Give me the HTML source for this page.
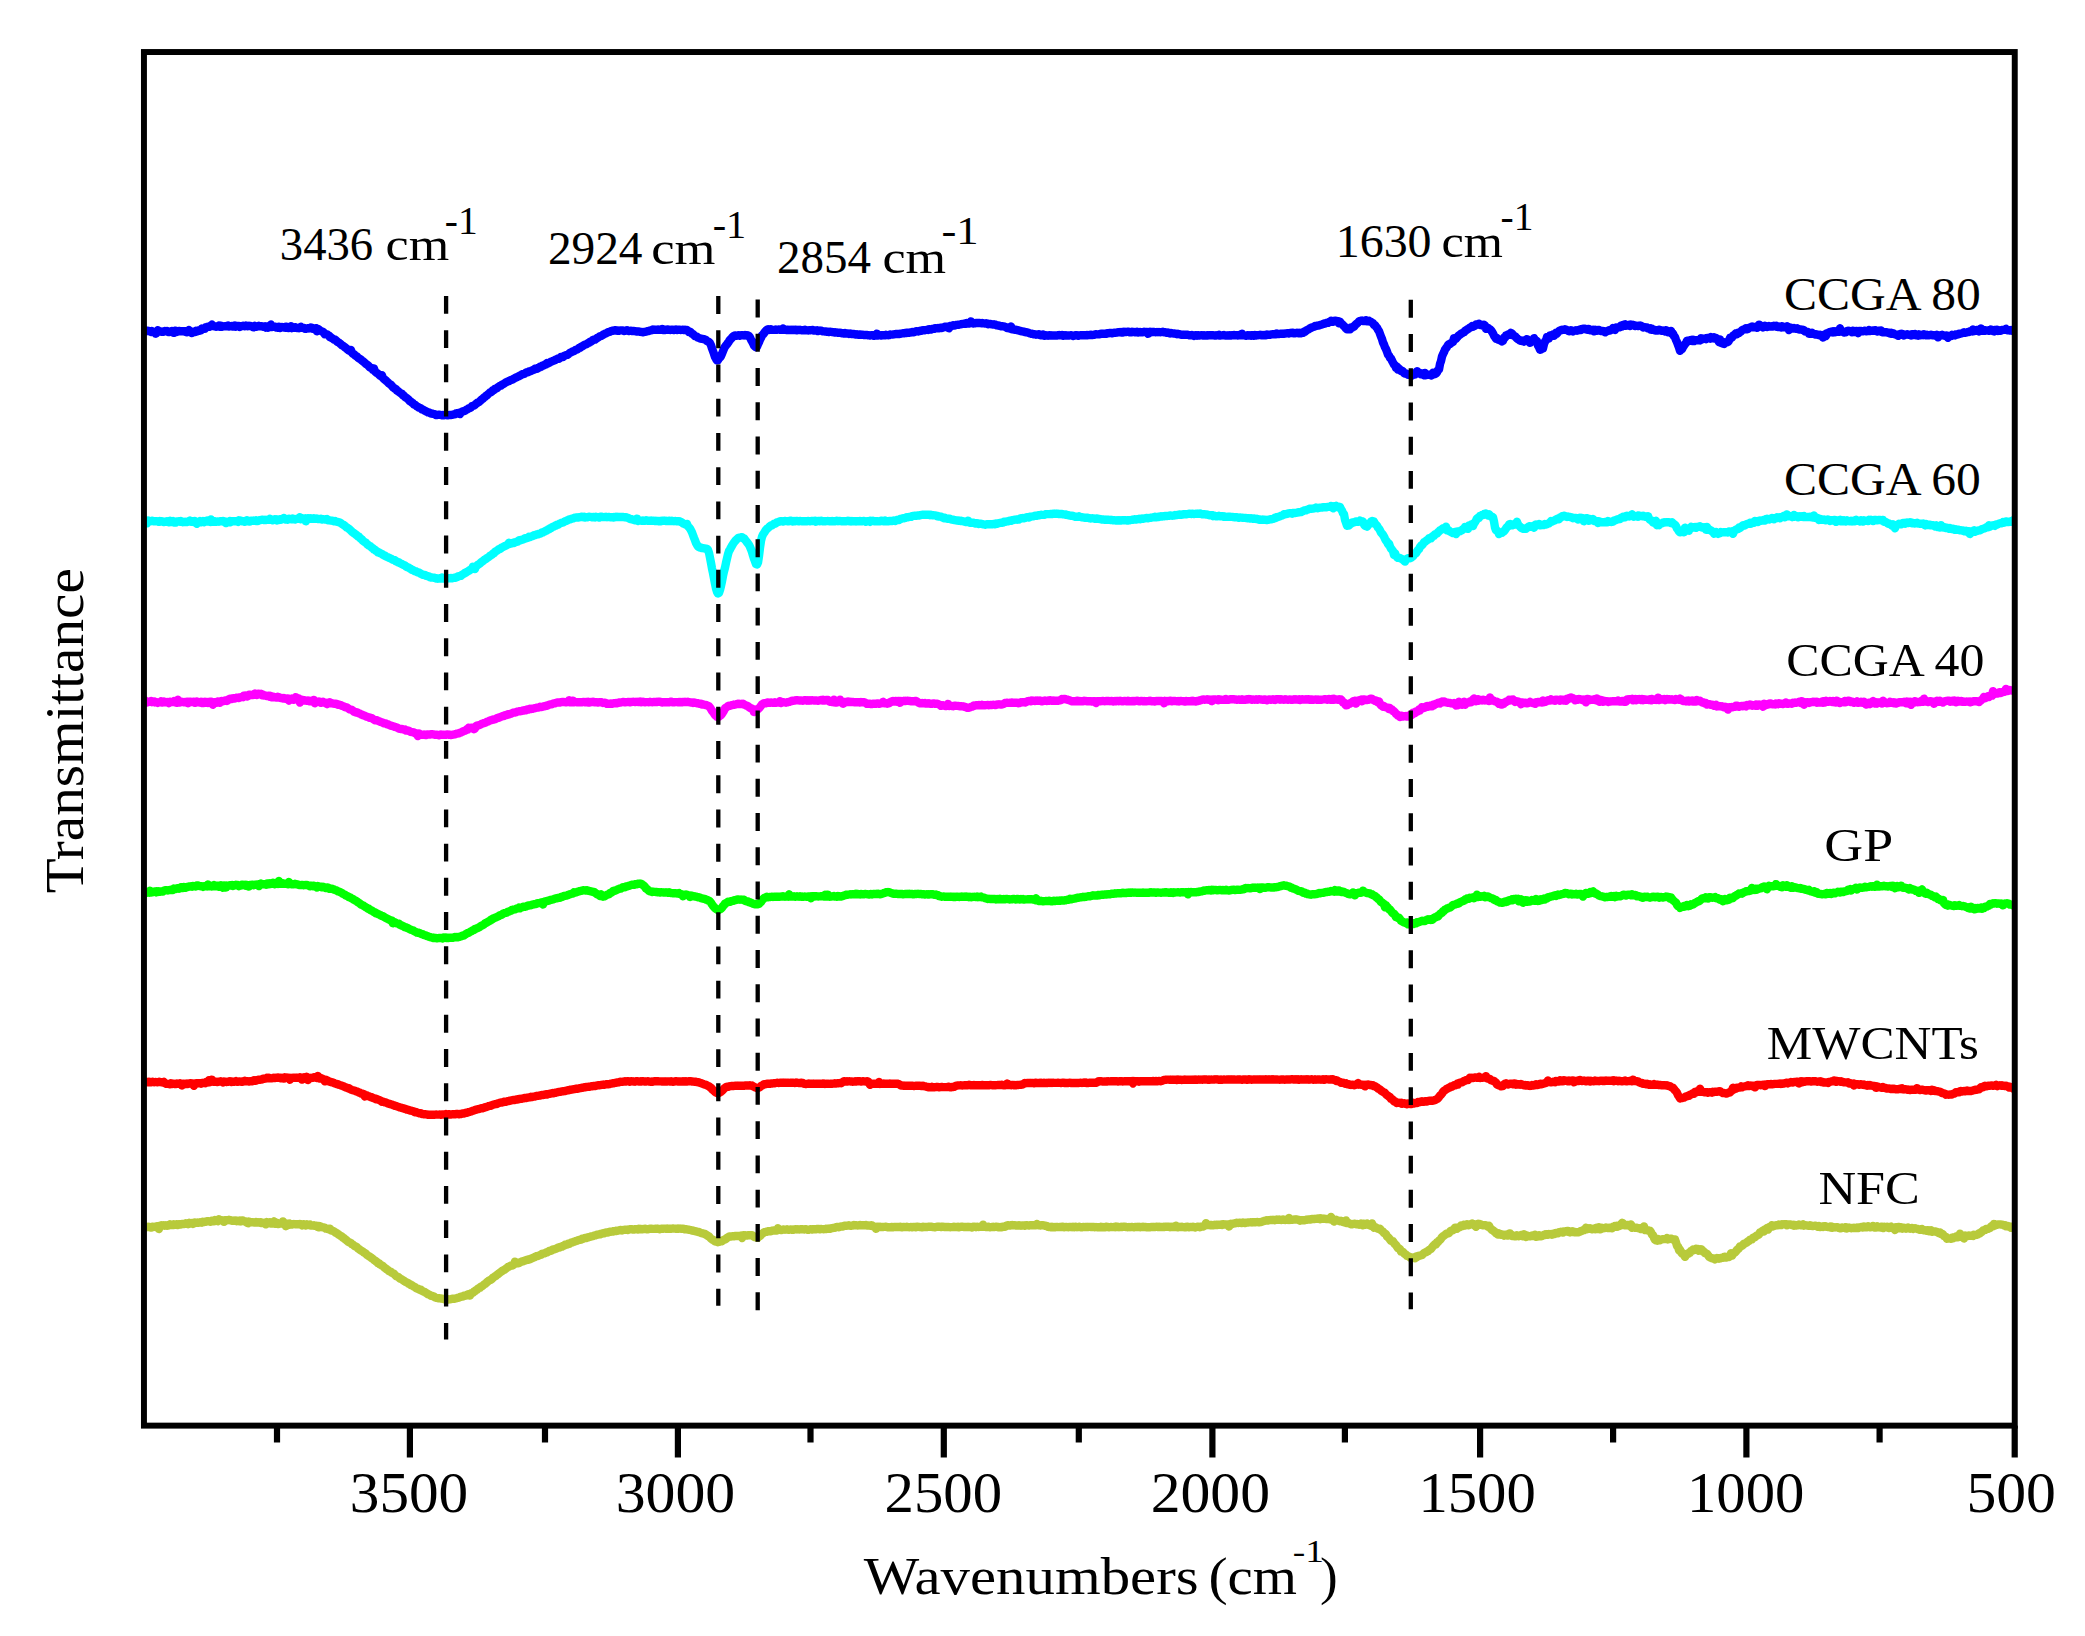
<!DOCTYPE html>
<html lang="en"><head><meta charset="utf-8"><title>FTIR spectra</title>
<style>html,body{margin:0;padding:0;background:#fff}body{width:2085px;height:1636px;overflow:hidden}svg{display:block}text{font-family:"Liberation Serif",serif;fill:#000}</style></head><body>
<svg width="2085" height="1636" viewBox="0 0 2085 1636">
<rect width="2085" height="1636" fill="#fff"/>
<clipPath id="plotclip"><rect x="143.95" y="52.03" width="1871.8" height="1373.6"/></clipPath>
<g clip-path="url(#plotclip)" fill="none" stroke-width="8.4" stroke-linejoin="round" stroke-linecap="butt">
<path stroke="#b8ca3b" d="M143.9,1227.6 L144.9,1227.7 L145.9,1227.3 L146.9,1227.0 L147.9,1227.1 L148.9,1226.8 L149.9,1227.2 L150.9,1227.6 L151.9,1226.8 L152.9,1226.6 L153.9,1227.0 L154.9,1226.8 L155.9,1226.7 L156.9,1226.1 L157.9,1226.4 L158.9,1229.0 L159.9,1225.7 L160.9,1226.0 L161.9,1225.3 L162.9,1225.5 L163.9,1225.1 L164.9,1225.7 L165.9,1225.2 L166.9,1225.7 L167.9,1225.6 L168.9,1225.4 L169.9,1224.3 L170.9,1225.0 L171.9,1225.1 L172.9,1225.1 L173.9,1224.3 L174.9,1224.7 L175.9,1224.4 L176.9,1224.3 L177.9,1225.0 L178.9,1224.1 L179.9,1224.3 L180.9,1224.6 L181.9,1223.9 L182.9,1224.0 L183.9,1224.0 L184.9,1223.9 L185.9,1223.2 L186.9,1223.7 L187.9,1224.1 L188.9,1222.8 L189.9,1223.7 L190.9,1223.3 L191.9,1222.9 L192.9,1223.9 L193.9,1223.3 L194.9,1222.4 L195.9,1222.8 L196.9,1222.9 L197.9,1222.5 L198.9,1222.7 L199.9,1222.3 L200.9,1222.5 L201.9,1222.7 L202.9,1221.8 L203.9,1222.0 L204.9,1221.6 L205.9,1221.8 L206.9,1221.1 L207.9,1221.3 L208.9,1221.3 L209.9,1221.7 L210.9,1221.7 L211.9,1220.6 L212.9,1220.7 L213.9,1221.2 L214.9,1220.0 L215.9,1220.6 L216.9,1220.7 L217.9,1221.2 L218.9,1219.2 L219.9,1220.4 L220.9,1220.3 L221.9,1220.3 L222.9,1221.0 L223.9,1221.9 L224.9,1220.2 L225.9,1220.4 L226.9,1220.2 L227.9,1220.2 L228.9,1219.8 L229.9,1220.3 L230.9,1220.2 L231.9,1220.9 L232.9,1220.7 L233.9,1220.5 L234.9,1220.9 L235.9,1220.5 L236.9,1221.2 L237.9,1220.8 L238.9,1221.2 L239.9,1220.5 L240.9,1221.3 L241.9,1220.5 L242.9,1220.5 L243.9,1221.3 L244.9,1221.1 L245.9,1221.7 L246.9,1222.6 L247.9,1223.2 L248.9,1221.6 L249.9,1222.1 L250.9,1222.3 L251.9,1222.1 L252.9,1222.1 L253.9,1222.6 L254.9,1222.6 L255.9,1222.0 L256.9,1222.4 L257.9,1222.5 L258.9,1222.1 L259.9,1222.7 L260.9,1222.3 L261.9,1223.1 L262.9,1222.9 L263.9,1222.9 L264.9,1222.6 L265.9,1224.4 L266.9,1222.1 L267.9,1222.5 L268.9,1223.2 L269.9,1222.2 L270.9,1223.5 L271.9,1222.5 L272.9,1223.6 L273.9,1221.3 L274.9,1223.7 L275.9,1223.4 L276.9,1222.8 L277.9,1224.0 L278.9,1224.1 L279.9,1223.6 L280.9,1223.5 L281.9,1223.6 L282.9,1221.4 L283.9,1224.3 L284.9,1223.6 L285.9,1226.2 L286.9,1223.6 L287.9,1223.7 L288.9,1223.5 L289.9,1224.6 L290.9,1224.1 L291.9,1224.6 L292.9,1224.2 L293.9,1224.0 L294.9,1224.2 L295.9,1224.1 L296.9,1224.4 L297.9,1224.3 L298.9,1224.4 L299.9,1224.0 L300.9,1224.3 L301.9,1225.3 L302.9,1224.4 L303.9,1224.3 L304.9,1225.0 L305.9,1225.5 L306.9,1224.4 L307.9,1225.0 L308.9,1224.9 L309.9,1224.5 L310.9,1225.6 L311.9,1225.4 L312.9,1225.5 L313.9,1225.3 L314.9,1225.9 L315.9,1225.6 L316.9,1225.9 L317.9,1227.2 L318.9,1225.9 L319.9,1227.2 L320.9,1226.6 L321.9,1227.2 L322.9,1227.4 L323.9,1227.5 L324.9,1227.8 L325.9,1228.6 L326.9,1228.6 L327.9,1229.0 L328.9,1229.4 L329.9,1228.6 L330.9,1230.3 L331.9,1230.7 L332.9,1230.9 L333.9,1231.3 L334.9,1232.2 L335.9,1232.8 L336.9,1233.2 L337.9,1234.0 L338.9,1234.7 L339.9,1235.4 L340.9,1236.1 L341.9,1236.6 L342.9,1237.7 L343.9,1238.0 L344.9,1239.1 L345.9,1239.8 L346.9,1240.6 L347.9,1241.6 L348.9,1242.2 L349.9,1242.5 L350.9,1243.1 L351.9,1244.2 L352.9,1244.6 L353.9,1245.5 L354.9,1246.3 L355.9,1246.6 L356.9,1247.2 L357.9,1248.4 L358.9,1249.0 L359.9,1249.7 L360.9,1250.5 L361.9,1251.0 L362.9,1251.6 L363.9,1252.6 L364.9,1253.1 L365.9,1253.7 L366.9,1254.9 L367.9,1255.5 L368.9,1256.3 L369.9,1256.7 L370.9,1257.5 L371.9,1258.2 L372.9,1258.9 L373.9,1259.9 L374.9,1260.4 L375.9,1261.3 L376.9,1262.0 L377.9,1263.1 L378.9,1263.2 L379.9,1264.3 L380.9,1264.9 L381.9,1265.6 L382.9,1266.1 L383.9,1267.0 L384.9,1268.0 L385.9,1268.6 L386.9,1269.4 L387.9,1270.0 L388.9,1271.0 L389.9,1271.5 L390.9,1271.8 L391.9,1272.8 L392.9,1273.3 L393.9,1273.7 L394.9,1274.9 L395.9,1275.9 L396.9,1276.4 L397.9,1276.8 L398.9,1277.5 L399.9,1278.5 L400.9,1278.9 L401.9,1279.5 L402.9,1280.1 L403.9,1280.8 L404.9,1281.5 L405.9,1282.1 L406.9,1282.6 L407.9,1282.9 L408.9,1283.8 L409.9,1284.2 L410.9,1285.1 L411.9,1285.2 L412.9,1286.0 L413.9,1286.6 L414.9,1286.9 L415.9,1288.0 L416.9,1288.5 L417.9,1288.6 L418.9,1289.4 L419.9,1289.8 L420.9,1289.8 L421.9,1290.8 L422.9,1291.3 L423.9,1291.8 L424.9,1292.1 L425.9,1292.8 L426.9,1293.4 L427.9,1294.2 L428.9,1294.5 L429.9,1295.0 L430.9,1295.8 L431.9,1295.8 L432.9,1296.3 L433.9,1296.4 L434.9,1297.5 L435.9,1297.7 L436.9,1298.0 L437.9,1298.2 L438.9,1298.2 L439.9,1298.4 L440.9,1298.5 L441.9,1298.6 L442.9,1298.8 L443.9,1299.2 L444.9,1299.1 L445.9,1299.1 L446.9,1299.0 L447.9,1299.1 L448.9,1299.5 L449.9,1299.3 L450.9,1299.1 L451.9,1298.9 L452.9,1298.7 L453.9,1298.7 L454.9,1298.7 L455.9,1298.3 L456.9,1298.1 L457.9,1297.8 L458.9,1297.6 L459.9,1297.0 L460.9,1296.9 L461.9,1296.5 L462.9,1296.5 L463.9,1295.8 L464.9,1295.7 L465.9,1295.6 L466.9,1294.8 L467.9,1294.4 L468.9,1294.2 L469.9,1295.6 L470.9,1293.2 L471.9,1292.9 L472.9,1292.7 L473.9,1291.7 L474.9,1291.1 L475.9,1290.3 L476.9,1289.8 L477.9,1288.8 L478.9,1288.1 L479.9,1287.8 L480.9,1286.7 L481.9,1286.3 L482.9,1285.6 L483.9,1284.6 L484.9,1283.9 L485.9,1283.4 L486.9,1282.2 L487.9,1281.5 L488.9,1280.6 L489.9,1280.2 L490.9,1279.7 L491.9,1278.9 L492.9,1277.8 L493.9,1277.1 L494.9,1276.4 L495.9,1275.8 L496.9,1274.9 L497.9,1274.2 L498.9,1273.5 L499.9,1272.6 L500.9,1271.9 L501.9,1271.2 L502.9,1270.4 L503.9,1269.9 L504.9,1269.5 L505.9,1268.6 L506.9,1267.9 L507.9,1267.0 L508.9,1266.9 L509.9,1265.9 L510.9,1265.6 L511.9,1265.6 L513.0,1265.1 L514.0,1264.5 L515.0,1261.6 L516.0,1263.7 L517.0,1263.3 L518.0,1263.2 L519.0,1263.1 L520.0,1262.4 L521.0,1261.8 L522.0,1261.4 L523.0,1261.3 L524.0,1260.9 L525.0,1260.4 L526.0,1260.3 L527.0,1259.8 L528.0,1259.9 L529.0,1259.5 L530.0,1259.2 L531.0,1258.5 L532.0,1258.3 L533.0,1257.8 L534.0,1257.4 L535.0,1257.0 L536.0,1256.4 L537.0,1256.0 L538.0,1256.0 L539.0,1255.4 L540.0,1255.1 L541.0,1254.8 L542.0,1253.9 L543.0,1253.7 L544.0,1253.5 L545.0,1253.1 L546.0,1252.5 L547.0,1252.4 L548.0,1251.8 L549.0,1251.1 L550.0,1250.8 L551.0,1250.7 L552.0,1250.2 L553.0,1249.4 L554.0,1249.6 L555.0,1249.1 L556.0,1248.8 L557.0,1248.1 L558.0,1247.7 L559.0,1247.2 L560.0,1247.5 L561.0,1246.6 L562.0,1246.6 L563.0,1245.8 L564.0,1245.6 L565.0,1244.8 L566.0,1244.7 L567.0,1244.6 L568.0,1243.8 L569.0,1243.9 L570.0,1243.4 L571.0,1242.7 L572.0,1242.5 L573.0,1242.1 L574.0,1241.8 L575.0,1241.4 L576.0,1241.0 L577.0,1240.7 L578.0,1240.2 L579.0,1239.9 L580.0,1239.8 L581.0,1239.6 L582.0,1238.8 L583.0,1238.8 L584.0,1238.4 L585.0,1238.0 L586.0,1238.1 L587.0,1237.5 L588.0,1237.6 L589.0,1236.9 L590.0,1236.9 L591.0,1236.5 L592.0,1236.1 L593.0,1236.1 L594.0,1235.7 L595.0,1235.5 L596.0,1235.1 L597.0,1234.7 L598.0,1234.6 L599.0,1234.4 L600.0,1234.3 L601.0,1233.7 L602.0,1233.7 L603.0,1233.1 L604.0,1233.4 L605.0,1232.8 L606.0,1232.5 L607.0,1232.6 L608.0,1232.6 L609.0,1231.9 L610.0,1231.8 L611.0,1231.7 L612.0,1231.5 L613.0,1231.6 L614.0,1231.2 L615.0,1231.0 L616.0,1231.1 L617.0,1230.7 L618.0,1230.7 L619.0,1230.3 L620.0,1230.1 L621.0,1229.9 L622.0,1230.4 L623.0,1229.9 L624.0,1229.9 L625.0,1229.8 L626.0,1229.8 L627.0,1229.7 L628.0,1230.0 L629.0,1229.4 L630.0,1229.3 L631.0,1229.3 L632.0,1229.2 L633.0,1229.6 L634.0,1229.6 L635.0,1229.2 L636.0,1229.1 L637.0,1229.3 L638.0,1229.6 L639.0,1228.7 L640.0,1229.3 L641.0,1229.0 L642.0,1229.4 L643.0,1228.9 L644.0,1229.1 L645.0,1228.8 L646.0,1228.9 L647.0,1229.3 L648.0,1229.2 L649.0,1228.9 L650.0,1228.8 L651.0,1228.6 L652.0,1228.9 L653.0,1228.9 L654.0,1228.9 L655.0,1228.9 L656.0,1228.6 L657.0,1228.8 L658.0,1228.8 L659.0,1229.1 L660.0,1229.2 L661.0,1228.8 L662.0,1228.6 L663.0,1228.7 L664.0,1228.6 L665.0,1228.6 L666.0,1228.7 L667.0,1228.5 L668.0,1228.8 L669.0,1228.7 L670.0,1228.7 L671.0,1228.7 L672.0,1228.6 L673.0,1228.5 L674.0,1228.6 L675.0,1228.6 L676.0,1228.7 L677.0,1228.7 L678.0,1228.4 L679.0,1228.7 L680.0,1228.5 L681.0,1228.7 L682.0,1228.8 L683.0,1228.6 L684.0,1229.1 L685.0,1229.3 L686.0,1229.3 L687.0,1229.4 L688.0,1229.6 L689.0,1229.7 L690.0,1230.0 L691.0,1230.2 L692.0,1230.5 L693.0,1230.5 L694.0,1231.0 L695.0,1231.2 L696.0,1231.4 L697.0,1231.6 L698.0,1232.1 L699.0,1231.9 L700.0,1232.6 L701.0,1232.9 L702.0,1233.2 L703.0,1233.5 L704.0,1233.6 L705.0,1234.0 L706.0,1234.7 L707.0,1235.3 L708.0,1236.0 L709.0,1236.4 L710.0,1237.6 L711.0,1238.6 L712.0,1239.3 L713.0,1240.0 L714.0,1240.3 L715.0,1241.4 L716.0,1241.6 L717.0,1241.5 L718.0,1242.2 L719.0,1241.8 L720.0,1241.6 L721.0,1241.3 L722.0,1241.2 L723.0,1240.3 L724.0,1239.8 L725.0,1239.5 L726.0,1238.8 L727.0,1237.9 L728.0,1237.3 L729.0,1236.6 L730.0,1236.4 L731.0,1236.5 L732.0,1236.4 L733.0,1236.2 L734.0,1236.3 L735.0,1235.9 L736.0,1236.0 L737.0,1236.0 L738.0,1235.9 L739.0,1236.0 L740.0,1235.8 L741.0,1235.6 L742.0,1238.0 L743.0,1235.4 L744.0,1235.2 L745.0,1235.6 L746.0,1235.5 L747.0,1235.5 L748.0,1235.1 L749.0,1235.3 L750.0,1235.3 L751.0,1235.2 L752.0,1235.1 L753.0,1235.9 L754.0,1236.7 L755.0,1237.2 L756.0,1237.4 L757.0,1237.7 L758.0,1237.7 L759.0,1236.4 L760.0,1236.0 L761.0,1235.0 L762.0,1233.9 L763.0,1233.2 L764.0,1232.4 L765.0,1232.0 L766.0,1231.8 L767.0,1231.7 L768.0,1231.2 L769.0,1231.1 L770.0,1231.2 L771.0,1231.2 L772.0,1230.7 L773.0,1230.5 L774.0,1230.5 L775.0,1230.6 L776.0,1230.2 L777.0,1230.4 L778.0,1228.2 L779.0,1229.9 L780.0,1229.9 L781.0,1230.0 L782.0,1230.0 L783.0,1229.5 L784.0,1229.5 L785.0,1229.7 L786.0,1229.5 L787.0,1229.3 L788.0,1229.8 L789.0,1229.7 L790.0,1229.6 L791.0,1229.4 L792.0,1229.7 L793.0,1229.4 L794.0,1229.7 L795.0,1229.3 L796.0,1229.3 L797.0,1229.5 L798.0,1229.3 L799.0,1229.5 L800.0,1229.4 L801.0,1229.2 L802.0,1229.4 L803.0,1229.3 L804.0,1229.5 L805.0,1229.2 L806.0,1229.3 L807.0,1229.6 L808.0,1229.8 L809.0,1229.7 L810.0,1229.3 L811.0,1229.3 L812.0,1229.6 L813.0,1229.2 L814.0,1229.1 L815.0,1229.3 L816.0,1229.3 L817.0,1229.0 L818.0,1228.9 L819.0,1228.9 L820.0,1229.3 L821.0,1229.0 L822.0,1229.1 L823.0,1229.1 L824.0,1229.2 L825.0,1229.0 L826.0,1229.1 L827.0,1228.7 L828.0,1228.7 L829.0,1228.5 L830.0,1228.8 L831.0,1228.4 L832.0,1228.1 L833.0,1228.0 L834.0,1227.8 L835.0,1227.8 L836.0,1227.1 L837.0,1227.0 L838.0,1227.0 L839.0,1227.3 L840.0,1226.8 L841.0,1226.4 L842.0,1226.4 L843.0,1226.5 L844.0,1225.9 L845.0,1225.7 L846.0,1225.9 L847.0,1225.6 L848.0,1225.6 L849.0,1225.3 L850.0,1225.7 L851.0,1225.7 L852.0,1225.4 L853.0,1225.5 L854.0,1224.9 L855.0,1225.4 L856.0,1225.3 L857.0,1225.4 L858.0,1225.5 L859.0,1225.3 L860.0,1225.0 L861.0,1225.4 L862.0,1225.2 L863.0,1225.3 L864.0,1225.2 L865.0,1225.3 L866.0,1224.9 L867.0,1225.6 L868.0,1225.4 L869.0,1225.5 L870.0,1225.7 L871.0,1225.3 L872.0,1225.4 L873.0,1226.3 L874.0,1226.8 L875.0,1226.9 L876.0,1228.8 L877.0,1226.6 L878.0,1227.1 L879.0,1226.7 L880.0,1227.1 L881.0,1227.0 L882.0,1226.9 L883.0,1227.0 L884.0,1226.9 L885.0,1226.9 L886.0,1226.7 L887.0,1227.0 L888.0,1227.4 L889.0,1227.4 L890.0,1227.3 L891.0,1227.1 L892.0,1226.9 L893.0,1227.3 L894.0,1227.0 L895.0,1227.0 L896.0,1226.9 L897.0,1227.0 L898.0,1226.9 L899.0,1227.0 L900.0,1226.8 L901.0,1226.9 L902.0,1227.4 L903.0,1227.0 L904.0,1227.0 L905.0,1227.1 L906.0,1227.1 L907.0,1226.8 L908.0,1227.0 L909.0,1227.2 L910.0,1227.1 L911.0,1227.0 L912.0,1227.3 L913.0,1226.9 L914.0,1227.0 L915.0,1226.9 L916.0,1227.3 L917.0,1226.6 L918.0,1226.9 L919.0,1226.9 L920.0,1227.1 L921.0,1227.1 L922.0,1227.3 L923.0,1226.7 L924.0,1227.1 L925.0,1226.9 L926.0,1226.9 L927.0,1227.1 L928.0,1226.8 L929.0,1226.6 L930.0,1226.9 L931.0,1226.7 L932.0,1226.9 L933.0,1227.1 L934.0,1227.1 L935.0,1227.3 L936.0,1227.0 L937.0,1226.7 L938.0,1226.9 L939.0,1226.8 L940.0,1226.8 L941.0,1227.1 L942.0,1226.9 L943.0,1226.6 L944.0,1227.1 L945.0,1227.0 L946.0,1227.1 L947.0,1227.0 L948.0,1227.1 L949.0,1227.0 L950.0,1227.2 L951.0,1227.1 L952.0,1227.1 L953.0,1227.1 L954.0,1226.7 L955.0,1227.0 L956.0,1227.0 L957.0,1227.0 L958.0,1226.7 L959.0,1227.3 L960.0,1227.0 L961.0,1226.8 L962.0,1226.7 L963.0,1226.9 L964.0,1227.0 L965.0,1226.9 L966.0,1227.0 L967.0,1226.9 L968.0,1227.1 L969.0,1226.9 L970.0,1227.0 L971.0,1227.2 L972.0,1227.5 L973.0,1226.8 L974.0,1226.9 L975.0,1226.8 L976.0,1227.2 L977.0,1226.8 L978.0,1226.9 L979.0,1227.0 L980.0,1226.8 L981.0,1226.8 L982.0,1226.9 L983.0,1224.6 L984.0,1226.7 L985.0,1226.9 L986.0,1227.0 L987.0,1227.0 L988.0,1226.7 L989.0,1226.9 L990.0,1227.2 L991.0,1227.1 L992.0,1227.0 L993.0,1226.8 L994.0,1227.1 L995.0,1226.9 L996.0,1226.8 L997.0,1226.8 L998.0,1227.3 L999.0,1227.0 L1000.0,1227.2 L1001.0,1226.9 L1002.0,1227.2 L1003.0,1226.7 L1004.0,1226.5 L1005.0,1226.7 L1006.0,1226.0 L1007.0,1225.4 L1008.0,1225.3 L1009.0,1225.4 L1010.0,1225.6 L1011.0,1225.2 L1012.0,1225.0 L1013.0,1225.3 L1014.0,1225.3 L1015.0,1225.3 L1016.0,1225.6 L1017.0,1225.4 L1018.0,1225.5 L1019.0,1225.1 L1020.0,1225.5 L1021.0,1225.7 L1022.0,1225.5 L1023.0,1225.4 L1024.0,1225.4 L1025.0,1225.7 L1026.0,1225.1 L1027.0,1225.3 L1028.0,1225.4 L1029.0,1225.5 L1030.0,1225.2 L1031.0,1225.4 L1032.0,1225.3 L1033.0,1225.3 L1034.0,1225.3 L1035.0,1225.1 L1036.0,1225.3 L1037.0,1224.0 L1038.0,1225.1 L1039.0,1225.3 L1040.0,1225.5 L1041.0,1225.1 L1042.0,1225.4 L1043.0,1225.1 L1044.0,1225.5 L1045.0,1225.8 L1046.0,1225.8 L1047.0,1226.0 L1048.0,1226.9 L1049.0,1227.0 L1050.0,1227.0 L1051.0,1227.3 L1052.0,1226.7 L1053.0,1227.2 L1054.0,1227.0 L1055.0,1227.3 L1056.0,1227.0 L1057.0,1226.9 L1058.0,1227.1 L1059.0,1227.1 L1060.0,1227.0 L1061.0,1227.1 L1062.0,1226.9 L1063.0,1226.6 L1064.0,1227.2 L1065.0,1227.1 L1066.0,1227.0 L1067.0,1227.0 L1068.0,1227.2 L1069.0,1226.9 L1070.0,1226.9 L1071.0,1227.0 L1072.0,1227.2 L1073.0,1226.7 L1074.0,1227.2 L1075.0,1226.9 L1076.0,1226.8 L1077.0,1227.2 L1078.0,1227.0 L1079.0,1226.8 L1080.0,1226.9 L1081.0,1227.2 L1082.0,1227.2 L1083.0,1226.9 L1084.0,1227.1 L1085.0,1227.1 L1086.0,1226.9 L1087.0,1227.1 L1088.0,1227.0 L1089.0,1226.9 L1090.0,1226.9 L1091.0,1227.0 L1092.0,1227.0 L1093.0,1226.9 L1094.0,1226.9 L1095.0,1227.2 L1096.0,1227.0 L1097.0,1227.2 L1098.0,1227.2 L1099.0,1227.1 L1100.0,1227.4 L1101.0,1226.8 L1102.0,1227.2 L1103.0,1226.9 L1104.0,1227.4 L1105.0,1227.3 L1106.0,1226.6 L1107.0,1226.8 L1108.0,1227.1 L1109.0,1227.2 L1110.0,1227.1 L1111.0,1227.0 L1112.0,1227.1 L1113.0,1227.1 L1114.0,1227.0 L1115.0,1227.2 L1116.0,1226.6 L1117.0,1227.1 L1118.0,1226.8 L1119.0,1227.2 L1120.0,1227.0 L1121.0,1226.8 L1122.0,1227.1 L1123.0,1226.8 L1124.0,1226.8 L1125.0,1226.7 L1126.0,1227.0 L1127.0,1227.1 L1128.0,1227.2 L1129.0,1227.0 L1130.0,1227.2 L1131.0,1227.0 L1132.0,1227.0 L1133.0,1227.1 L1134.0,1227.2 L1135.0,1226.9 L1136.0,1227.0 L1137.0,1227.0 L1138.0,1227.0 L1139.0,1226.8 L1140.0,1227.2 L1141.0,1226.9 L1142.0,1227.1 L1143.0,1226.8 L1144.0,1227.1 L1145.0,1227.1 L1146.0,1226.9 L1147.0,1227.4 L1148.0,1227.1 L1149.0,1227.3 L1150.0,1227.2 L1151.0,1226.9 L1152.0,1226.9 L1153.0,1227.1 L1154.0,1227.0 L1155.0,1227.0 L1156.0,1226.9 L1157.0,1226.7 L1158.0,1227.0 L1159.0,1226.6 L1160.0,1227.1 L1161.0,1226.9 L1162.0,1226.9 L1163.0,1227.0 L1164.0,1227.1 L1165.0,1226.7 L1166.0,1226.7 L1167.0,1226.8 L1168.0,1226.6 L1169.0,1226.8 L1170.0,1227.3 L1171.0,1226.8 L1172.0,1227.1 L1173.0,1226.7 L1174.0,1227.1 L1175.0,1226.9 L1176.0,1225.7 L1177.0,1227.1 L1178.0,1227.3 L1179.0,1227.0 L1180.0,1227.0 L1181.0,1226.8 L1182.0,1227.1 L1183.0,1227.0 L1184.0,1227.2 L1185.0,1227.0 L1186.0,1227.3 L1187.0,1226.6 L1188.0,1226.9 L1189.0,1227.2 L1190.0,1226.9 L1191.0,1226.9 L1192.0,1227.0 L1193.0,1226.7 L1194.0,1227.0 L1195.0,1227.5 L1196.0,1227.2 L1197.0,1226.8 L1198.0,1226.8 L1199.0,1226.9 L1200.0,1227.2 L1201.0,1226.7 L1202.0,1226.5 L1203.0,1226.5 L1204.0,1226.1 L1205.0,1225.6 L1206.0,1223.1 L1207.0,1225.0 L1208.0,1225.1 L1209.0,1224.7 L1210.0,1225.2 L1211.0,1224.9 L1212.0,1225.1 L1213.0,1225.3 L1214.0,1225.1 L1215.0,1224.7 L1216.0,1225.0 L1217.0,1225.1 L1218.0,1224.7 L1219.0,1224.6 L1220.0,1224.7 L1221.0,1224.4 L1222.0,1225.0 L1223.0,1224.2 L1224.0,1224.4 L1225.0,1224.6 L1226.0,1224.5 L1227.0,1224.6 L1228.0,1224.5 L1229.0,1226.5 L1230.0,1224.5 L1231.0,1223.8 L1232.0,1224.0 L1233.0,1223.6 L1234.0,1223.5 L1235.0,1223.3 L1236.0,1222.9 L1237.0,1222.8 L1238.0,1223.0 L1239.0,1222.9 L1240.0,1222.6 L1241.0,1223.1 L1242.0,1223.1 L1243.0,1222.4 L1244.0,1222.7 L1245.0,1223.1 L1246.0,1222.7 L1247.0,1222.6 L1248.0,1222.5 L1249.0,1222.4 L1250.0,1222.4 L1251.0,1222.3 L1252.0,1222.5 L1253.0,1222.3 L1254.0,1222.2 L1255.0,1222.1 L1256.0,1222.2 L1257.0,1222.0 L1258.0,1222.1 L1259.0,1222.3 L1260.0,1222.1 L1261.0,1222.0 L1262.0,1221.7 L1263.0,1221.3 L1264.0,1221.0 L1265.0,1220.6 L1266.0,1220.6 L1267.0,1220.1 L1268.0,1220.5 L1269.0,1220.2 L1270.0,1220.0 L1271.0,1220.0 L1272.0,1219.9 L1273.0,1220.1 L1274.0,1219.9 L1275.0,1220.2 L1276.0,1219.8 L1277.0,1219.5 L1278.0,1219.7 L1279.0,1219.5 L1280.0,1219.8 L1281.0,1220.0 L1282.0,1219.9 L1283.0,1219.5 L1284.0,1219.6 L1285.0,1220.1 L1286.0,1219.8 L1287.0,1219.7 L1288.0,1219.9 L1289.0,1218.0 L1290.0,1219.9 L1291.0,1219.7 L1292.0,1219.7 L1293.0,1219.7 L1294.0,1219.5 L1295.0,1219.4 L1296.0,1219.6 L1297.0,1219.4 L1298.0,1219.7 L1299.0,1220.1 L1300.0,1220.7 L1301.0,1220.1 L1302.0,1220.2 L1303.0,1220.2 L1304.0,1220.2 L1305.0,1220.2 L1306.0,1219.8 L1307.0,1219.7 L1308.0,1219.4 L1309.0,1219.4 L1310.0,1219.6 L1311.0,1219.4 L1312.0,1219.0 L1313.0,1219.1 L1314.0,1219.0 L1315.0,1219.0 L1316.0,1218.8 L1317.0,1218.8 L1318.0,1218.4 L1319.0,1218.5 L1320.0,1219.1 L1321.0,1218.3 L1322.0,1218.7 L1323.0,1218.9 L1324.0,1218.8 L1325.0,1218.8 L1326.0,1219.0 L1327.0,1219.1 L1328.0,1219.1 L1329.0,1218.9 L1330.0,1219.3 L1331.0,1216.9 L1332.0,1219.3 L1333.0,1219.7 L1334.0,1221.5 L1335.0,1220.2 L1336.0,1219.8 L1337.0,1220.5 L1338.0,1220.7 L1339.0,1220.9 L1340.0,1221.2 L1341.0,1220.8 L1342.0,1221.2 L1343.0,1222.0 L1344.0,1221.5 L1345.0,1222.5 L1346.0,1220.4 L1347.0,1223.0 L1348.0,1222.7 L1349.0,1223.3 L1350.0,1223.7 L1351.0,1224.2 L1352.0,1224.3 L1353.0,1223.9 L1354.0,1223.9 L1355.0,1223.7 L1356.0,1224.2 L1357.0,1224.0 L1358.0,1224.3 L1359.0,1224.8 L1360.0,1224.1 L1361.0,1223.5 L1362.0,1223.8 L1363.0,1225.3 L1364.0,1223.7 L1365.0,1224.8 L1366.0,1224.4 L1367.0,1223.7 L1368.0,1224.7 L1369.0,1225.0 L1370.0,1224.5 L1371.0,1225.9 L1372.0,1223.5 L1373.0,1225.6 L1374.0,1227.8 L1375.0,1227.0 L1376.0,1227.5 L1377.0,1228.1 L1378.0,1228.8 L1379.0,1229.1 L1380.0,1228.8 L1381.0,1230.1 L1382.0,1231.0 L1383.0,1231.6 L1384.0,1233.0 L1385.0,1233.5 L1386.0,1234.3 L1387.0,1236.4 L1388.0,1237.2 L1389.0,1238.1 L1390.0,1239.5 L1391.0,1240.7 L1392.0,1241.4 L1393.0,1241.2 L1394.0,1243.0 L1395.0,1244.2 L1396.0,1245.1 L1397.0,1246.6 L1398.0,1248.1 L1399.0,1248.5 L1400.0,1249.2 L1401.0,1251.5 L1402.0,1251.4 L1403.0,1251.9 L1404.0,1253.3 L1405.0,1254.2 L1406.0,1254.5 L1407.0,1256.0 L1408.0,1256.2 L1409.0,1256.6 L1410.0,1257.5 L1411.0,1258.0 L1412.0,1257.4 L1413.0,1257.7 L1414.0,1257.3 L1415.0,1258.3 L1416.0,1256.5 L1417.0,1257.1 L1418.0,1256.1 L1419.0,1255.7 L1420.0,1255.7 L1421.0,1255.3 L1422.0,1255.0 L1423.0,1254.0 L1424.0,1253.1 L1425.0,1252.5 L1426.0,1252.2 L1427.0,1251.5 L1428.0,1251.1 L1429.0,1250.0 L1430.0,1249.5 L1431.0,1248.9 L1432.0,1247.5 L1433.0,1246.1 L1434.0,1245.3 L1435.0,1244.2 L1436.0,1244.4 L1437.0,1242.3 L1438.0,1242.0 L1439.0,1240.6 L1440.0,1240.0 L1441.0,1238.7 L1442.0,1237.2 L1443.0,1236.3 L1444.0,1235.6 L1445.0,1234.9 L1446.0,1233.9 L1447.0,1233.5 L1448.0,1233.5 L1449.0,1233.0 L1450.0,1231.7 L1451.0,1230.6 L1452.0,1230.5 L1453.0,1230.2 L1454.0,1229.3 L1455.0,1227.7 L1456.0,1227.8 L1457.0,1228.6 L1458.0,1227.5 L1459.0,1227.6 L1460.0,1227.1 L1461.0,1225.6 L1462.0,1226.0 L1463.0,1226.1 L1464.0,1224.7 L1465.0,1225.5 L1466.0,1225.2 L1467.0,1224.3 L1468.0,1225.2 L1469.0,1225.2 L1470.0,1224.3 L1471.0,1224.1 L1472.0,1223.5 L1473.0,1224.5 L1474.0,1225.3 L1475.0,1224.5 L1476.0,1226.9 L1477.0,1224.5 L1478.0,1223.9 L1479.0,1225.0 L1480.0,1224.0 L1481.0,1224.6 L1482.0,1224.9 L1483.0,1225.3 L1484.0,1225.2 L1485.0,1225.4 L1486.0,1225.3 L1487.0,1225.7 L1488.0,1226.9 L1489.0,1225.8 L1490.0,1227.9 L1491.0,1228.8 L1492.0,1230.0 L1493.0,1230.3 L1494.0,1231.3 L1495.0,1231.9 L1496.0,1233.2 L1497.0,1233.7 L1498.0,1234.6 L1499.0,1233.4 L1500.0,1233.9 L1501.0,1234.8 L1502.0,1234.5 L1503.0,1234.6 L1504.0,1235.6 L1505.0,1234.9 L1506.0,1234.7 L1507.0,1234.8 L1508.0,1235.6 L1509.0,1233.6 L1510.0,1233.4 L1511.0,1235.4 L1512.0,1236.1 L1513.0,1236.1 L1514.0,1235.7 L1515.0,1236.3 L1516.0,1236.3 L1517.0,1235.3 L1518.0,1235.9 L1519.0,1236.2 L1520.0,1235.8 L1521.0,1235.1 L1522.0,1235.9 L1523.0,1236.3 L1524.0,1234.3 L1525.0,1235.1 L1526.0,1237.0 L1527.0,1235.5 L1528.0,1236.3 L1529.0,1236.4 L1530.0,1236.3 L1531.0,1235.9 L1532.0,1235.4 L1533.0,1236.1 L1534.0,1235.5 L1535.0,1234.7 L1536.0,1236.9 L1537.0,1236.0 L1538.0,1236.4 L1539.0,1235.3 L1540.0,1236.2 L1541.0,1236.2 L1542.0,1236.1 L1543.0,1235.4 L1544.0,1234.8 L1545.0,1235.1 L1546.0,1234.1 L1547.0,1234.1 L1548.0,1234.7 L1549.0,1234.0 L1550.0,1234.2 L1551.0,1234.0 L1552.0,1234.7 L1553.0,1234.2 L1554.0,1233.5 L1555.0,1233.9 L1556.0,1232.9 L1557.0,1232.9 L1558.0,1233.2 L1559.0,1232.2 L1560.0,1232.4 L1561.0,1231.7 L1562.0,1232.2 L1563.0,1232.6 L1564.0,1231.5 L1565.0,1231.7 L1566.0,1231.2 L1567.0,1231.0 L1568.0,1230.9 L1569.0,1232.0 L1570.0,1232.4 L1571.0,1231.7 L1572.0,1231.3 L1573.0,1232.0 L1574.0,1231.7 L1575.0,1232.3 L1576.0,1232.2 L1577.0,1232.3 L1578.0,1232.4 L1579.0,1231.9 L1580.0,1231.7 L1581.0,1230.9 L1582.0,1231.0 L1583.0,1230.1 L1584.0,1230.1 L1585.0,1229.3 L1586.0,1227.7 L1587.0,1229.2 L1588.0,1228.3 L1589.0,1228.5 L1590.0,1228.3 L1591.0,1229.0 L1592.0,1229.3 L1593.0,1228.9 L1594.0,1228.4 L1595.0,1229.1 L1596.0,1227.8 L1597.0,1229.0 L1598.0,1228.1 L1599.0,1227.2 L1600.0,1229.4 L1601.0,1228.9 L1602.0,1227.8 L1603.0,1228.3 L1604.0,1228.1 L1605.0,1228.1 L1606.0,1227.4 L1607.0,1227.7 L1608.0,1228.1 L1609.0,1227.8 L1610.0,1228.1 L1611.0,1227.5 L1612.0,1228.3 L1613.0,1226.8 L1614.0,1227.0 L1615.0,1225.9 L1616.0,1225.9 L1617.0,1226.8 L1618.0,1225.7 L1619.0,1226.1 L1620.0,1225.7 L1621.0,1225.1 L1622.0,1222.8 L1623.0,1223.3 L1624.0,1225.0 L1625.0,1225.4 L1626.0,1225.4 L1627.0,1224.9 L1628.0,1224.9 L1629.0,1225.7 L1630.0,1225.8 L1631.0,1224.5 L1632.0,1227.8 L1633.0,1227.4 L1634.0,1227.4 L1635.0,1227.7 L1636.0,1227.7 L1637.0,1227.8 L1638.0,1228.0 L1639.0,1228.4 L1640.0,1228.5 L1641.0,1229.1 L1642.0,1228.7 L1643.0,1228.9 L1644.0,1226.4 L1645.0,1230.0 L1646.0,1229.7 L1647.0,1230.4 L1648.0,1230.2 L1649.0,1230.8 L1650.0,1230.7 L1651.0,1232.3 L1652.0,1234.8 L1653.0,1235.1 L1654.0,1237.9 L1655.0,1239.7 L1656.0,1240.3 L1657.0,1240.7 L1658.0,1238.9 L1659.0,1240.0 L1660.0,1240.3 L1661.0,1239.5 L1662.0,1239.3 L1663.0,1239.1 L1664.0,1239.1 L1665.0,1239.0 L1666.0,1238.9 L1667.0,1238.0 L1668.0,1239.4 L1669.0,1239.0 L1670.0,1238.9 L1671.0,1238.6 L1672.0,1238.9 L1673.0,1239.4 L1674.0,1239.6 L1675.0,1239.5 L1676.0,1242.4 L1677.0,1245.9 L1678.0,1246.5 L1679.0,1250.0 L1680.0,1249.8 L1681.0,1252.0 L1682.0,1253.6 L1683.0,1253.3 L1684.0,1254.5 L1685.0,1256.9 L1686.0,1254.7 L1687.0,1254.3 L1688.0,1253.9 L1689.0,1252.8 L1690.0,1252.8 L1691.0,1250.9 L1692.0,1250.9 L1693.0,1249.6 L1694.0,1250.2 L1695.0,1249.8 L1696.0,1248.6 L1697.0,1249.6 L1698.0,1249.1 L1699.0,1250.7 L1700.0,1250.1 L1701.0,1249.2 L1702.0,1249.8 L1703.0,1251.6 L1704.0,1251.6 L1705.0,1253.1 L1706.0,1253.5 L1707.0,1253.9 L1708.0,1255.2 L1709.0,1256.7 L1710.0,1257.4 L1711.0,1257.8 L1712.0,1258.3 L1713.0,1258.6 L1714.0,1258.4 L1715.0,1259.5 L1716.0,1258.6 L1717.0,1258.0 L1718.0,1258.2 L1719.0,1258.7 L1720.0,1258.5 L1721.0,1258.0 L1722.0,1257.6 L1723.0,1257.8 L1724.0,1256.9 L1725.0,1256.8 L1726.0,1257.5 L1727.0,1256.8 L1728.0,1256.9 L1729.0,1257.0 L1730.0,1256.2 L1731.0,1253.3 L1732.0,1255.6 L1733.0,1254.1 L1734.0,1252.8 L1735.0,1252.4 L1736.0,1251.3 L1737.0,1249.8 L1738.0,1249.2 L1739.0,1248.2 L1740.0,1246.5 L1741.0,1246.4 L1742.0,1245.7 L1743.0,1244.9 L1744.0,1243.6 L1745.0,1243.5 L1746.0,1242.9 L1747.0,1242.3 L1748.0,1241.1 L1749.0,1241.1 L1750.0,1239.7 L1751.0,1239.4 L1752.0,1239.4 L1753.0,1237.9 L1754.0,1237.3 L1755.0,1237.3 L1756.0,1236.0 L1757.0,1235.4 L1758.0,1234.9 L1759.0,1234.5 L1760.0,1232.4 L1761.0,1232.2 L1762.0,1231.4 L1763.0,1230.6 L1764.0,1231.5 L1765.0,1229.3 L1766.0,1229.1 L1767.0,1228.0 L1768.0,1229.6 L1769.0,1227.6 L1770.0,1226.8 L1771.0,1226.8 L1772.0,1225.1 L1773.0,1226.4 L1774.0,1225.7 L1775.0,1225.7 L1776.0,1225.1 L1777.0,1225.4 L1778.0,1225.4 L1779.0,1224.5 L1780.0,1224.7 L1781.0,1225.1 L1782.0,1224.3 L1783.0,1224.6 L1784.0,1224.1 L1785.0,1224.2 L1786.0,1224.3 L1787.0,1225.4 L1788.0,1224.4 L1789.0,1224.4 L1790.0,1224.4 L1791.0,1224.6 L1792.0,1225.0 L1793.0,1224.8 L1794.0,1225.6 L1795.0,1224.9 L1796.0,1225.5 L1797.0,1225.1 L1798.0,1225.2 L1799.0,1224.5 L1800.0,1225.1 L1801.0,1225.2 L1802.0,1225.1 L1803.0,1224.4 L1804.0,1225.7 L1805.0,1225.3 L1806.0,1225.3 L1807.0,1225.5 L1808.0,1225.6 L1809.0,1225.9 L1810.0,1225.2 L1811.0,1225.5 L1812.0,1226.0 L1813.0,1226.0 L1814.0,1225.9 L1815.0,1225.8 L1816.0,1225.8 L1817.0,1226.2 L1818.0,1226.8 L1819.0,1225.9 L1820.0,1227.1 L1821.0,1226.9 L1822.0,1226.4 L1823.0,1227.0 L1824.0,1226.2 L1825.0,1226.2 L1826.0,1226.4 L1827.0,1226.9 L1828.0,1227.0 L1829.0,1227.0 L1830.0,1227.4 L1831.0,1226.5 L1832.0,1227.7 L1833.0,1227.0 L1834.0,1227.3 L1835.0,1227.5 L1836.0,1227.3 L1837.0,1227.2 L1838.0,1227.4 L1839.0,1227.9 L1840.0,1228.2 L1841.0,1228.2 L1842.0,1227.5 L1843.0,1227.6 L1844.0,1227.6 L1845.0,1228.1 L1846.0,1227.1 L1847.0,1228.4 L1848.0,1227.7 L1849.0,1227.5 L1850.0,1228.0 L1851.0,1228.2 L1852.0,1227.9 L1853.0,1228.1 L1854.0,1227.7 L1855.0,1228.1 L1856.0,1228.1 L1857.0,1227.5 L1858.0,1228.1 L1859.0,1227.5 L1860.0,1227.4 L1861.0,1226.9 L1862.0,1227.1 L1863.0,1227.5 L1864.0,1226.6 L1865.0,1227.4 L1866.0,1227.3 L1867.0,1227.2 L1868.0,1226.1 L1869.0,1227.0 L1870.0,1227.3 L1871.0,1226.7 L1872.0,1227.0 L1873.0,1226.0 L1874.0,1227.3 L1875.0,1226.7 L1876.0,1227.4 L1877.0,1226.3 L1878.0,1227.3 L1879.0,1227.0 L1880.0,1227.4 L1881.0,1226.7 L1882.0,1226.8 L1883.0,1228.1 L1884.0,1226.8 L1885.0,1226.9 L1886.0,1227.1 L1887.0,1226.8 L1888.0,1227.7 L1889.0,1228.0 L1890.0,1227.0 L1891.0,1226.6 L1892.0,1227.9 L1893.0,1227.9 L1894.0,1227.8 L1895.0,1230.0 L1896.0,1227.1 L1897.0,1227.5 L1898.0,1227.0 L1899.0,1227.0 L1900.0,1228.1 L1901.0,1227.4 L1902.0,1228.7 L1903.0,1227.8 L1904.0,1227.6 L1905.0,1228.2 L1906.0,1228.7 L1907.0,1228.2 L1908.0,1227.5 L1909.0,1228.3 L1910.0,1228.8 L1911.0,1228.1 L1912.0,1228.0 L1913.0,1228.9 L1914.0,1228.6 L1915.0,1228.2 L1916.0,1228.6 L1917.0,1228.6 L1918.0,1229.2 L1919.0,1229.2 L1920.0,1229.8 L1921.0,1229.8 L1922.0,1229.0 L1923.0,1229.9 L1924.0,1230.3 L1925.0,1230.3 L1926.0,1230.7 L1927.0,1230.2 L1928.0,1230.2 L1929.0,1231.1 L1930.0,1230.5 L1931.0,1230.2 L1932.0,1231.7 L1933.0,1231.2 L1934.0,1231.6 L1935.0,1231.4 L1936.0,1231.6 L1937.0,1232.0 L1938.0,1232.6 L1939.0,1233.2 L1940.0,1232.4 L1941.0,1234.0 L1942.0,1233.8 L1943.0,1234.5 L1944.0,1236.1 L1945.0,1236.6 L1946.0,1236.8 L1947.0,1238.8 L1948.0,1238.1 L1949.0,1238.6 L1950.0,1238.5 L1951.0,1238.8 L1952.0,1237.8 L1953.0,1238.2 L1954.0,1237.2 L1955.0,1237.6 L1956.0,1236.5 L1957.0,1236.4 L1958.0,1237.1 L1959.0,1236.3 L1960.0,1233.7 L1961.0,1236.9 L1962.0,1236.1 L1963.0,1235.6 L1964.0,1238.5 L1965.0,1235.4 L1966.0,1236.3 L1967.0,1236.3 L1968.0,1235.6 L1969.0,1235.5 L1970.0,1235.8 L1971.0,1235.7 L1972.0,1235.3 L1973.0,1235.9 L1974.0,1234.8 L1975.0,1235.2 L1976.0,1235.0 L1977.0,1234.6 L1978.0,1234.4 L1979.0,1233.2 L1980.0,1233.4 L1981.0,1232.4 L1982.0,1231.6 L1983.0,1230.6 L1984.0,1230.1 L1985.0,1230.1 L1986.0,1229.0 L1987.0,1228.9 L1988.0,1228.9 L1989.0,1228.3 L1990.0,1228.0 L1991.0,1226.7 L1992.0,1225.8 L1993.0,1226.2 L1994.0,1224.0 L1995.0,1225.3 L1996.0,1224.5 L1997.0,1224.8 L1998.0,1224.5 L1999.0,1224.4 L2000.0,1224.4 L2001.0,1224.5 L2002.0,1224.7 L2003.0,1224.9 L2004.0,1225.5 L2005.0,1225.2 L2006.0,1226.3 L2007.0,1225.8 L2008.0,1226.5 L2009.0,1226.3 L2010.0,1226.5 L2011.0,1227.7 L2012.0,1227.0 L2013.0,1226.9 L2014.0,1227.4 L2015.0,1227.8"/>
<path stroke="#ff0000" d="M143.9,1082.0 L144.9,1082.4 L145.9,1082.0 L146.9,1082.0 L147.9,1082.3 L148.9,1081.7 L149.9,1082.1 L150.9,1082.3 L151.9,1081.9 L152.9,1081.8 L153.9,1082.2 L154.9,1082.1 L155.9,1082.0 L156.9,1082.2 L157.9,1082.2 L158.9,1081.8 L159.9,1081.9 L160.9,1082.2 L161.9,1082.4 L162.9,1082.5 L163.9,1081.9 L164.9,1083.1 L165.9,1083.7 L166.9,1083.8 L167.9,1083.9 L168.9,1084.0 L169.9,1084.3 L170.9,1083.4 L171.9,1084.0 L172.9,1083.7 L173.9,1083.7 L174.9,1084.1 L175.9,1084.0 L176.9,1083.4 L177.9,1083.7 L178.9,1083.8 L179.9,1083.3 L180.9,1084.0 L181.9,1085.5 L182.9,1083.7 L183.9,1083.8 L184.9,1084.2 L185.9,1083.7 L186.9,1083.5 L187.9,1084.1 L188.9,1083.4 L189.9,1083.4 L190.9,1083.1 L191.9,1083.9 L192.9,1083.6 L193.9,1085.9 L194.9,1083.5 L195.9,1083.4 L196.9,1083.1 L197.9,1083.1 L198.9,1083.4 L199.9,1083.3 L200.9,1083.7 L201.9,1083.0 L202.9,1083.0 L203.9,1082.8 L204.9,1083.2 L205.9,1082.0 L206.9,1082.4 L207.9,1082.5 L208.9,1080.1 L209.9,1082.2 L210.9,1081.3 L211.9,1079.6 L212.9,1081.4 L213.9,1081.9 L214.9,1081.9 L215.9,1081.6 L216.9,1082.1 L217.9,1081.9 L218.9,1081.6 L219.9,1081.6 L220.9,1081.3 L221.9,1081.7 L222.9,1082.4 L223.9,1081.5 L224.9,1081.9 L225.9,1081.6 L226.9,1082.0 L227.9,1081.8 L228.9,1081.6 L229.9,1081.1 L230.9,1081.5 L231.9,1082.1 L232.9,1081.6 L233.9,1081.9 L234.9,1081.5 L235.9,1081.1 L236.9,1081.8 L237.9,1081.7 L238.9,1081.4 L239.9,1081.5 L240.9,1081.7 L241.9,1081.4 L242.9,1081.7 L243.9,1081.5 L244.9,1080.8 L245.9,1081.4 L246.9,1081.3 L247.9,1081.2 L248.9,1081.5 L249.9,1081.1 L250.9,1081.3 L251.9,1081.4 L252.9,1081.0 L253.9,1080.3 L254.9,1080.4 L255.9,1080.7 L256.9,1080.2 L257.9,1079.8 L258.9,1079.8 L259.9,1079.8 L260.9,1079.5 L261.9,1079.5 L262.9,1078.8 L263.9,1078.8 L264.9,1078.6 L265.9,1078.5 L266.9,1077.7 L267.9,1078.2 L268.9,1077.7 L269.9,1078.4 L270.9,1078.4 L271.9,1078.3 L272.9,1078.0 L273.9,1077.6 L274.9,1078.0 L275.9,1077.7 L276.9,1077.9 L277.9,1077.5 L278.9,1077.6 L279.9,1077.9 L280.9,1078.3 L281.9,1077.7 L282.9,1078.4 L283.9,1078.6 L284.9,1077.3 L285.9,1077.7 L286.9,1077.4 L287.9,1077.7 L288.9,1077.6 L289.9,1079.8 L290.9,1078.0 L291.9,1078.0 L292.9,1077.8 L293.9,1077.7 L294.9,1077.8 L295.9,1077.8 L296.9,1077.9 L297.9,1077.7 L298.9,1077.9 L299.9,1077.3 L300.9,1078.0 L301.9,1079.6 L302.9,1077.8 L303.9,1077.3 L304.9,1078.2 L305.9,1077.6 L306.9,1076.8 L307.9,1080.0 L308.9,1077.9 L309.9,1077.9 L310.9,1078.1 L311.9,1077.9 L312.9,1077.8 L313.9,1077.1 L314.9,1077.4 L315.9,1077.8 L316.9,1078.1 L317.9,1076.0 L318.9,1078.0 L319.9,1078.6 L320.9,1078.1 L321.9,1078.4 L322.9,1079.2 L323.9,1079.7 L324.9,1081.4 L325.9,1079.6 L326.9,1080.6 L327.9,1080.6 L328.9,1081.5 L329.9,1081.6 L330.9,1082.0 L331.9,1082.4 L332.9,1082.5 L333.9,1083.0 L334.9,1083.4 L335.9,1083.7 L336.9,1084.1 L337.9,1084.2 L338.9,1084.8 L339.9,1085.1 L340.9,1085.3 L341.9,1085.8 L342.9,1086.1 L343.9,1086.5 L344.9,1087.0 L345.9,1087.5 L346.9,1087.7 L347.9,1088.2 L348.9,1088.3 L349.9,1089.0 L350.9,1089.5 L351.9,1089.9 L352.9,1090.2 L353.9,1090.5 L354.9,1090.8 L355.9,1091.3 L356.9,1091.5 L357.9,1091.9 L358.9,1092.6 L359.9,1092.7 L360.9,1093.5 L361.9,1093.4 L362.9,1094.0 L363.9,1094.2 L364.9,1096.5 L365.9,1095.0 L366.9,1095.5 L367.9,1095.9 L368.9,1096.2 L369.9,1096.7 L370.9,1097.2 L371.9,1097.3 L372.9,1097.9 L373.9,1098.2 L374.9,1098.5 L375.9,1099.2 L376.9,1099.0 L377.9,1099.6 L378.9,1099.8 L379.9,1100.4 L380.9,1100.7 L381.9,1101.7 L382.9,1101.5 L383.9,1102.1 L384.9,1102.4 L385.9,1102.5 L386.9,1103.0 L387.9,1103.5 L388.9,1103.6 L389.9,1104.0 L390.9,1104.4 L391.9,1104.4 L392.9,1104.9 L393.9,1105.4 L394.9,1105.8 L395.9,1105.9 L396.9,1106.3 L397.9,1106.7 L398.9,1107.0 L399.9,1107.5 L400.9,1107.7 L401.9,1108.0 L402.9,1108.1 L403.9,1108.5 L404.9,1109.0 L405.9,1109.0 L406.9,1109.6 L407.9,1109.7 L408.9,1110.0 L409.9,1110.5 L410.9,1110.6 L411.9,1110.8 L412.9,1111.2 L413.9,1111.6 L414.9,1112.3 L415.9,1111.9 L416.9,1112.5 L417.9,1112.8 L418.9,1113.2 L419.9,1113.3 L420.9,1113.3 L421.9,1114.0 L422.9,1113.9 L423.9,1114.2 L424.9,1114.2 L425.9,1114.4 L426.9,1114.5 L427.9,1114.8 L428.9,1114.8 L429.9,1114.6 L430.9,1114.7 L431.9,1114.6 L432.9,1114.7 L433.9,1114.7 L434.9,1114.7 L435.9,1114.5 L436.9,1114.6 L437.9,1114.6 L438.9,1114.6 L439.9,1114.5 L440.9,1114.8 L441.9,1114.5 L442.9,1114.6 L443.9,1114.5 L444.9,1114.6 L445.9,1114.1 L446.9,1114.7 L447.9,1114.4 L448.9,1114.2 L449.9,1114.4 L450.9,1114.6 L451.9,1114.3 L452.9,1114.1 L453.9,1114.1 L454.9,1114.4 L455.9,1113.9 L456.9,1114.1 L457.9,1114.0 L458.9,1114.3 L459.9,1113.9 L460.9,1114.0 L461.9,1113.6 L462.9,1113.4 L463.9,1113.5 L464.9,1113.2 L465.9,1112.6 L466.9,1112.7 L467.9,1112.4 L468.9,1112.0 L469.9,1111.8 L470.9,1111.5 L471.9,1111.1 L472.9,1110.7 L473.9,1110.4 L474.9,1110.1 L475.9,1109.7 L476.9,1109.6 L477.9,1109.1 L478.9,1109.0 L479.9,1108.7 L480.9,1108.3 L481.9,1108.3 L482.9,1108.2 L483.9,1107.8 L484.9,1107.1 L485.9,1107.2 L486.9,1106.7 L487.9,1106.4 L488.9,1106.0 L489.9,1105.8 L490.9,1105.7 L491.9,1105.2 L492.9,1104.8 L493.9,1104.5 L494.9,1104.2 L495.9,1104.0 L496.9,1104.0 L497.9,1103.3 L498.9,1103.1 L499.9,1102.8 L500.9,1102.5 L501.9,1102.5 L502.9,1102.2 L503.9,1101.7 L504.9,1101.6 L505.9,1101.7 L506.9,1101.4 L507.9,1101.2 L508.9,1100.9 L509.9,1100.7 L510.9,1100.6 L511.9,1100.3 L513.0,1100.0 L514.0,1100.0 L515.0,1100.0 L516.0,1099.5 L517.0,1099.6 L518.0,1099.4 L519.0,1099.0 L520.0,1099.0 L521.0,1098.8 L522.0,1098.7 L523.0,1098.5 L524.0,1098.1 L525.0,1097.9 L526.0,1098.1 L527.0,1097.7 L528.0,1097.6 L529.0,1097.4 L530.0,1097.4 L531.0,1096.8 L532.0,1097.0 L533.0,1096.6 L534.0,1096.6 L535.0,1096.5 L536.0,1096.0 L537.0,1096.0 L538.0,1095.8 L539.0,1095.6 L540.0,1095.5 L541.0,1095.1 L542.0,1095.0 L543.0,1095.0 L544.0,1094.9 L545.0,1094.5 L546.0,1094.2 L547.0,1094.6 L548.0,1094.2 L549.0,1094.0 L550.0,1093.6 L551.0,1093.5 L552.0,1093.4 L553.0,1093.0 L554.0,1093.2 L555.0,1092.8 L556.0,1092.7 L557.0,1092.3 L558.0,1092.1 L559.0,1091.9 L560.0,1091.9 L561.0,1091.6 L562.0,1091.4 L563.0,1091.3 L564.0,1091.1 L565.0,1091.1 L566.0,1090.7 L567.0,1090.4 L568.0,1090.3 L569.0,1090.3 L570.0,1089.8 L571.0,1089.7 L572.0,1089.5 L573.0,1089.4 L574.0,1089.2 L575.0,1088.9 L576.0,1088.8 L577.0,1088.8 L578.0,1088.6 L579.0,1088.4 L580.0,1088.2 L581.0,1087.9 L582.0,1087.8 L583.0,1087.8 L584.0,1087.3 L585.0,1087.3 L586.0,1086.9 L587.0,1087.0 L588.0,1086.8 L589.0,1086.6 L590.0,1086.7 L591.0,1086.3 L592.0,1086.3 L593.0,1086.1 L594.0,1085.9 L595.0,1086.1 L596.0,1085.7 L597.0,1085.6 L598.0,1085.3 L599.0,1085.3 L600.0,1085.1 L601.0,1085.0 L602.0,1084.8 L603.0,1084.8 L604.0,1084.9 L605.0,1084.5 L606.0,1084.3 L607.0,1084.2 L608.0,1084.4 L609.0,1084.2 L610.0,1083.9 L611.0,1083.7 L612.0,1083.4 L613.0,1083.3 L614.0,1083.2 L615.0,1083.0 L616.0,1082.6 L617.0,1082.5 L618.0,1082.5 L619.0,1082.3 L620.0,1081.8 L621.0,1081.9 L622.0,1081.9 L623.0,1081.6 L624.0,1081.6 L625.0,1081.3 L626.0,1081.6 L627.0,1081.3 L628.0,1081.3 L629.0,1081.4 L630.0,1081.8 L631.0,1081.3 L632.0,1081.3 L633.0,1081.5 L634.0,1081.5 L635.0,1081.7 L636.0,1081.3 L637.0,1081.2 L638.0,1081.4 L639.0,1081.5 L640.0,1081.5 L641.0,1081.6 L642.0,1081.2 L643.0,1081.3 L644.0,1081.4 L645.0,1081.6 L646.0,1081.5 L647.0,1081.4 L648.0,1081.3 L649.0,1081.6 L650.0,1081.6 L651.0,1081.8 L652.0,1081.4 L653.0,1081.7 L654.0,1081.3 L655.0,1081.4 L656.0,1081.3 L657.0,1081.4 L658.0,1081.3 L659.0,1081.4 L660.0,1081.4 L661.0,1081.4 L662.0,1081.5 L663.0,1081.4 L664.0,1081.4 L665.0,1081.6 L666.0,1081.5 L667.0,1081.5 L668.0,1081.4 L669.0,1081.4 L670.0,1081.5 L671.0,1081.3 L672.0,1081.6 L673.0,1081.7 L674.0,1081.6 L675.0,1081.4 L676.0,1081.2 L677.0,1081.4 L678.0,1081.5 L679.0,1081.6 L680.0,1081.4 L681.0,1081.4 L682.0,1081.6 L683.0,1081.3 L684.0,1081.6 L685.0,1081.6 L686.0,1081.2 L687.0,1081.5 L688.0,1081.4 L689.0,1081.3 L690.0,1081.2 L691.0,1081.2 L692.0,1081.5 L693.0,1081.5 L694.0,1081.7 L695.0,1081.6 L696.0,1081.9 L697.0,1082.1 L698.0,1082.2 L699.0,1082.4 L700.0,1083.0 L701.0,1083.2 L702.0,1083.4 L703.0,1083.9 L704.0,1084.3 L705.0,1084.8 L706.0,1084.8 L707.0,1085.4 L708.0,1086.0 L709.0,1086.3 L710.0,1087.3 L711.0,1087.7 L712.0,1089.2 L713.0,1090.0 L714.0,1090.7 L715.0,1091.9 L716.0,1092.6 L717.0,1093.1 L718.0,1093.3 L719.0,1093.0 L720.0,1092.4 L721.0,1091.7 L722.0,1090.8 L723.0,1089.9 L724.0,1088.7 L725.0,1087.8 L726.0,1087.2 L727.0,1086.6 L728.0,1086.8 L729.0,1086.6 L730.0,1086.1 L731.0,1086.1 L732.0,1085.9 L733.0,1085.9 L734.0,1086.0 L735.0,1085.8 L736.0,1085.7 L737.0,1085.8 L738.0,1085.9 L739.0,1085.7 L740.0,1085.6 L741.0,1085.8 L742.0,1085.7 L743.0,1085.6 L744.0,1085.7 L745.0,1085.4 L746.0,1085.5 L747.0,1085.4 L748.0,1085.6 L749.0,1085.6 L750.0,1085.3 L751.0,1085.7 L752.0,1085.5 L753.0,1086.3 L754.0,1086.8 L755.0,1087.3 L756.0,1087.7 L757.0,1088.1 L758.0,1088.0 L759.0,1087.5 L760.0,1087.1 L761.0,1086.1 L762.0,1085.6 L763.0,1085.0 L764.0,1084.3 L765.0,1084.4 L766.0,1084.0 L767.0,1083.7 L768.0,1083.8 L769.0,1083.7 L770.0,1083.7 L771.0,1083.4 L772.0,1083.5 L773.0,1083.4 L774.0,1083.3 L775.0,1083.2 L776.0,1083.0 L777.0,1082.8 L778.0,1082.9 L779.0,1083.0 L780.0,1082.8 L781.0,1082.7 L782.0,1082.6 L783.0,1082.9 L784.0,1082.8 L785.0,1082.6 L786.0,1082.8 L787.0,1082.9 L788.0,1082.8 L789.0,1082.9 L790.0,1082.9 L791.0,1082.6 L792.0,1082.7 L793.0,1082.8 L794.0,1082.9 L795.0,1083.0 L796.0,1082.5 L797.0,1082.8 L798.0,1082.9 L799.0,1083.0 L800.0,1083.0 L801.0,1082.6 L802.0,1082.8 L803.0,1083.1 L804.0,1083.8 L805.0,1083.6 L806.0,1084.0 L807.0,1083.9 L808.0,1083.9 L809.0,1083.5 L810.0,1083.7 L811.0,1083.9 L812.0,1083.6 L813.0,1083.8 L814.0,1083.8 L815.0,1083.9 L816.0,1083.8 L817.0,1083.8 L818.0,1083.7 L819.0,1083.8 L820.0,1083.8 L821.0,1083.9 L822.0,1083.8 L823.0,1083.9 L824.0,1083.5 L825.0,1084.0 L826.0,1083.8 L827.0,1083.9 L828.0,1083.8 L829.0,1083.9 L830.0,1083.9 L831.0,1083.6 L832.0,1083.7 L833.0,1083.6 L834.0,1083.6 L835.0,1083.3 L836.0,1083.5 L837.0,1083.4 L838.0,1083.2 L839.0,1083.2 L840.0,1083.0 L841.0,1083.2 L842.0,1082.5 L843.0,1082.0 L844.0,1081.3 L845.0,1081.3 L846.0,1081.5 L847.0,1081.2 L848.0,1081.5 L849.0,1081.3 L850.0,1081.4 L851.0,1081.5 L852.0,1081.4 L853.0,1081.7 L854.0,1081.5 L855.0,1081.3 L856.0,1081.6 L857.0,1081.2 L858.0,1081.4 L859.0,1081.3 L860.0,1081.3 L861.0,1081.6 L862.0,1081.4 L863.0,1081.3 L864.0,1081.4 L865.0,1081.4 L866.0,1081.6 L867.0,1081.3 L868.0,1081.4 L869.0,1082.5 L870.0,1084.8 L871.0,1083.7 L872.0,1083.9 L873.0,1083.8 L874.0,1083.7 L875.0,1083.7 L876.0,1083.7 L877.0,1083.7 L878.0,1083.8 L879.0,1082.0 L880.0,1083.9 L881.0,1083.7 L882.0,1083.7 L883.0,1083.9 L884.0,1083.5 L885.0,1083.7 L886.0,1083.7 L887.0,1083.6 L888.0,1083.6 L889.0,1083.8 L890.0,1083.5 L891.0,1083.7 L892.0,1083.7 L893.0,1083.8 L894.0,1083.6 L895.0,1083.9 L896.0,1083.7 L897.0,1083.7 L898.0,1083.8 L899.0,1084.2 L900.0,1084.9 L901.0,1085.6 L902.0,1085.5 L903.0,1085.6 L904.0,1085.8 L905.0,1085.6 L906.0,1085.8 L907.0,1085.7 L908.0,1085.6 L909.0,1085.9 L910.0,1085.6 L911.0,1085.9 L912.0,1085.7 L913.0,1085.9 L914.0,1086.0 L915.0,1085.9 L916.0,1085.8 L917.0,1085.8 L918.0,1085.8 L919.0,1085.7 L920.0,1085.8 L921.0,1086.0 L922.0,1086.1 L923.0,1085.8 L924.0,1086.1 L925.0,1086.3 L926.0,1086.6 L927.0,1086.8 L928.0,1087.3 L929.0,1087.0 L930.0,1087.2 L931.0,1087.4 L932.0,1086.8 L933.0,1087.2 L934.0,1087.2 L935.0,1087.2 L936.0,1087.0 L937.0,1087.1 L938.0,1086.9 L939.0,1087.2 L940.0,1087.2 L941.0,1087.0 L942.0,1087.0 L943.0,1087.1 L944.0,1087.1 L945.0,1087.1 L946.0,1087.1 L947.0,1087.1 L948.0,1086.9 L949.0,1086.7 L950.0,1087.2 L951.0,1087.3 L952.0,1086.9 L953.0,1087.0 L954.0,1086.9 L955.0,1086.3 L956.0,1085.6 L957.0,1085.6 L958.0,1085.4 L959.0,1085.4 L960.0,1085.4 L961.0,1085.3 L962.0,1085.5 L963.0,1085.4 L964.0,1085.4 L965.0,1085.2 L966.0,1085.4 L967.0,1085.1 L968.0,1085.3 L969.0,1084.8 L970.0,1085.1 L971.0,1085.3 L972.0,1085.1 L973.0,1085.2 L974.0,1084.9 L975.0,1085.4 L976.0,1085.2 L977.0,1085.1 L978.0,1085.2 L979.0,1085.2 L980.0,1085.3 L981.0,1085.2 L982.0,1084.9 L983.0,1085.1 L984.0,1085.3 L985.0,1085.2 L986.0,1085.1 L987.0,1085.2 L988.0,1085.1 L989.0,1085.2 L990.0,1084.9 L991.0,1085.0 L992.0,1085.2 L993.0,1085.1 L994.0,1085.2 L995.0,1085.4 L996.0,1085.1 L997.0,1085.1 L998.0,1085.0 L999.0,1085.0 L1000.0,1085.1 L1001.0,1084.9 L1002.0,1084.8 L1003.0,1085.3 L1004.0,1085.1 L1005.0,1085.2 L1006.0,1085.1 L1007.0,1083.5 L1008.0,1085.1 L1009.0,1085.1 L1010.0,1084.8 L1011.0,1085.2 L1012.0,1084.9 L1013.0,1085.0 L1014.0,1085.3 L1015.0,1085.0 L1016.0,1085.2 L1017.0,1084.9 L1018.0,1085.0 L1019.0,1084.9 L1020.0,1084.9 L1021.0,1084.7 L1022.0,1084.6 L1023.0,1084.4 L1024.0,1083.4 L1025.0,1083.0 L1026.0,1083.2 L1027.0,1083.0 L1028.0,1082.9 L1029.0,1082.9 L1030.0,1083.1 L1031.0,1083.0 L1032.0,1083.0 L1033.0,1083.0 L1034.0,1083.3 L1035.0,1082.9 L1036.0,1082.7 L1037.0,1083.0 L1038.0,1083.0 L1039.0,1083.0 L1040.0,1082.7 L1041.0,1083.1 L1042.0,1083.0 L1043.0,1083.0 L1044.0,1082.7 L1045.0,1083.0 L1046.0,1082.9 L1047.0,1083.1 L1048.0,1082.9 L1049.0,1082.8 L1050.0,1083.0 L1051.0,1082.8 L1052.0,1083.0 L1053.0,1082.8 L1054.0,1082.9 L1055.0,1082.9 L1056.0,1082.9 L1057.0,1082.9 L1058.0,1082.8 L1059.0,1082.9 L1060.0,1082.9 L1061.0,1083.0 L1062.0,1082.9 L1063.0,1082.6 L1064.0,1082.9 L1065.0,1083.1 L1066.0,1083.0 L1067.0,1083.0 L1068.0,1083.0 L1069.0,1082.9 L1070.0,1082.7 L1071.0,1083.0 L1072.0,1083.1 L1073.0,1083.0 L1074.0,1083.0 L1075.0,1083.0 L1076.0,1082.9 L1077.0,1083.0 L1078.0,1082.9 L1079.0,1083.0 L1080.0,1082.8 L1081.0,1082.8 L1082.0,1083.0 L1083.0,1082.8 L1084.0,1082.5 L1085.0,1082.9 L1086.0,1082.5 L1087.0,1083.1 L1088.0,1083.0 L1089.0,1082.9 L1090.0,1082.7 L1091.0,1082.7 L1092.0,1082.8 L1093.0,1082.8 L1094.0,1082.7 L1095.0,1082.8 L1096.0,1082.8 L1097.0,1082.4 L1098.0,1081.6 L1099.0,1081.1 L1100.0,1081.4 L1101.0,1081.3 L1102.0,1081.4 L1103.0,1081.6 L1104.0,1081.6 L1105.0,1081.4 L1106.0,1081.5 L1107.0,1081.6 L1108.0,1081.3 L1109.0,1081.4 L1110.0,1081.4 L1111.0,1081.3 L1112.0,1081.2 L1113.0,1081.2 L1114.0,1081.3 L1115.0,1081.2 L1116.0,1081.4 L1117.0,1081.2 L1118.0,1081.5 L1119.0,1081.4 L1120.0,1081.1 L1121.0,1081.4 L1122.0,1081.2 L1123.0,1081.5 L1124.0,1081.3 L1125.0,1081.3 L1126.0,1081.4 L1127.0,1081.2 L1128.0,1081.3 L1129.0,1081.3 L1130.0,1081.2 L1131.0,1081.3 L1132.0,1081.1 L1133.0,1083.5 L1134.0,1081.1 L1135.0,1081.3 L1136.0,1081.3 L1137.0,1081.4 L1138.0,1081.2 L1139.0,1081.7 L1140.0,1081.2 L1141.0,1081.3 L1142.0,1081.1 L1143.0,1081.4 L1144.0,1081.2 L1145.0,1081.4 L1146.0,1081.1 L1147.0,1081.3 L1148.0,1081.2 L1149.0,1081.3 L1150.0,1081.2 L1151.0,1081.1 L1152.0,1081.3 L1153.0,1081.0 L1154.0,1081.1 L1155.0,1081.3 L1156.0,1080.9 L1157.0,1081.3 L1158.0,1081.1 L1159.0,1081.0 L1160.0,1081.1 L1161.0,1081.2 L1162.0,1080.8 L1163.0,1080.4 L1164.0,1080.0 L1165.0,1079.9 L1166.0,1079.7 L1167.0,1079.6 L1168.0,1079.6 L1169.0,1079.6 L1170.0,1079.8 L1171.0,1079.8 L1172.0,1079.8 L1173.0,1079.9 L1174.0,1079.7 L1175.0,1079.6 L1176.0,1079.6 L1177.0,1080.0 L1178.0,1079.4 L1179.0,1079.7 L1180.0,1079.7 L1181.0,1079.7 L1182.0,1080.0 L1183.0,1079.8 L1184.0,1079.8 L1185.0,1079.5 L1186.0,1079.7 L1187.0,1079.6 L1188.0,1079.7 L1189.0,1079.7 L1190.0,1079.6 L1191.0,1079.7 L1192.0,1079.9 L1193.0,1079.8 L1194.0,1079.7 L1195.0,1079.4 L1196.0,1079.8 L1197.0,1079.8 L1198.0,1079.6 L1199.0,1079.5 L1200.0,1079.7 L1201.0,1079.5 L1202.0,1079.7 L1203.0,1079.4 L1204.0,1079.5 L1205.0,1079.6 L1206.0,1079.4 L1207.0,1079.6 L1208.0,1079.7 L1209.0,1079.4 L1210.0,1079.7 L1211.0,1079.5 L1212.0,1079.6 L1213.0,1079.6 L1214.0,1079.5 L1215.0,1079.5 L1216.0,1079.3 L1217.0,1079.5 L1218.0,1079.5 L1219.0,1079.8 L1220.0,1079.7 L1221.0,1079.4 L1222.0,1079.7 L1223.0,1079.6 L1224.0,1079.5 L1225.0,1079.6 L1226.0,1079.6 L1227.0,1079.5 L1228.0,1079.5 L1229.0,1079.6 L1230.0,1079.4 L1231.0,1079.6 L1232.0,1079.5 L1233.0,1079.4 L1234.0,1079.4 L1235.0,1079.6 L1236.0,1079.6 L1237.0,1079.6 L1238.0,1079.4 L1239.0,1079.6 L1240.0,1079.5 L1241.0,1079.6 L1242.0,1079.7 L1243.0,1079.4 L1244.0,1079.5 L1245.0,1079.4 L1246.0,1079.4 L1247.0,1079.8 L1248.0,1079.6 L1249.0,1079.3 L1250.0,1079.6 L1251.0,1079.4 L1252.0,1079.7 L1253.0,1079.5 L1254.0,1079.5 L1255.0,1079.5 L1256.0,1079.6 L1257.0,1079.5 L1258.0,1079.5 L1259.0,1079.5 L1260.0,1079.6 L1261.0,1079.4 L1262.0,1079.5 L1263.0,1079.5 L1264.0,1079.4 L1265.0,1079.6 L1266.0,1079.3 L1267.0,1079.5 L1268.0,1079.4 L1269.0,1079.6 L1270.0,1079.4 L1271.0,1079.5 L1272.0,1079.6 L1273.0,1079.3 L1274.0,1079.6 L1275.0,1079.4 L1276.0,1079.5 L1277.0,1079.5 L1278.0,1079.6 L1279.0,1079.6 L1280.0,1079.7 L1281.0,1079.5 L1282.0,1079.4 L1283.0,1079.4 L1284.0,1079.6 L1285.0,1079.7 L1286.0,1079.5 L1287.0,1079.4 L1288.0,1079.5 L1289.0,1079.5 L1290.0,1079.5 L1291.0,1079.4 L1292.0,1079.2 L1293.0,1079.4 L1294.0,1079.6 L1295.0,1079.5 L1296.0,1079.2 L1297.0,1079.5 L1298.0,1079.2 L1299.0,1079.8 L1300.0,1079.5 L1301.0,1079.3 L1302.0,1079.6 L1303.0,1079.4 L1304.0,1079.6 L1305.0,1079.5 L1306.0,1079.3 L1307.0,1079.6 L1308.0,1079.3 L1309.0,1079.7 L1310.0,1079.5 L1311.0,1079.4 L1312.0,1079.3 L1313.0,1079.7 L1314.0,1079.7 L1315.0,1079.3 L1316.0,1079.7 L1317.0,1079.5 L1318.0,1079.5 L1319.0,1079.5 L1320.0,1079.5 L1321.0,1079.7 L1322.0,1079.5 L1323.0,1079.2 L1324.0,1079.8 L1325.0,1079.6 L1326.0,1079.3 L1327.0,1079.4 L1328.0,1079.4 L1329.0,1079.5 L1330.0,1079.5 L1331.0,1079.6 L1332.0,1079.3 L1333.0,1079.3 L1334.0,1079.9 L1335.0,1079.9 L1336.0,1080.9 L1337.0,1080.4 L1338.0,1081.3 L1339.0,1081.6 L1340.0,1081.8 L1341.0,1082.8 L1342.0,1082.7 L1343.0,1082.7 L1344.0,1083.1 L1345.0,1083.7 L1346.0,1083.3 L1347.0,1084.2 L1348.0,1084.2 L1349.0,1084.1 L1350.0,1084.8 L1351.0,1085.0 L1352.0,1084.8 L1353.0,1084.7 L1354.0,1085.2 L1355.0,1085.1 L1356.0,1084.4 L1357.0,1084.6 L1358.0,1083.0 L1359.0,1084.6 L1360.0,1084.2 L1361.0,1084.9 L1362.0,1084.7 L1363.0,1084.7 L1364.0,1085.1 L1365.0,1086.4 L1366.0,1084.7 L1367.0,1084.8 L1368.0,1084.5 L1369.0,1084.6 L1370.0,1085.0 L1371.0,1084.9 L1372.0,1085.6 L1373.0,1085.3 L1374.0,1086.1 L1375.0,1086.1 L1376.0,1087.0 L1377.0,1087.4 L1378.0,1088.5 L1379.0,1088.9 L1380.0,1089.4 L1381.0,1090.6 L1382.0,1091.2 L1383.0,1091.9 L1384.0,1092.3 L1385.0,1093.0 L1386.0,1094.3 L1387.0,1095.1 L1388.0,1095.8 L1389.0,1096.6 L1390.0,1097.1 L1391.0,1098.9 L1392.0,1099.0 L1393.0,1100.0 L1394.0,1101.2 L1395.0,1101.2 L1396.0,1102.6 L1397.0,1103.0 L1398.0,1102.8 L1399.0,1102.7 L1400.0,1103.0 L1401.0,1102.7 L1402.0,1103.8 L1403.0,1103.5 L1404.0,1103.3 L1405.0,1103.4 L1406.0,1103.9 L1407.0,1104.2 L1408.0,1103.4 L1409.0,1103.7 L1410.0,1103.3 L1411.0,1104.1 L1412.0,1103.9 L1413.0,1102.6 L1414.0,1103.5 L1415.0,1103.2 L1416.0,1102.9 L1417.0,1103.0 L1418.0,1102.0 L1419.0,1102.4 L1420.0,1102.0 L1421.0,1101.5 L1422.0,1101.2 L1423.0,1101.7 L1424.0,1101.8 L1425.0,1101.1 L1426.0,1101.3 L1427.0,1101.6 L1428.0,1100.9 L1429.0,1100.9 L1430.0,1100.6 L1431.0,1100.9 L1432.0,1100.8 L1433.0,1100.6 L1434.0,1100.4 L1435.0,1100.0 L1436.0,1099.6 L1437.0,1098.9 L1438.0,1098.4 L1439.0,1097.0 L1440.0,1095.6 L1441.0,1094.8 L1442.0,1093.5 L1443.0,1091.9 L1444.0,1090.8 L1445.0,1090.3 L1446.0,1089.5 L1447.0,1088.5 L1448.0,1088.3 L1449.0,1087.7 L1450.0,1087.5 L1451.0,1086.5 L1452.0,1086.6 L1453.0,1086.0 L1454.0,1085.2 L1455.0,1085.4 L1456.0,1084.9 L1457.0,1083.9 L1458.0,1084.5 L1459.0,1083.1 L1460.0,1082.7 L1461.0,1082.5 L1462.0,1082.3 L1463.0,1081.7 L1464.0,1081.0 L1465.0,1080.9 L1466.0,1080.2 L1467.0,1080.0 L1468.0,1080.0 L1469.0,1078.8 L1470.0,1077.7 L1471.0,1078.1 L1472.0,1077.7 L1473.0,1078.0 L1474.0,1077.9 L1475.0,1077.5 L1476.0,1077.4 L1477.0,1077.7 L1478.0,1077.6 L1479.0,1076.9 L1480.0,1077.9 L1481.0,1077.6 L1482.0,1077.6 L1483.0,1077.7 L1484.0,1077.3 L1485.0,1077.6 L1486.0,1076.2 L1487.0,1078.4 L1488.0,1078.6 L1489.0,1078.8 L1490.0,1079.1 L1491.0,1080.3 L1492.0,1080.6 L1493.0,1080.8 L1494.0,1080.9 L1495.0,1082.0 L1496.0,1082.6 L1497.0,1084.6 L1498.0,1085.1 L1499.0,1085.3 L1500.0,1085.5 L1501.0,1086.2 L1502.0,1085.5 L1503.0,1085.9 L1504.0,1084.4 L1505.0,1083.7 L1506.0,1083.3 L1507.0,1083.8 L1508.0,1084.5 L1509.0,1084.2 L1510.0,1083.8 L1511.0,1083.7 L1512.0,1083.9 L1513.0,1084.2 L1514.0,1083.4 L1515.0,1083.4 L1516.0,1084.6 L1517.0,1084.1 L1518.0,1084.6 L1519.0,1084.2 L1520.0,1084.7 L1521.0,1084.1 L1522.0,1084.6 L1523.0,1085.1 L1524.0,1085.2 L1525.0,1085.0 L1526.0,1085.6 L1527.0,1085.3 L1528.0,1085.2 L1529.0,1085.8 L1530.0,1086.0 L1531.0,1085.8 L1532.0,1085.1 L1533.0,1085.6 L1534.0,1085.4 L1535.0,1084.9 L1536.0,1084.2 L1537.0,1085.1 L1538.0,1084.9 L1539.0,1084.7 L1540.0,1083.8 L1541.0,1083.6 L1542.0,1084.2 L1543.0,1083.8 L1544.0,1083.5 L1545.0,1083.0 L1546.0,1083.0 L1547.0,1082.4 L1548.0,1080.4 L1549.0,1082.0 L1550.0,1082.2 L1551.0,1081.9 L1552.0,1082.2 L1553.0,1082.0 L1554.0,1081.4 L1555.0,1082.1 L1556.0,1081.0 L1557.0,1081.4 L1558.0,1081.5 L1559.0,1081.5 L1560.0,1080.3 L1561.0,1081.3 L1562.0,1081.3 L1563.0,1081.3 L1564.0,1080.2 L1565.0,1080.6 L1566.0,1080.8 L1567.0,1080.7 L1568.0,1081.3 L1569.0,1080.6 L1570.0,1081.2 L1571.0,1081.0 L1572.0,1080.4 L1573.0,1080.5 L1574.0,1082.4 L1575.0,1080.9 L1576.0,1081.1 L1577.0,1080.8 L1578.0,1081.1 L1579.0,1080.3 L1580.0,1079.9 L1581.0,1080.7 L1582.0,1081.0 L1583.0,1080.7 L1584.0,1080.5 L1585.0,1081.0 L1586.0,1081.4 L1587.0,1080.8 L1588.0,1080.6 L1589.0,1080.6 L1590.0,1081.5 L1591.0,1080.8 L1592.0,1081.0 L1593.0,1081.2 L1594.0,1081.2 L1595.0,1080.6 L1596.0,1081.1 L1597.0,1081.1 L1598.0,1081.0 L1599.0,1081.2 L1600.0,1080.7 L1601.0,1080.8 L1602.0,1080.7 L1603.0,1081.1 L1604.0,1080.6 L1605.0,1081.0 L1606.0,1080.5 L1607.0,1080.8 L1608.0,1080.7 L1609.0,1080.8 L1610.0,1080.9 L1611.0,1080.8 L1612.0,1080.8 L1613.0,1080.2 L1614.0,1081.2 L1615.0,1080.6 L1616.0,1080.8 L1617.0,1080.6 L1618.0,1081.2 L1619.0,1080.6 L1620.0,1081.0 L1621.0,1081.2 L1622.0,1081.4 L1623.0,1081.2 L1624.0,1081.0 L1625.0,1080.5 L1626.0,1081.2 L1627.0,1081.2 L1628.0,1081.1 L1629.0,1081.1 L1630.0,1080.9 L1631.0,1080.7 L1632.0,1081.2 L1633.0,1079.6 L1634.0,1080.5 L1635.0,1081.1 L1636.0,1080.9 L1637.0,1081.3 L1638.0,1081.4 L1639.0,1082.2 L1640.0,1082.7 L1641.0,1083.1 L1642.0,1082.9 L1643.0,1083.9 L1644.0,1083.8 L1645.0,1083.6 L1646.0,1084.3 L1647.0,1083.7 L1648.0,1084.5 L1649.0,1084.8 L1650.0,1084.2 L1651.0,1084.7 L1652.0,1084.6 L1653.0,1084.7 L1654.0,1084.1 L1655.0,1084.8 L1656.0,1084.7 L1657.0,1084.9 L1658.0,1084.7 L1659.0,1085.1 L1660.0,1084.9 L1661.0,1085.1 L1662.0,1085.4 L1663.0,1085.1 L1664.0,1085.4 L1665.0,1085.3 L1666.0,1085.5 L1667.0,1085.3 L1668.0,1085.8 L1669.0,1086.2 L1670.0,1086.1 L1671.0,1087.0 L1672.0,1087.5 L1673.0,1087.8 L1674.0,1089.1 L1675.0,1090.4 L1676.0,1091.4 L1677.0,1092.8 L1678.0,1095.2 L1679.0,1096.5 L1680.0,1098.4 L1681.0,1098.1 L1682.0,1098.0 L1683.0,1097.6 L1684.0,1097.6 L1685.0,1097.0 L1686.0,1096.4 L1687.0,1096.3 L1688.0,1095.6 L1689.0,1095.8 L1690.0,1094.7 L1691.0,1094.6 L1692.0,1093.9 L1693.0,1093.2 L1694.0,1093.6 L1695.0,1091.9 L1696.0,1092.5 L1697.0,1091.2 L1698.0,1091.3 L1699.0,1091.8 L1700.0,1088.8 L1701.0,1090.7 L1702.0,1091.9 L1703.0,1091.9 L1704.0,1092.1 L1705.0,1092.4 L1706.0,1092.1 L1707.0,1092.4 L1708.0,1092.7 L1709.0,1092.1 L1710.0,1092.2 L1711.0,1092.5 L1712.0,1092.7 L1713.0,1091.8 L1714.0,1092.0 L1715.0,1091.7 L1716.0,1091.6 L1717.0,1091.7 L1718.0,1091.6 L1719.0,1091.3 L1720.0,1091.3 L1721.0,1092.0 L1722.0,1092.5 L1723.0,1093.1 L1724.0,1092.9 L1725.0,1093.2 L1726.0,1093.5 L1727.0,1093.5 L1728.0,1092.9 L1729.0,1092.5 L1730.0,1092.5 L1731.0,1091.2 L1732.0,1090.5 L1733.0,1087.7 L1734.0,1089.4 L1735.0,1088.6 L1736.0,1088.7 L1737.0,1087.6 L1738.0,1087.7 L1739.0,1087.6 L1740.0,1087.6 L1741.0,1086.5 L1742.0,1087.3 L1743.0,1086.7 L1744.0,1086.5 L1745.0,1086.3 L1746.0,1086.1 L1747.0,1086.0 L1748.0,1085.3 L1749.0,1086.1 L1750.0,1085.9 L1751.0,1085.5 L1752.0,1085.7 L1753.0,1086.3 L1754.0,1085.6 L1755.0,1087.4 L1756.0,1085.9 L1757.0,1085.0 L1758.0,1085.1 L1759.0,1084.9 L1760.0,1084.9 L1761.0,1085.2 L1762.0,1085.0 L1763.0,1084.6 L1764.0,1084.7 L1765.0,1086.1 L1766.0,1084.5 L1767.0,1084.6 L1768.0,1084.3 L1769.0,1084.2 L1770.0,1084.4 L1771.0,1084.0 L1772.0,1084.4 L1773.0,1084.2 L1774.0,1083.9 L1775.0,1083.9 L1776.0,1083.9 L1777.0,1083.9 L1778.0,1083.9 L1779.0,1083.7 L1780.0,1083.4 L1781.0,1084.0 L1782.0,1083.8 L1783.0,1083.4 L1784.0,1083.5 L1785.0,1083.2 L1786.0,1082.8 L1787.0,1082.8 L1788.0,1083.4 L1789.0,1082.7 L1790.0,1082.6 L1791.0,1082.0 L1792.0,1082.2 L1793.0,1082.5 L1794.0,1081.9 L1795.0,1082.0 L1796.0,1081.9 L1797.0,1081.7 L1798.0,1081.9 L1799.0,1083.5 L1800.0,1081.6 L1801.0,1081.2 L1802.0,1082.2 L1803.0,1081.5 L1804.0,1081.5 L1805.0,1081.8 L1806.0,1081.3 L1807.0,1081.4 L1808.0,1081.2 L1809.0,1081.4 L1810.0,1081.3 L1811.0,1081.6 L1812.0,1081.4 L1813.0,1081.2 L1814.0,1081.3 L1815.0,1081.4 L1816.0,1081.3 L1817.0,1081.7 L1818.0,1081.6 L1819.0,1081.5 L1820.0,1081.3 L1821.0,1082.0 L1822.0,1081.7 L1823.0,1082.4 L1824.0,1082.6 L1825.0,1082.5 L1826.0,1082.5 L1827.0,1082.4 L1828.0,1083.0 L1829.0,1082.0 L1830.0,1081.6 L1831.0,1081.6 L1832.0,1081.2 L1833.0,1081.2 L1834.0,1080.5 L1835.0,1080.6 L1836.0,1081.9 L1837.0,1081.0 L1838.0,1081.1 L1839.0,1081.3 L1840.0,1081.7 L1841.0,1081.2 L1842.0,1081.9 L1843.0,1082.0 L1844.0,1082.4 L1845.0,1082.4 L1846.0,1082.4 L1847.0,1082.5 L1848.0,1082.2 L1849.0,1083.4 L1850.0,1082.9 L1851.0,1083.4 L1852.0,1084.1 L1853.0,1083.6 L1854.0,1085.5 L1855.0,1083.9 L1856.0,1084.3 L1857.0,1084.2 L1858.0,1084.1 L1859.0,1084.8 L1860.0,1084.4 L1861.0,1084.2 L1862.0,1084.5 L1863.0,1084.9 L1864.0,1084.5 L1865.0,1085.1 L1866.0,1085.2 L1867.0,1085.7 L1868.0,1085.0 L1869.0,1085.5 L1870.0,1084.9 L1871.0,1085.4 L1872.0,1085.7 L1873.0,1085.9 L1874.0,1085.9 L1875.0,1086.1 L1876.0,1087.8 L1877.0,1086.4 L1878.0,1086.8 L1879.0,1087.1 L1880.0,1087.3 L1881.0,1087.6 L1882.0,1087.8 L1883.0,1087.1 L1884.0,1087.7 L1885.0,1088.0 L1886.0,1088.0 L1887.0,1088.6 L1888.0,1088.6 L1889.0,1088.5 L1890.0,1088.6 L1891.0,1089.0 L1892.0,1088.6 L1893.0,1088.7 L1894.0,1089.1 L1895.0,1089.0 L1896.0,1089.4 L1897.0,1089.1 L1898.0,1089.2 L1899.0,1088.9 L1900.0,1088.8 L1901.0,1089.1 L1902.0,1088.4 L1903.0,1089.3 L1904.0,1089.5 L1905.0,1089.3 L1906.0,1089.3 L1907.0,1089.7 L1908.0,1089.4 L1909.0,1089.7 L1910.0,1090.1 L1911.0,1089.7 L1912.0,1089.8 L1913.0,1089.7 L1914.0,1089.7 L1915.0,1089.7 L1916.0,1089.7 L1917.0,1088.1 L1918.0,1089.3 L1919.0,1089.7 L1920.0,1090.1 L1921.0,1089.7 L1922.0,1089.9 L1923.0,1089.8 L1924.0,1090.2 L1925.0,1090.4 L1926.0,1090.6 L1927.0,1090.4 L1928.0,1090.1 L1929.0,1090.4 L1930.0,1090.6 L1931.0,1090.9 L1932.0,1089.9 L1933.0,1090.7 L1934.0,1090.2 L1935.0,1091.0 L1936.0,1091.0 L1937.0,1091.1 L1938.0,1091.4 L1939.0,1091.6 L1940.0,1091.6 L1941.0,1092.3 L1942.0,1093.0 L1943.0,1093.1 L1944.0,1093.6 L1945.0,1093.7 L1946.0,1094.7 L1947.0,1094.5 L1948.0,1094.6 L1949.0,1094.7 L1950.0,1094.5 L1951.0,1094.4 L1952.0,1094.5 L1953.0,1093.9 L1954.0,1093.7 L1955.0,1093.2 L1956.0,1092.1 L1957.0,1092.2 L1958.0,1092.3 L1959.0,1092.4 L1960.0,1091.1 L1961.0,1091.0 L1962.0,1091.5 L1963.0,1091.2 L1964.0,1090.9 L1965.0,1091.3 L1966.0,1090.9 L1967.0,1090.4 L1968.0,1091.0 L1969.0,1090.9 L1970.0,1091.0 L1971.0,1091.0 L1972.0,1090.7 L1973.0,1090.4 L1974.0,1090.2 L1975.0,1089.7 L1976.0,1089.7 L1977.0,1089.8 L1978.0,1089.3 L1979.0,1089.3 L1980.0,1088.2 L1981.0,1087.2 L1982.0,1087.6 L1983.0,1087.3 L1984.0,1086.3 L1985.0,1085.8 L1986.0,1086.2 L1987.0,1086.2 L1988.0,1085.6 L1989.0,1085.8 L1990.0,1085.7 L1991.0,1085.5 L1992.0,1085.4 L1993.0,1085.8 L1994.0,1085.6 L1995.0,1085.5 L1996.0,1084.9 L1997.0,1086.2 L1998.0,1085.4 L1999.0,1085.6 L2000.0,1085.3 L2001.0,1085.8 L2002.0,1085.2 L2003.0,1085.7 L2004.0,1085.7 L2005.0,1086.1 L2006.0,1085.7 L2007.0,1086.1 L2008.0,1086.5 L2009.0,1087.5 L2010.0,1086.8 L2011.0,1087.6 L2012.0,1087.8 L2013.0,1088.4 L2014.0,1088.9 L2015.0,1089.1"/>
<path stroke="#00ff00" d="M143.9,894.1 L144.9,893.5 L145.9,893.0 L146.9,892.3 L147.9,892.3 L148.9,892.7 L149.9,890.8 L150.9,892.5 L151.9,892.4 L152.9,891.8 L153.9,891.6 L154.9,891.5 L155.9,892.3 L156.9,891.1 L157.9,892.0 L158.9,891.2 L159.9,891.7 L160.9,891.4 L161.9,891.5 L162.9,891.5 L163.9,890.5 L164.9,890.3 L165.9,890.4 L166.9,890.1 L167.9,890.6 L168.9,890.1 L169.9,890.0 L170.9,890.0 L171.9,889.4 L172.9,889.9 L173.9,888.5 L174.9,889.1 L175.9,889.1 L176.9,888.4 L177.9,888.2 L178.9,888.7 L179.9,888.0 L180.9,887.2 L181.9,887.2 L182.9,888.0 L183.9,887.1 L184.9,887.8 L185.9,887.7 L186.9,886.9 L187.9,887.1 L188.9,886.4 L189.9,886.5 L190.9,886.3 L191.9,886.7 L192.9,885.9 L193.9,886.3 L194.9,886.4 L195.9,886.5 L196.9,885.4 L197.9,885.5 L198.9,885.9 L199.9,886.1 L200.9,886.2 L201.9,886.2 L202.9,886.9 L203.9,886.3 L204.9,886.3 L205.9,885.8 L206.9,886.3 L207.9,884.5 L208.9,886.2 L209.9,885.9 L210.9,886.2 L211.9,886.5 L212.9,885.6 L213.9,885.0 L214.9,886.2 L215.9,886.2 L216.9,885.7 L217.9,885.6 L218.9,886.9 L219.9,885.6 L220.9,885.3 L221.9,885.6 L222.9,887.7 L223.9,885.5 L224.9,885.6 L225.9,887.6 L226.9,885.5 L227.9,885.7 L228.9,885.6 L229.9,885.2 L230.9,885.6 L231.9,885.1 L232.9,886.0 L233.9,885.2 L234.9,885.4 L235.9,884.8 L236.9,885.3 L237.9,884.9 L238.9,886.1 L239.9,885.4 L240.9,885.6 L241.9,884.6 L242.9,884.8 L243.9,885.2 L244.9,884.7 L245.9,885.7 L246.9,885.0 L247.9,885.1 L248.9,886.6 L249.9,884.9 L250.9,885.2 L251.9,884.6 L252.9,884.9 L253.9,885.2 L254.9,884.8 L255.9,884.7 L256.9,884.4 L257.9,884.5 L258.9,886.1 L259.9,884.3 L260.9,883.6 L261.9,884.3 L262.9,884.1 L263.9,884.3 L264.9,884.1 L265.9,884.7 L266.9,883.5 L267.9,883.5 L268.9,884.2 L269.9,883.4 L270.9,884.0 L271.9,883.8 L272.9,883.0 L273.9,884.0 L274.9,884.3 L275.9,883.8 L276.9,883.1 L277.9,884.0 L278.9,880.9 L279.9,883.7 L280.9,883.9 L281.9,883.4 L282.9,883.1 L283.9,883.8 L284.9,883.8 L285.9,883.5 L286.9,883.6 L287.9,884.3 L288.9,882.0 L289.9,883.9 L290.9,883.9 L291.9,884.3 L292.9,884.3 L293.9,884.2 L294.9,883.8 L295.9,884.3 L296.9,884.3 L297.9,884.6 L298.9,885.1 L299.9,885.1 L300.9,885.1 L301.9,884.9 L302.9,884.9 L303.9,885.2 L304.9,885.0 L305.9,885.1 L306.9,885.0 L307.9,885.4 L308.9,885.4 L309.9,886.3 L310.9,885.9 L311.9,885.6 L312.9,886.2 L313.9,885.8 L314.9,886.5 L315.9,886.5 L316.9,887.5 L317.9,886.0 L318.9,886.5 L319.9,886.6 L320.9,886.9 L321.9,887.3 L322.9,886.7 L323.9,887.0 L324.9,887.6 L325.9,888.0 L326.9,887.4 L327.9,887.4 L328.9,888.7 L329.9,888.8 L330.9,888.9 L331.9,888.7 L332.9,889.1 L333.9,889.5 L334.9,889.9 L335.9,890.2 L336.9,890.6 L337.9,891.3 L338.9,891.5 L339.9,892.0 L340.9,892.5 L341.9,893.0 L342.9,893.7 L343.9,894.2 L344.9,894.7 L345.9,895.6 L346.9,895.9 L347.9,896.3 L348.9,897.1 L349.9,897.3 L350.9,898.0 L351.9,898.5 L352.9,899.0 L353.9,899.7 L354.9,900.4 L355.9,900.7 L356.9,901.5 L357.9,902.2 L358.9,902.9 L359.9,903.5 L360.9,904.5 L361.9,904.9 L362.9,905.3 L363.9,906.0 L364.9,906.6 L365.9,907.3 L366.9,907.8 L367.9,908.7 L368.9,908.8 L369.9,909.7 L370.9,910.3 L371.9,910.5 L372.9,911.4 L373.9,911.9 L374.9,912.2 L375.9,913.3 L376.9,913.5 L377.9,913.9 L378.9,914.4 L379.9,914.8 L380.9,915.5 L381.9,916.0 L382.9,916.2 L383.9,916.8 L384.9,917.4 L385.9,917.9 L386.9,918.4 L387.9,918.9 L388.9,919.6 L389.9,920.1 L390.9,920.5 L391.9,920.5 L392.9,923.2 L393.9,922.0 L394.9,922.3 L395.9,922.9 L396.9,923.3 L397.9,923.5 L398.9,923.7 L399.9,924.8 L400.9,925.0 L401.9,925.7 L402.9,926.0 L403.9,926.5 L404.9,927.2 L405.9,927.2 L406.9,927.9 L407.9,928.1 L408.9,928.8 L409.9,929.3 L410.9,929.8 L411.9,930.1 L412.9,930.3 L413.9,931.0 L414.9,931.5 L415.9,932.0 L416.9,932.6 L417.9,932.7 L418.9,932.8 L419.9,933.2 L420.9,933.7 L421.9,934.2 L422.9,934.2 L423.9,935.0 L424.9,935.3 L425.9,935.4 L426.9,936.1 L427.9,936.2 L428.9,936.7 L429.9,937.0 L430.9,937.4 L431.9,937.4 L432.9,938.0 L433.9,937.6 L434.9,938.0 L435.9,938.0 L436.9,938.4 L437.9,938.2 L438.9,938.0 L439.9,937.9 L440.9,938.0 L441.9,937.9 L442.9,938.4 L443.9,937.5 L444.9,937.9 L445.9,937.5 L446.9,938.1 L447.9,937.7 L448.9,938.1 L449.9,937.6 L450.9,937.9 L451.9,937.7 L452.9,937.8 L453.9,937.5 L454.9,936.9 L455.9,937.3 L456.9,937.0 L457.9,937.3 L458.9,937.0 L459.9,936.6 L460.9,936.4 L461.9,936.0 L462.9,935.4 L463.9,935.5 L464.9,934.7 L465.9,934.1 L466.9,933.4 L467.9,933.0 L468.9,932.6 L469.9,932.0 L470.9,931.4 L471.9,931.0 L472.9,930.2 L473.9,929.9 L474.9,929.1 L475.9,928.8 L476.9,928.3 L477.9,928.0 L478.9,927.4 L479.9,926.8 L480.9,926.0 L481.9,925.5 L482.9,925.1 L483.9,924.6 L484.9,923.4 L485.9,923.0 L486.9,922.5 L487.9,921.9 L488.9,921.2 L489.9,920.7 L490.9,919.7 L491.9,919.7 L492.9,918.6 L493.9,918.3 L494.9,917.8 L495.9,917.5 L496.9,916.9 L497.9,916.4 L498.9,916.0 L499.9,915.3 L500.9,915.0 L501.9,914.7 L502.9,913.8 L503.9,913.3 L504.9,912.9 L505.9,912.9 L506.9,912.5 L507.9,911.8 L508.9,911.5 L509.9,911.1 L510.9,910.8 L511.9,909.9 L513.0,909.8 L514.0,909.5 L515.0,909.3 L516.0,908.9 L517.0,908.5 L518.0,908.4 L519.0,907.5 L520.0,908.3 L521.0,907.6 L522.0,907.4 L523.0,906.8 L524.0,906.8 L525.0,906.8 L526.0,906.5 L527.0,906.0 L528.0,905.5 L529.0,905.5 L530.0,905.2 L531.0,905.2 L532.0,904.6 L533.0,904.5 L534.0,904.4 L535.0,904.0 L536.0,904.1 L537.0,903.4 L538.0,903.2 L539.0,903.1 L540.0,903.1 L541.0,902.6 L542.0,902.3 L543.0,904.5 L544.0,901.9 L545.0,901.5 L546.0,901.4 L547.0,901.0 L548.0,900.9 L549.0,900.5 L550.0,900.1 L551.0,899.8 L552.0,899.6 L553.0,899.4 L554.0,899.1 L555.0,898.6 L556.0,898.4 L557.0,898.2 L558.0,898.1 L559.0,897.6 L560.0,897.7 L561.0,897.0 L562.0,896.9 L563.0,896.4 L564.0,896.0 L565.0,895.9 L566.0,895.7 L567.0,895.4 L568.0,895.0 L569.0,894.6 L570.0,894.2 L571.0,893.9 L572.0,893.7 L573.0,893.4 L574.0,892.3 L575.0,892.6 L576.0,892.4 L577.0,892.1 L578.0,891.6 L579.0,891.4 L580.0,891.0 L581.0,890.8 L582.0,890.8 L583.0,890.3 L584.0,890.3 L585.0,890.5 L586.0,890.2 L587.0,890.6 L588.0,890.5 L589.0,891.0 L590.0,891.2 L591.0,891.4 L592.0,891.6 L593.0,891.9 L594.0,891.9 L595.0,892.7 L596.0,893.4 L597.0,894.2 L598.0,894.5 L599.0,895.2 L600.0,896.0 L601.0,894.3 L602.0,896.3 L603.0,896.7 L604.0,896.5 L605.0,896.1 L606.0,895.4 L607.0,894.8 L608.0,894.5 L609.0,894.2 L610.0,893.0 L611.0,892.7 L612.0,892.2 L613.0,891.1 L614.0,890.8 L615.0,890.7 L616.0,890.2 L617.0,889.8 L618.0,889.3 L619.0,889.0 L620.0,888.4 L621.0,888.6 L622.0,887.6 L623.0,887.2 L624.0,887.2 L625.0,887.2 L626.0,886.5 L627.0,886.4 L628.0,885.9 L629.0,885.8 L630.0,885.4 L631.0,885.1 L632.0,884.8 L633.0,884.7 L634.0,884.9 L635.0,884.3 L636.0,884.2 L637.0,884.4 L638.0,883.7 L639.0,883.6 L640.0,883.8 L641.0,883.6 L642.0,884.3 L643.0,885.2 L644.0,885.8 L645.0,886.9 L646.0,888.5 L647.0,889.0 L648.0,890.0 L649.0,890.9 L650.0,891.3 L651.0,891.4 L652.0,892.0 L653.0,891.7 L654.0,891.9 L655.0,891.9 L656.0,892.0 L657.0,891.9 L658.0,892.4 L659.0,892.2 L660.0,892.5 L661.0,892.1 L662.0,892.3 L663.0,892.5 L664.0,892.5 L665.0,892.4 L666.0,892.6 L667.0,892.4 L668.0,892.7 L669.0,892.2 L670.0,892.8 L671.0,893.1 L672.0,893.1 L673.0,893.2 L674.0,893.1 L675.0,893.3 L676.0,893.3 L677.0,893.5 L678.0,893.6 L679.0,893.1 L680.0,894.1 L681.0,894.1 L682.0,894.4 L683.0,896.3 L684.0,894.7 L685.0,894.8 L686.0,894.5 L687.0,894.8 L688.0,895.3 L689.0,895.4 L690.0,897.0 L691.0,895.7 L692.0,896.3 L693.0,895.9 L694.0,896.2 L695.0,896.5 L696.0,896.6 L697.0,896.9 L698.0,897.2 L699.0,897.2 L700.0,897.7 L701.0,898.1 L702.0,898.3 L703.0,898.7 L704.0,898.9 L705.0,898.9 L706.0,899.6 L707.0,899.8 L708.0,900.5 L709.0,900.8 L710.0,901.5 L711.0,902.8 L712.0,904.4 L713.0,905.8 L714.0,906.9 L715.0,908.2 L716.0,908.8 L717.0,909.5 L718.0,910.1 L719.0,909.8 L720.0,909.3 L721.0,908.7 L722.0,907.6 L723.0,906.1 L724.0,905.2 L725.0,903.7 L726.0,903.1 L727.0,902.5 L728.0,901.7 L729.0,902.0 L730.0,901.8 L731.0,901.2 L732.0,901.0 L733.0,900.9 L734.0,900.3 L735.0,900.3 L736.0,900.0 L737.0,899.5 L738.0,899.5 L739.0,899.5 L740.0,899.7 L741.0,899.5 L742.0,899.7 L743.0,899.6 L744.0,899.7 L745.0,900.7 L746.0,901.2 L747.0,901.1 L748.0,901.5 L749.0,902.2 L750.0,902.2 L751.0,902.9 L752.0,903.1 L753.0,903.8 L754.0,904.1 L755.0,904.2 L756.0,904.3 L757.0,904.3 L758.0,904.2 L759.0,904.0 L760.0,902.7 L761.0,901.9 L762.0,900.3 L763.0,899.3 L764.0,898.2 L765.0,897.5 L766.0,897.3 L767.0,896.7 L768.0,897.2 L769.0,897.1 L770.0,897.0 L771.0,896.9 L772.0,896.8 L773.0,897.0 L774.0,896.8 L775.0,896.6 L776.0,896.8 L777.0,896.9 L778.0,896.7 L779.0,896.7 L780.0,896.7 L781.0,896.5 L782.0,896.5 L783.0,896.2 L784.0,896.5 L785.0,896.7 L786.0,896.5 L787.0,896.3 L788.0,896.7 L789.0,894.3 L790.0,896.5 L791.0,896.6 L792.0,896.6 L793.0,896.5 L794.0,896.3 L795.0,896.8 L796.0,896.5 L797.0,896.3 L798.0,896.5 L799.0,896.7 L800.0,896.2 L801.0,896.7 L802.0,896.5 L803.0,896.8 L804.0,896.6 L805.0,896.5 L806.0,896.7 L807.0,896.7 L808.0,896.4 L809.0,896.5 L810.0,896.4 L811.0,898.3 L812.0,896.2 L813.0,896.4 L814.0,896.1 L815.0,896.6 L816.0,896.1 L817.0,896.3 L818.0,896.5 L819.0,896.4 L820.0,896.4 L821.0,896.3 L822.0,896.4 L823.0,896.2 L824.0,896.5 L825.0,894.8 L826.0,896.6 L827.0,896.5 L828.0,894.6 L829.0,896.6 L830.0,896.7 L831.0,896.5 L832.0,896.5 L833.0,896.3 L834.0,896.0 L835.0,896.6 L836.0,896.5 L837.0,896.8 L838.0,896.1 L839.0,896.6 L840.0,896.3 L841.0,896.5 L842.0,896.1 L843.0,896.0 L844.0,895.5 L845.0,895.2 L846.0,894.7 L847.0,894.6 L848.0,894.7 L849.0,894.5 L850.0,894.3 L851.0,894.5 L852.0,894.3 L853.0,894.3 L854.0,894.2 L855.0,894.1 L856.0,893.7 L857.0,894.3 L858.0,894.0 L859.0,894.3 L860.0,894.5 L861.0,893.9 L862.0,894.3 L863.0,894.1 L864.0,894.2 L865.0,893.9 L866.0,894.1 L867.0,894.1 L868.0,894.4 L869.0,894.5 L870.0,894.1 L871.0,894.0 L872.0,894.5 L873.0,894.0 L874.0,894.0 L875.0,894.0 L876.0,894.0 L877.0,894.1 L878.0,893.8 L879.0,893.9 L880.0,894.2 L881.0,894.1 L882.0,893.7 L883.0,893.4 L884.0,893.0 L885.0,892.8 L886.0,892.3 L887.0,892.2 L888.0,892.0 L889.0,892.2 L890.0,892.6 L891.0,892.9 L892.0,893.2 L893.0,893.6 L894.0,893.8 L895.0,893.7 L896.0,893.7 L897.0,893.9 L898.0,894.0 L899.0,894.1 L900.0,894.0 L901.0,893.9 L902.0,894.0 L903.0,894.4 L904.0,894.2 L905.0,893.9 L906.0,894.1 L907.0,894.0 L908.0,894.0 L909.0,893.8 L910.0,894.1 L911.0,893.9 L912.0,894.0 L913.0,894.4 L914.0,894.3 L915.0,894.0 L916.0,893.9 L917.0,894.0 L918.0,893.8 L919.0,894.0 L920.0,894.1 L921.0,894.0 L922.0,894.3 L923.0,894.2 L924.0,894.1 L925.0,894.5 L926.0,894.4 L927.0,894.3 L928.0,894.6 L929.0,894.5 L930.0,894.2 L931.0,894.4 L932.0,894.3 L933.0,894.1 L934.0,894.8 L935.0,894.8 L936.0,894.5 L937.0,895.1 L938.0,895.2 L939.0,896.1 L940.0,896.2 L941.0,896.4 L942.0,896.7 L943.0,896.5 L944.0,896.5 L945.0,896.8 L946.0,896.6 L947.0,896.8 L948.0,896.7 L949.0,896.8 L950.0,896.8 L951.0,896.9 L952.0,896.6 L953.0,897.1 L954.0,896.7 L955.0,897.1 L956.0,896.7 L957.0,896.7 L958.0,896.8 L959.0,897.0 L960.0,896.7 L961.0,896.9 L962.0,896.5 L963.0,896.7 L964.0,896.9 L965.0,896.8 L966.0,896.5 L967.0,896.9 L968.0,896.7 L969.0,897.2 L970.0,896.8 L971.0,897.3 L972.0,897.0 L973.0,897.0 L974.0,896.8 L975.0,896.9 L976.0,897.1 L977.0,896.6 L978.0,897.2 L979.0,896.8 L980.0,897.0 L981.0,896.6 L982.0,897.3 L983.0,897.5 L984.0,897.7 L985.0,898.1 L986.0,898.3 L987.0,898.7 L988.0,899.0 L989.0,898.8 L990.0,899.0 L991.0,899.1 L992.0,898.9 L993.0,899.0 L994.0,899.0 L995.0,898.9 L996.0,899.5 L997.0,899.0 L998.0,899.4 L999.0,899.3 L1000.0,898.7 L1001.0,899.2 L1002.0,899.3 L1003.0,899.3 L1004.0,899.0 L1005.0,899.2 L1006.0,898.9 L1007.0,899.0 L1008.0,899.1 L1009.0,899.2 L1010.0,899.5 L1011.0,899.3 L1012.0,899.4 L1013.0,899.0 L1014.0,899.0 L1015.0,899.1 L1016.0,899.5 L1017.0,899.0 L1018.0,898.9 L1019.0,899.2 L1020.0,899.5 L1021.0,899.0 L1022.0,899.2 L1023.0,899.0 L1024.0,899.6 L1025.0,899.4 L1026.0,899.4 L1027.0,899.4 L1028.0,899.3 L1029.0,899.4 L1030.0,899.3 L1031.0,899.3 L1032.0,899.3 L1033.0,899.6 L1034.0,899.6 L1035.0,900.1 L1036.0,898.3 L1037.0,900.5 L1038.0,900.7 L1039.0,901.1 L1040.0,901.0 L1041.0,900.8 L1042.0,901.0 L1043.0,901.4 L1044.0,901.1 L1045.0,901.1 L1046.0,901.0 L1047.0,901.1 L1048.0,901.1 L1049.0,900.8 L1050.0,900.9 L1051.0,901.2 L1052.0,901.3 L1053.0,900.9 L1054.0,900.8 L1055.0,901.1 L1056.0,900.8 L1057.0,900.6 L1058.0,900.7 L1059.0,900.8 L1060.0,900.9 L1061.0,900.5 L1062.0,900.6 L1063.0,900.4 L1064.0,900.6 L1065.0,900.3 L1066.0,900.2 L1067.0,899.8 L1068.0,899.8 L1069.0,899.6 L1070.0,898.8 L1071.0,899.4 L1072.0,899.1 L1073.0,898.8 L1074.0,898.6 L1075.0,898.5 L1076.0,898.3 L1077.0,897.8 L1078.0,897.9 L1079.0,897.7 L1080.0,897.5 L1081.0,897.1 L1082.0,897.2 L1083.0,896.8 L1084.0,897.0 L1085.0,897.0 L1086.0,896.8 L1087.0,896.5 L1088.0,896.3 L1089.0,896.2 L1090.0,896.2 L1091.0,895.9 L1092.0,895.8 L1093.0,895.3 L1094.0,895.5 L1095.0,895.4 L1096.0,895.4 L1097.0,895.6 L1098.0,895.0 L1099.0,894.9 L1100.0,895.2 L1101.0,894.8 L1102.0,894.8 L1103.0,894.8 L1104.0,894.6 L1105.0,894.4 L1106.0,894.6 L1107.0,894.6 L1108.0,894.1 L1109.0,894.1 L1110.0,894.2 L1111.0,893.9 L1112.0,893.6 L1113.0,893.6 L1114.0,893.8 L1115.0,893.3 L1116.0,893.5 L1117.0,893.4 L1118.0,893.1 L1119.0,893.3 L1120.0,893.2 L1121.0,893.2 L1122.0,893.1 L1123.0,892.6 L1124.0,893.0 L1125.0,892.9 L1126.0,893.0 L1127.0,892.6 L1128.0,892.9 L1129.0,892.8 L1130.0,892.5 L1131.0,892.9 L1132.0,892.5 L1133.0,892.5 L1134.0,892.7 L1135.0,892.5 L1136.0,892.7 L1137.0,892.6 L1138.0,892.7 L1139.0,892.7 L1140.0,892.6 L1141.0,892.7 L1142.0,892.7 L1143.0,892.4 L1144.0,892.7 L1145.0,892.7 L1146.0,892.6 L1147.0,892.7 L1148.0,892.8 L1149.0,892.7 L1150.0,892.2 L1151.0,892.6 L1152.0,892.5 L1153.0,892.5 L1154.0,892.6 L1155.0,892.4 L1156.0,892.8 L1157.0,892.5 L1158.0,892.5 L1159.0,892.6 L1160.0,892.6 L1161.0,892.7 L1162.0,892.6 L1163.0,892.5 L1164.0,892.5 L1165.0,892.1 L1166.0,892.2 L1167.0,892.6 L1168.0,892.4 L1169.0,892.8 L1170.0,892.8 L1171.0,892.2 L1172.0,892.5 L1173.0,893.0 L1174.0,892.3 L1175.0,892.5 L1176.0,892.4 L1177.0,892.4 L1178.0,892.3 L1179.0,892.4 L1180.0,892.5 L1181.0,892.2 L1182.0,892.4 L1183.0,892.2 L1184.0,892.4 L1185.0,892.4 L1186.0,892.2 L1187.0,892.3 L1188.0,894.4 L1189.0,892.1 L1190.0,892.5 L1191.0,891.9 L1192.0,892.3 L1193.0,892.3 L1194.0,892.1 L1195.0,892.3 L1196.0,892.3 L1197.0,891.9 L1198.0,892.1 L1199.0,891.9 L1200.0,891.5 L1201.0,891.5 L1202.0,891.3 L1203.0,890.8 L1204.0,890.4 L1205.0,890.7 L1206.0,890.3 L1207.0,890.1 L1208.0,890.3 L1209.0,889.9 L1210.0,890.3 L1211.0,890.6 L1212.0,889.7 L1213.0,890.3 L1214.0,890.0 L1215.0,890.1 L1216.0,890.0 L1217.0,890.3 L1218.0,890.2 L1219.0,890.0 L1220.0,889.9 L1221.0,890.1 L1222.0,890.3 L1223.0,889.9 L1224.0,890.2 L1225.0,890.2 L1226.0,889.7 L1227.0,890.3 L1228.0,890.1 L1229.0,890.5 L1230.0,890.4 L1231.0,890.0 L1232.0,890.0 L1233.0,889.8 L1234.0,889.7 L1235.0,890.1 L1236.0,889.9 L1237.0,889.8 L1238.0,889.8 L1239.0,889.9 L1240.0,889.9 L1241.0,889.7 L1242.0,889.4 L1243.0,889.1 L1244.0,889.2 L1245.0,888.1 L1246.0,888.0 L1247.0,888.2 L1248.0,888.0 L1249.0,888.2 L1250.0,888.1 L1251.0,888.2 L1252.0,887.7 L1253.0,887.9 L1254.0,887.7 L1255.0,887.9 L1256.0,887.7 L1257.0,887.8 L1258.0,887.5 L1259.0,887.7 L1260.0,889.1 L1261.0,887.5 L1262.0,887.5 L1263.0,887.4 L1264.0,887.8 L1265.0,887.6 L1266.0,887.7 L1267.0,887.3 L1268.0,887.1 L1269.0,887.3 L1270.0,887.4 L1271.0,887.5 L1272.0,887.6 L1273.0,887.5 L1274.0,887.6 L1275.0,887.3 L1276.0,887.2 L1277.0,886.9 L1278.0,887.1 L1279.0,886.6 L1280.0,886.2 L1281.0,886.1 L1282.0,885.7 L1283.0,885.6 L1284.0,885.3 L1285.0,885.7 L1286.0,885.7 L1287.0,885.9 L1288.0,886.2 L1289.0,886.5 L1290.0,886.9 L1291.0,887.8 L1292.0,887.7 L1293.0,888.5 L1294.0,888.8 L1295.0,889.1 L1296.0,889.5 L1297.0,890.0 L1298.0,890.6 L1299.0,891.0 L1300.0,891.2 L1301.0,891.3 L1302.0,891.6 L1303.0,892.7 L1304.0,892.5 L1305.0,892.8 L1306.0,893.6 L1307.0,893.5 L1308.0,894.2 L1309.0,894.4 L1310.0,894.5 L1311.0,894.7 L1312.0,894.2 L1313.0,894.2 L1314.0,894.3 L1315.0,894.2 L1316.0,894.0 L1317.0,894.0 L1318.0,893.5 L1319.0,893.0 L1320.0,893.3 L1321.0,892.9 L1322.0,892.9 L1323.0,892.9 L1324.0,892.4 L1325.0,892.3 L1326.0,891.9 L1327.0,892.1 L1328.0,891.8 L1329.0,891.7 L1330.0,891.6 L1331.0,890.9 L1332.0,891.4 L1333.0,891.2 L1334.0,891.6 L1335.0,890.1 L1336.0,890.7 L1337.0,891.6 L1338.0,890.5 L1339.0,890.5 L1340.0,891.6 L1341.0,892.1 L1342.0,891.5 L1343.0,891.6 L1344.0,892.1 L1345.0,892.6 L1346.0,892.9 L1347.0,893.2 L1348.0,893.9 L1349.0,894.1 L1350.0,894.3 L1351.0,894.1 L1352.0,893.5 L1353.0,892.5 L1354.0,893.8 L1355.0,895.3 L1356.0,893.2 L1357.0,893.2 L1358.0,892.9 L1359.0,892.6 L1360.0,892.8 L1361.0,892.8 L1362.0,892.1 L1363.0,890.7 L1364.0,891.8 L1365.0,892.3 L1366.0,892.7 L1367.0,893.1 L1368.0,893.1 L1369.0,893.4 L1370.0,893.5 L1371.0,894.3 L1372.0,894.2 L1373.0,895.2 L1374.0,895.6 L1375.0,895.9 L1376.0,897.1 L1377.0,897.7 L1378.0,898.9 L1379.0,899.3 L1380.0,900.6 L1381.0,902.0 L1382.0,902.4 L1383.0,903.5 L1384.0,903.9 L1385.0,907.2 L1386.0,905.3 L1387.0,907.1 L1388.0,907.7 L1389.0,909.3 L1390.0,909.5 L1391.0,911.0 L1392.0,912.4 L1393.0,913.5 L1394.0,913.6 L1395.0,915.0 L1396.0,917.1 L1397.0,917.3 L1398.0,918.0 L1399.0,917.7 L1400.0,919.3 L1401.0,920.7 L1402.0,921.2 L1403.0,921.9 L1404.0,922.5 L1405.0,922.5 L1406.0,923.1 L1407.0,922.4 L1408.0,924.4 L1409.0,923.5 L1410.0,923.5 L1411.0,924.5 L1412.0,924.1 L1413.0,924.1 L1414.0,923.3 L1415.0,923.5 L1416.0,923.4 L1417.0,922.3 L1418.0,922.4 L1419.0,922.1 L1420.0,921.7 L1421.0,921.2 L1422.0,920.7 L1423.0,921.1 L1424.0,920.8 L1425.0,921.0 L1426.0,920.2 L1427.0,919.8 L1428.0,919.3 L1429.0,919.7 L1430.0,919.3 L1431.0,920.0 L1432.0,919.8 L1433.0,919.2 L1434.0,917.9 L1435.0,917.3 L1436.0,917.2 L1437.0,916.3 L1438.0,916.5 L1439.0,915.1 L1440.0,914.0 L1441.0,913.3 L1442.0,912.9 L1443.0,911.2 L1444.0,911.0 L1445.0,909.5 L1446.0,909.3 L1447.0,908.5 L1448.0,908.4 L1449.0,907.7 L1450.0,907.6 L1451.0,906.9 L1452.0,905.9 L1453.0,905.1 L1454.0,904.8 L1455.0,904.5 L1456.0,904.1 L1457.0,903.5 L1458.0,903.8 L1459.0,903.3 L1460.0,902.3 L1461.0,901.8 L1462.0,901.4 L1463.0,901.0 L1464.0,900.6 L1465.0,899.5 L1466.0,899.5 L1467.0,898.5 L1468.0,898.9 L1469.0,898.8 L1470.0,897.8 L1471.0,898.0 L1472.0,897.5 L1473.0,897.3 L1474.0,898.2 L1475.0,897.6 L1476.0,897.3 L1477.0,894.7 L1478.0,897.0 L1479.0,896.6 L1480.0,896.8 L1481.0,896.2 L1482.0,896.5 L1483.0,896.3 L1484.0,895.9 L1485.0,897.2 L1486.0,896.9 L1487.0,896.5 L1488.0,896.5 L1489.0,897.2 L1490.0,897.5 L1491.0,898.1 L1492.0,898.1 L1493.0,898.8 L1494.0,899.6 L1495.0,900.2 L1496.0,899.9 L1497.0,901.3 L1498.0,901.5 L1499.0,902.0 L1500.0,902.6 L1501.0,902.5 L1502.0,902.9 L1503.0,902.7 L1504.0,901.9 L1505.0,901.4 L1506.0,902.0 L1507.0,901.7 L1508.0,900.7 L1509.0,900.2 L1510.0,900.5 L1511.0,900.4 L1512.0,899.4 L1513.0,900.1 L1514.0,899.1 L1515.0,899.5 L1516.0,898.7 L1517.0,899.0 L1518.0,898.8 L1519.0,901.4 L1520.0,899.8 L1521.0,899.3 L1522.0,899.9 L1523.0,902.7 L1524.0,900.3 L1525.0,901.6 L1526.0,900.2 L1527.0,901.9 L1528.0,900.6 L1529.0,901.2 L1530.0,901.5 L1531.0,901.0 L1532.0,900.1 L1533.0,900.5 L1534.0,900.7 L1535.0,900.8 L1536.0,898.9 L1537.0,900.9 L1538.0,901.0 L1539.0,899.9 L1540.0,900.7 L1541.0,899.4 L1542.0,900.0 L1543.0,899.2 L1544.0,898.6 L1545.0,899.4 L1546.0,898.6 L1547.0,898.6 L1548.0,897.2 L1549.0,896.9 L1550.0,897.0 L1551.0,896.4 L1552.0,896.4 L1553.0,895.9 L1554.0,895.7 L1555.0,895.2 L1556.0,895.9 L1557.0,895.1 L1558.0,894.5 L1559.0,895.0 L1560.0,894.7 L1561.0,894.4 L1562.0,894.2 L1563.0,893.8 L1564.0,893.8 L1565.0,892.9 L1566.0,893.1 L1567.0,893.2 L1568.0,893.9 L1569.0,894.3 L1570.0,893.8 L1571.0,893.8 L1572.0,894.5 L1573.0,893.9 L1574.0,894.4 L1575.0,894.4 L1576.0,893.8 L1577.0,894.5 L1578.0,894.5 L1579.0,894.0 L1580.0,894.1 L1581.0,894.0 L1582.0,894.9 L1583.0,896.6 L1584.0,894.3 L1585.0,894.4 L1586.0,893.0 L1587.0,893.9 L1588.0,893.9 L1589.0,893.5 L1590.0,892.3 L1591.0,893.1 L1592.0,892.6 L1593.0,891.3 L1594.0,892.7 L1595.0,893.3 L1596.0,893.4 L1597.0,894.3 L1598.0,894.6 L1599.0,895.6 L1600.0,895.9 L1601.0,896.2 L1602.0,896.4 L1603.0,896.6 L1604.0,896.9 L1605.0,897.3 L1606.0,897.0 L1607.0,897.1 L1608.0,896.9 L1609.0,896.9 L1610.0,896.5 L1611.0,896.0 L1612.0,896.9 L1613.0,896.8 L1614.0,896.1 L1615.0,897.2 L1616.0,895.8 L1617.0,896.6 L1618.0,896.2 L1619.0,896.1 L1620.0,896.3 L1621.0,896.1 L1622.0,895.6 L1623.0,894.9 L1624.0,894.7 L1625.0,895.1 L1626.0,895.5 L1627.0,895.1 L1628.0,894.6 L1629.0,894.7 L1630.0,894.8 L1631.0,895.3 L1632.0,894.3 L1633.0,895.1 L1634.0,895.2 L1635.0,895.0 L1636.0,895.1 L1637.0,896.4 L1638.0,896.2 L1639.0,896.3 L1640.0,896.6 L1641.0,897.2 L1642.0,897.0 L1643.0,897.7 L1644.0,896.9 L1645.0,896.7 L1646.0,897.0 L1647.0,896.6 L1648.0,896.9 L1649.0,897.5 L1650.0,897.7 L1651.0,897.3 L1652.0,897.1 L1653.0,896.6 L1654.0,896.6 L1655.0,897.2 L1656.0,897.1 L1657.0,896.8 L1658.0,896.8 L1659.0,897.7 L1660.0,897.4 L1661.0,897.0 L1662.0,897.1 L1663.0,897.5 L1664.0,897.2 L1665.0,897.1 L1666.0,896.5 L1667.0,896.7 L1668.0,896.9 L1669.0,897.1 L1670.0,898.5 L1671.0,897.4 L1672.0,899.0 L1673.0,900.2 L1674.0,901.0 L1675.0,901.9 L1676.0,902.6 L1677.0,905.0 L1678.0,906.1 L1679.0,906.2 L1680.0,907.8 L1681.0,907.2 L1682.0,906.8 L1683.0,906.9 L1684.0,906.1 L1685.0,906.6 L1686.0,905.9 L1687.0,904.9 L1688.0,906.2 L1689.0,905.2 L1690.0,905.7 L1691.0,904.4 L1692.0,904.8 L1693.0,904.5 L1694.0,903.8 L1695.0,902.8 L1696.0,902.6 L1697.0,901.9 L1698.0,901.3 L1699.0,901.2 L1700.0,900.6 L1701.0,899.6 L1702.0,898.5 L1703.0,898.2 L1704.0,898.3 L1705.0,898.3 L1706.0,897.2 L1707.0,897.7 L1708.0,898.6 L1709.0,897.2 L1710.0,897.4 L1711.0,897.3 L1712.0,897.8 L1713.0,897.6 L1714.0,897.5 L1715.0,897.1 L1716.0,898.2 L1717.0,898.2 L1718.0,898.3 L1719.0,899.0 L1720.0,899.7 L1721.0,899.1 L1722.0,899.3 L1723.0,901.2 L1724.0,899.9 L1725.0,899.0 L1726.0,899.8 L1727.0,900.3 L1728.0,899.5 L1729.0,899.7 L1730.0,897.6 L1731.0,898.3 L1732.0,898.4 L1733.0,898.0 L1734.0,896.6 L1735.0,895.9 L1736.0,895.8 L1737.0,894.6 L1738.0,894.5 L1739.0,893.5 L1740.0,893.7 L1741.0,893.3 L1742.0,893.7 L1743.0,892.8 L1744.0,892.1 L1745.0,892.0 L1746.0,891.2 L1747.0,891.4 L1748.0,891.0 L1749.0,891.0 L1750.0,890.9 L1751.0,889.4 L1752.0,888.0 L1753.0,890.0 L1754.0,888.9 L1755.0,890.0 L1756.0,888.6 L1757.0,889.7 L1758.0,888.8 L1759.0,888.7 L1760.0,888.2 L1761.0,888.3 L1762.0,887.3 L1763.0,887.2 L1764.0,886.5 L1765.0,887.3 L1766.0,886.6 L1767.0,889.3 L1768.0,886.8 L1769.0,885.9 L1770.0,886.6 L1771.0,886.3 L1772.0,886.2 L1773.0,886.3 L1774.0,886.1 L1775.0,886.1 L1776.0,884.1 L1777.0,885.7 L1778.0,885.7 L1779.0,885.9 L1780.0,886.7 L1781.0,886.2 L1782.0,887.2 L1783.0,885.2 L1784.0,886.3 L1785.0,886.4 L1786.0,886.8 L1787.0,885.2 L1788.0,886.8 L1789.0,886.5 L1790.0,887.4 L1791.0,887.8 L1792.0,886.2 L1793.0,887.7 L1794.0,887.7 L1795.0,887.3 L1796.0,887.6 L1797.0,888.1 L1798.0,888.1 L1799.0,888.2 L1800.0,888.0 L1801.0,888.8 L1802.0,888.5 L1803.0,889.0 L1804.0,888.9 L1805.0,889.5 L1806.0,889.9 L1807.0,890.0 L1808.0,890.5 L1809.0,889.9 L1810.0,891.1 L1811.0,891.4 L1812.0,891.4 L1813.0,891.9 L1814.0,891.2 L1815.0,892.7 L1816.0,892.9 L1817.0,892.4 L1818.0,893.8 L1819.0,893.6 L1820.0,894.1 L1821.0,894.0 L1822.0,894.3 L1823.0,894.1 L1824.0,894.0 L1825.0,894.2 L1826.0,894.3 L1827.0,892.9 L1828.0,893.8 L1829.0,893.4 L1830.0,893.1 L1831.0,894.0 L1832.0,893.7 L1833.0,892.8 L1834.0,892.6 L1835.0,893.3 L1836.0,892.6 L1837.0,892.5 L1838.0,891.7 L1839.0,892.2 L1840.0,892.5 L1841.0,891.7 L1842.0,891.6 L1843.0,892.1 L1844.0,891.5 L1845.0,891.5 L1846.0,891.0 L1847.0,891.0 L1848.0,889.6 L1849.0,889.7 L1850.0,889.2 L1851.0,890.6 L1852.0,889.5 L1853.0,889.2 L1854.0,888.8 L1855.0,888.5 L1856.0,887.6 L1857.0,889.5 L1858.0,888.3 L1859.0,888.2 L1860.0,887.4 L1861.0,887.8 L1862.0,887.8 L1863.0,887.4 L1864.0,887.5 L1865.0,886.8 L1866.0,887.1 L1867.0,887.2 L1868.0,887.0 L1869.0,886.8 L1870.0,886.5 L1871.0,886.1 L1872.0,886.7 L1873.0,886.2 L1874.0,886.0 L1875.0,886.7 L1876.0,885.6 L1877.0,884.6 L1878.0,886.6 L1879.0,886.6 L1880.0,886.0 L1881.0,886.2 L1882.0,886.4 L1883.0,886.1 L1884.0,885.8 L1885.0,886.3 L1886.0,886.2 L1887.0,886.1 L1888.0,886.5 L1889.0,886.2 L1890.0,885.9 L1891.0,886.1 L1892.0,886.9 L1893.0,885.8 L1894.0,886.1 L1895.0,888.2 L1896.0,886.6 L1897.0,886.0 L1898.0,886.9 L1899.0,887.2 L1900.0,886.8 L1901.0,885.6 L1902.0,886.9 L1903.0,887.7 L1904.0,887.4 L1905.0,887.8 L1906.0,888.1 L1907.0,888.2 L1908.0,889.0 L1909.0,889.5 L1910.0,888.2 L1911.0,888.9 L1912.0,889.6 L1913.0,889.3 L1914.0,889.7 L1915.0,890.3 L1916.0,891.0 L1917.0,891.2 L1918.0,890.8 L1919.0,892.9 L1920.0,891.3 L1921.0,891.7 L1922.0,889.3 L1923.0,891.6 L1924.0,892.5 L1925.0,893.4 L1926.0,893.7 L1927.0,892.9 L1928.0,894.0 L1929.0,894.2 L1930.0,894.9 L1931.0,894.7 L1932.0,896.0 L1933.0,896.0 L1934.0,896.7 L1935.0,897.3 L1936.0,896.6 L1937.0,897.8 L1938.0,899.0 L1939.0,898.9 L1940.0,899.9 L1941.0,900.4 L1942.0,900.8 L1943.0,899.9 L1944.0,903.2 L1945.0,904.1 L1946.0,904.9 L1947.0,904.3 L1948.0,905.5 L1949.0,904.7 L1950.0,905.3 L1951.0,905.3 L1952.0,905.7 L1953.0,905.6 L1954.0,906.0 L1955.0,905.2 L1956.0,905.8 L1957.0,905.7 L1958.0,905.5 L1959.0,905.1 L1960.0,905.9 L1961.0,905.8 L1962.0,906.2 L1963.0,906.0 L1964.0,906.1 L1965.0,906.6 L1966.0,906.9 L1967.0,907.2 L1968.0,908.0 L1969.0,907.2 L1970.0,908.6 L1971.0,906.7 L1972.0,908.6 L1973.0,908.0 L1974.0,909.3 L1975.0,908.1 L1976.0,908.9 L1977.0,908.1 L1978.0,907.9 L1979.0,908.6 L1980.0,908.5 L1981.0,907.7 L1982.0,908.8 L1983.0,907.5 L1984.0,908.0 L1985.0,906.8 L1986.0,906.5 L1987.0,906.6 L1988.0,905.6 L1989.0,905.7 L1990.0,904.0 L1991.0,904.5 L1992.0,903.7 L1993.0,903.2 L1994.0,903.5 L1995.0,903.2 L1996.0,903.1 L1997.0,903.7 L1998.0,903.5 L1999.0,903.5 L2000.0,903.9 L2001.0,903.4 L2002.0,903.8 L2003.0,905.3 L2004.0,903.8 L2005.0,903.9 L2006.0,903.5 L2007.0,903.2 L2008.0,903.5 L2009.0,903.8 L2010.0,904.6 L2011.0,904.5 L2012.0,904.7 L2013.0,905.3 L2014.0,905.7 L2015.0,906.2"/>
<path stroke="#ff00ff" d="M143.9,702.4 L144.9,700.3 L145.9,702.0 L146.9,702.5 L147.9,701.7 L148.9,702.1 L149.9,701.6 L150.9,701.1 L151.9,702.1 L152.9,701.6 L153.9,701.5 L154.9,702.4 L155.9,702.0 L156.9,702.3 L157.9,702.9 L158.9,702.2 L159.9,702.3 L160.9,701.5 L161.9,702.5 L162.9,702.5 L163.9,701.6 L164.9,702.4 L165.9,702.2 L166.9,702.0 L167.9,702.1 L168.9,703.2 L169.9,701.8 L170.9,701.9 L171.9,702.1 L172.9,702.0 L173.9,701.2 L174.9,702.4 L175.9,702.5 L176.9,702.9 L177.9,699.8 L178.9,701.5 L179.9,702.4 L180.9,701.6 L181.9,702.1 L182.9,701.9 L183.9,702.2 L184.9,701.9 L185.9,702.4 L186.9,701.7 L187.9,703.2 L188.9,702.5 L189.9,701.8 L190.9,701.7 L191.9,702.0 L192.9,701.9 L193.9,701.7 L194.9,702.8 L195.9,702.6 L196.9,701.6 L197.9,702.4 L198.9,702.1 L199.9,702.5 L200.9,701.8 L201.9,703.1 L202.9,702.1 L203.9,703.0 L204.9,701.9 L205.9,702.7 L206.9,702.1 L207.9,702.9 L208.9,702.0 L209.9,701.6 L210.9,701.6 L211.9,701.8 L212.9,704.7 L213.9,702.3 L214.9,702.1 L215.9,702.5 L216.9,702.7 L217.9,701.4 L218.9,702.2 L219.9,702.7 L220.9,701.1 L221.9,701.0 L222.9,701.2 L223.9,700.9 L224.9,700.4 L225.9,700.4 L226.9,700.9 L227.9,700.3 L228.9,699.3 L229.9,698.6 L230.9,698.6 L231.9,699.0 L232.9,698.3 L233.9,698.1 L234.9,698.6 L235.9,697.9 L236.9,697.6 L237.9,697.7 L238.9,698.1 L239.9,697.4 L240.9,697.3 L241.9,696.8 L242.9,697.2 L243.9,695.7 L244.9,695.5 L245.9,695.6 L246.9,696.5 L247.9,696.1 L248.9,694.6 L249.9,694.7 L250.9,695.0 L251.9,694.7 L252.9,695.0 L253.9,694.2 L254.9,693.6 L255.9,694.7 L256.9,695.0 L257.9,693.7 L258.9,693.7 L259.9,694.4 L260.9,693.9 L261.9,695.1 L262.9,694.5 L263.9,695.6 L264.9,695.3 L265.9,695.7 L266.9,696.1 L267.9,695.9 L268.9,695.7 L269.9,696.8 L270.9,695.9 L271.9,697.4 L272.9,696.6 L273.9,696.8 L274.9,697.3 L275.9,697.5 L276.9,697.6 L277.9,696.8 L278.9,697.2 L279.9,697.9 L280.9,698.0 L281.9,697.9 L282.9,698.6 L283.9,698.0 L284.9,698.6 L285.9,698.8 L286.9,698.6 L287.9,698.4 L288.9,700.7 L289.9,698.9 L290.9,699.1 L291.9,698.5 L292.9,699.2 L293.9,699.8 L294.9,699.0 L295.9,697.1 L296.9,699.2 L297.9,699.8 L298.9,698.5 L299.9,702.6 L300.9,699.9 L301.9,699.7 L302.9,700.0 L303.9,700.5 L304.9,700.3 L305.9,700.5 L306.9,700.9 L307.9,700.5 L308.9,700.9 L309.9,701.4 L310.9,701.0 L311.9,700.6 L312.9,701.4 L313.9,700.0 L314.9,703.2 L315.9,701.5 L316.9,701.6 L317.9,701.9 L318.9,701.4 L319.9,701.7 L320.9,702.8 L321.9,702.3 L322.9,701.8 L323.9,702.6 L324.9,702.4 L325.9,703.2 L326.9,704.0 L327.9,702.8 L328.9,703.3 L329.9,702.4 L330.9,703.0 L331.9,703.4 L332.9,703.5 L333.9,703.6 L334.9,703.9 L335.9,703.7 L336.9,704.1 L337.9,704.8 L338.9,704.5 L339.9,705.0 L340.9,705.2 L341.9,705.8 L342.9,706.0 L343.9,706.5 L344.9,707.1 L345.9,707.3 L346.9,707.4 L347.9,708.1 L348.9,709.0 L349.9,709.5 L350.9,709.7 L351.9,709.9 L352.9,710.6 L353.9,711.7 L354.9,712.0 L355.9,712.5 L356.9,712.3 L357.9,712.8 L358.9,713.4 L359.9,713.6 L360.9,714.3 L361.9,714.5 L362.9,715.2 L363.9,715.5 L364.9,715.8 L365.9,716.4 L366.9,716.8 L367.9,717.1 L368.9,717.4 L369.9,717.9 L370.9,717.8 L371.9,718.2 L372.9,718.9 L373.9,719.4 L374.9,720.2 L375.9,720.2 L376.9,720.3 L377.9,720.8 L378.9,721.0 L379.9,721.6 L380.9,722.0 L381.9,722.3 L382.9,722.7 L383.9,723.3 L384.9,723.5 L385.9,723.5 L386.9,724.3 L387.9,724.2 L388.9,724.9 L389.9,725.2 L390.9,725.9 L391.9,725.8 L392.9,726.2 L393.9,726.5 L394.9,727.0 L395.9,727.2 L396.9,727.5 L397.9,728.0 L398.9,728.6 L399.9,728.8 L400.9,729.1 L401.9,728.9 L402.9,729.3 L403.9,729.7 L404.9,729.5 L405.9,730.5 L406.9,730.2 L407.9,730.9 L408.9,730.8 L409.9,731.4 L410.9,731.9 L411.9,732.1 L412.9,732.1 L413.9,732.5 L414.9,733.1 L415.9,733.2 L416.9,733.5 L417.9,736.1 L418.9,733.4 L419.9,734.2 L420.9,734.6 L421.9,734.8 L422.9,734.7 L423.9,734.5 L424.9,734.9 L425.9,735.1 L426.9,734.5 L427.9,734.5 L428.9,734.6 L429.9,734.6 L430.9,734.2 L431.9,734.2 L432.9,734.4 L433.9,734.5 L434.9,734.8 L435.9,734.6 L436.9,734.7 L437.9,735.0 L438.9,735.3 L439.9,734.9 L440.9,734.5 L441.9,734.9 L442.9,734.7 L443.9,734.8 L444.9,734.9 L445.9,734.8 L446.9,734.4 L447.9,734.4 L448.9,734.7 L449.9,734.8 L450.9,735.1 L451.9,734.8 L452.9,734.6 L453.9,734.5 L454.9,734.3 L455.9,733.9 L456.9,733.6 L457.9,733.5 L458.9,733.3 L459.9,732.7 L460.9,732.4 L461.9,731.9 L462.9,731.5 L463.9,731.0 L464.9,730.7 L465.9,730.2 L466.9,729.2 L467.9,729.4 L468.9,727.6 L469.9,728.5 L470.9,728.3 L471.9,727.7 L472.9,727.5 L473.9,729.2 L474.9,728.5 L475.9,726.4 L476.9,725.6 L477.9,725.4 L478.9,725.3 L479.9,724.8 L480.9,724.4 L481.9,723.7 L482.9,723.4 L483.9,723.2 L484.9,722.8 L485.9,722.4 L486.9,721.8 L487.9,721.5 L488.9,721.1 L489.9,720.6 L490.9,720.2 L491.9,719.9 L492.9,719.4 L493.9,719.5 L494.9,719.2 L495.9,718.9 L496.9,718.2 L497.9,717.8 L498.9,717.7 L499.9,717.2 L500.9,716.8 L501.9,716.5 L502.9,715.9 L503.9,716.1 L504.9,715.2 L505.9,714.9 L506.9,715.0 L507.9,714.3 L508.9,714.5 L509.9,714.0 L510.9,713.7 L511.9,713.2 L513.0,712.7 L514.0,712.5 L515.0,712.5 L516.0,712.2 L517.0,711.7 L518.0,711.5 L519.0,711.3 L520.0,711.2 L521.0,711.1 L522.0,710.9 L523.0,710.5 L524.0,710.6 L525.0,710.3 L526.0,710.2 L527.0,709.5 L528.0,709.6 L529.0,709.5 L530.0,708.7 L531.0,709.1 L532.0,708.8 L533.0,708.7 L534.0,708.3 L535.0,708.3 L536.0,707.8 L537.0,707.6 L538.0,707.6 L539.0,707.4 L540.0,706.8 L541.0,707.1 L542.0,706.9 L543.0,706.7 L544.0,706.1 L545.0,706.3 L546.0,705.8 L547.0,705.7 L548.0,705.2 L549.0,704.8 L550.0,704.5 L551.0,704.2 L552.0,704.2 L553.0,703.6 L554.0,703.4 L555.0,703.3 L556.0,702.9 L557.0,702.4 L558.0,702.5 L559.0,702.4 L560.0,702.6 L561.0,702.3 L562.0,701.9 L563.0,701.9 L564.0,702.0 L565.0,702.2 L566.0,701.9 L567.0,702.2 L568.0,701.8 L569.0,700.3 L570.0,702.4 L571.0,701.6 L572.0,702.1 L573.0,700.7 L574.0,702.2 L575.0,702.1 L576.0,702.1 L577.0,702.2 L578.0,702.1 L579.0,702.1 L580.0,702.4 L581.0,702.3 L582.0,702.3 L583.0,702.0 L584.0,702.0 L585.0,702.3 L586.0,701.9 L587.0,702.3 L588.0,701.8 L589.0,702.6 L590.0,702.4 L591.0,702.0 L592.0,702.0 L593.0,701.7 L594.0,702.1 L595.0,702.4 L596.0,702.2 L597.0,702.1 L598.0,702.5 L599.0,702.2 L600.0,702.2 L601.0,702.1 L602.0,702.4 L603.0,703.0 L604.0,702.8 L605.0,702.6 L606.0,703.2 L607.0,703.8 L608.0,703.9 L609.0,703.6 L610.0,703.9 L611.0,703.5 L612.0,703.8 L613.0,703.4 L614.0,703.3 L615.0,703.2 L616.0,702.9 L617.0,703.3 L618.0,703.0 L619.0,702.5 L620.0,702.4 L621.0,702.6 L622.0,702.1 L623.0,702.0 L624.0,701.9 L625.0,702.4 L626.0,702.1 L627.0,702.1 L628.0,702.0 L629.0,701.9 L630.0,702.3 L631.0,701.9 L632.0,702.0 L633.0,701.8 L634.0,701.9 L635.0,702.0 L636.0,702.0 L637.0,701.8 L638.0,702.0 L639.0,702.1 L640.0,701.6 L641.0,702.2 L642.0,702.1 L643.0,701.8 L644.0,702.1 L645.0,702.2 L646.0,702.1 L647.0,702.1 L648.0,702.1 L649.0,702.2 L650.0,701.8 L651.0,702.0 L652.0,702.2 L653.0,702.1 L654.0,701.9 L655.0,702.0 L656.0,702.0 L657.0,702.1 L658.0,701.8 L659.0,701.8 L660.0,701.8 L661.0,702.1 L662.0,702.6 L663.0,702.3 L664.0,702.4 L665.0,702.1 L666.0,702.4 L667.0,702.2 L668.0,702.1 L669.0,702.3 L670.0,701.9 L671.0,701.6 L672.0,701.9 L673.0,702.4 L674.0,702.3 L675.0,702.1 L676.0,702.1 L677.0,702.1 L678.0,702.2 L679.0,701.9 L680.0,702.3 L681.0,701.9 L682.0,702.4 L683.0,702.0 L684.0,701.9 L685.0,702.1 L686.0,701.9 L687.0,702.1 L688.0,701.8 L689.0,702.2 L690.0,702.4 L691.0,702.5 L692.0,702.4 L693.0,702.9 L694.0,702.4 L695.0,702.8 L696.0,702.9 L697.0,703.2 L698.0,703.3 L699.0,703.8 L700.0,703.7 L701.0,703.7 L702.0,704.6 L703.0,704.3 L704.0,704.5 L705.0,705.0 L706.0,704.9 L707.0,705.3 L708.0,705.9 L709.0,706.2 L710.0,707.5 L711.0,709.1 L712.0,710.8 L713.0,712.0 L714.0,713.5 L715.0,715.1 L716.0,715.7 L717.0,716.7 L718.0,717.0 L719.0,716.6 L720.0,715.7 L721.0,715.0 L722.0,713.8 L723.0,712.2 L724.0,710.7 L725.0,708.4 L726.0,707.6 L727.0,707.0 L728.0,706.1 L729.0,705.7 L730.0,705.7 L731.0,705.4 L732.0,705.2 L733.0,704.8 L734.0,704.9 L735.0,704.5 L736.0,704.3 L737.0,704.0 L738.0,704.1 L739.0,703.7 L740.0,704.0 L741.0,704.0 L742.0,704.1 L743.0,703.8 L744.0,704.5 L745.0,704.9 L746.0,705.5 L747.0,705.6 L748.0,706.3 L749.0,707.1 L750.0,708.0 L751.0,708.1 L752.0,708.9 L753.0,709.2 L754.0,712.0 L755.0,709.8 L756.0,709.5 L757.0,709.6 L758.0,709.1 L759.0,708.3 L760.0,707.1 L761.0,705.7 L762.0,704.4 L763.0,703.8 L764.0,703.2 L765.0,703.3 L766.0,703.2 L767.0,702.6 L768.0,702.4 L769.0,702.7 L770.0,702.8 L771.0,702.5 L772.0,702.6 L773.0,702.9 L774.0,702.8 L775.0,702.2 L776.0,702.7 L777.0,702.6 L778.0,702.5 L779.0,702.6 L780.0,701.2 L781.0,703.0 L782.0,702.5 L783.0,702.3 L784.0,702.3 L785.0,702.5 L786.0,702.7 L787.0,702.3 L788.0,702.2 L789.0,702.0 L790.0,701.6 L791.0,701.3 L792.0,700.7 L793.0,700.8 L794.0,700.6 L795.0,700.5 L796.0,700.2 L797.0,700.4 L798.0,700.3 L799.0,700.5 L800.0,700.4 L801.0,700.5 L802.0,700.6 L803.0,700.7 L804.0,700.2 L805.0,700.4 L806.0,700.2 L807.0,700.7 L808.0,700.3 L809.0,700.7 L810.0,700.3 L811.0,700.6 L812.0,700.3 L813.0,700.4 L814.0,700.5 L815.0,700.4 L816.0,700.4 L817.0,700.6 L818.0,700.7 L819.0,700.6 L820.0,700.3 L821.0,700.0 L822.0,700.5 L823.0,699.8 L824.0,700.6 L825.0,700.6 L826.0,699.9 L827.0,699.9 L828.0,700.0 L829.0,701.3 L830.0,701.8 L831.0,701.9 L832.0,702.0 L833.0,702.2 L834.0,699.6 L835.0,702.6 L836.0,702.0 L837.0,702.5 L838.0,702.0 L839.0,702.0 L840.0,699.7 L841.0,701.9 L842.0,702.2 L843.0,703.7 L844.0,702.1 L845.0,701.9 L846.0,702.2 L847.0,701.9 L848.0,701.5 L849.0,702.1 L850.0,701.7 L851.0,702.0 L852.0,702.1 L853.0,702.0 L854.0,702.1 L855.0,702.4 L856.0,702.3 L857.0,702.4 L858.0,702.2 L859.0,702.2 L860.0,702.5 L861.0,702.0 L862.0,702.2 L863.0,702.1 L864.0,702.2 L865.0,702.5 L866.0,703.1 L867.0,703.9 L868.0,703.6 L869.0,703.9 L870.0,703.6 L871.0,704.0 L872.0,704.0 L873.0,703.7 L874.0,703.6 L875.0,703.7 L876.0,703.8 L877.0,703.4 L878.0,703.5 L879.0,703.8 L880.0,703.6 L881.0,703.3 L882.0,703.1 L883.0,701.8 L884.0,703.1 L885.0,703.4 L886.0,703.3 L887.0,703.7 L888.0,702.9 L889.0,703.3 L890.0,702.6 L891.0,701.8 L892.0,701.3 L893.0,700.9 L894.0,701.5 L895.0,701.1 L896.0,700.9 L897.0,701.6 L898.0,700.9 L899.0,701.0 L900.0,702.9 L901.0,700.9 L902.0,701.2 L903.0,701.3 L904.0,700.8 L905.0,701.0 L906.0,701.0 L907.0,700.8 L908.0,700.8 L909.0,701.0 L910.0,700.9 L911.0,701.2 L912.0,701.3 L913.0,701.1 L914.0,701.2 L915.0,700.9 L916.0,701.0 L917.0,701.5 L918.0,702.3 L919.0,702.9 L920.0,703.3 L921.0,703.2 L922.0,703.0 L923.0,703.4 L924.0,703.3 L925.0,703.0 L926.0,703.6 L927.0,703.5 L928.0,703.6 L929.0,703.3 L930.0,703.8 L931.0,703.6 L932.0,703.7 L933.0,703.4 L934.0,703.5 L935.0,703.9 L936.0,703.6 L937.0,703.7 L938.0,704.1 L939.0,704.4 L940.0,704.9 L941.0,705.8 L942.0,705.2 L943.0,705.6 L944.0,705.5 L945.0,706.0 L946.0,706.0 L947.0,705.6 L948.0,703.9 L949.0,706.0 L950.0,705.9 L951.0,705.9 L952.0,706.0 L953.0,706.2 L954.0,705.9 L955.0,705.6 L956.0,705.9 L957.0,705.9 L958.0,705.9 L959.0,706.1 L960.0,706.2 L961.0,706.3 L962.0,706.3 L963.0,706.5 L964.0,706.5 L965.0,707.0 L966.0,707.2 L967.0,707.7 L968.0,707.8 L969.0,707.7 L970.0,707.5 L971.0,706.9 L972.0,706.7 L973.0,706.2 L974.0,705.4 L975.0,705.7 L976.0,705.3 L977.0,705.2 L978.0,705.2 L979.0,704.9 L980.0,705.2 L981.0,705.4 L982.0,704.8 L983.0,705.2 L984.0,705.2 L985.0,705.2 L986.0,705.1 L987.0,705.1 L988.0,704.9 L989.0,705.2 L990.0,705.0 L991.0,705.1 L992.0,705.0 L993.0,704.8 L994.0,704.9 L995.0,705.0 L996.0,705.0 L997.0,704.4 L998.0,704.5 L999.0,704.3 L1000.0,704.5 L1001.0,704.4 L1002.0,704.5 L1003.0,704.0 L1004.0,703.8 L1005.0,703.0 L1006.0,702.9 L1007.0,702.8 L1008.0,702.9 L1009.0,702.9 L1010.0,702.8 L1011.0,702.6 L1012.0,702.5 L1013.0,702.8 L1014.0,702.7 L1015.0,702.6 L1016.0,702.7 L1017.0,702.8 L1018.0,703.2 L1019.0,703.1 L1020.0,702.5 L1021.0,702.6 L1022.0,702.2 L1023.0,702.2 L1024.0,702.1 L1025.0,702.6 L1026.0,702.2 L1027.0,701.4 L1028.0,701.1 L1029.0,701.0 L1030.0,700.9 L1031.0,701.3 L1032.0,700.5 L1033.0,700.8 L1034.0,700.9 L1035.0,701.0 L1036.0,700.4 L1037.0,700.9 L1038.0,700.5 L1039.0,700.7 L1040.0,700.4 L1041.0,700.9 L1042.0,701.4 L1043.0,701.0 L1044.0,700.7 L1045.0,700.4 L1046.0,700.9 L1047.0,701.0 L1048.0,700.5 L1049.0,700.9 L1050.0,700.3 L1051.0,700.4 L1052.0,700.7 L1053.0,700.4 L1054.0,700.8 L1055.0,700.9 L1056.0,700.6 L1057.0,700.6 L1058.0,700.8 L1059.0,700.5 L1060.0,700.4 L1061.0,700.0 L1062.0,699.0 L1063.0,699.3 L1064.0,699.0 L1065.0,698.9 L1066.0,699.3 L1067.0,699.5 L1068.0,699.9 L1069.0,700.1 L1070.0,700.6 L1071.0,700.9 L1072.0,701.3 L1073.0,701.2 L1074.0,701.2 L1075.0,701.1 L1076.0,701.4 L1077.0,700.6 L1078.0,700.9 L1079.0,701.3 L1080.0,701.0 L1081.0,701.2 L1082.0,701.4 L1083.0,701.3 L1084.0,700.8 L1085.0,701.1 L1086.0,700.9 L1087.0,701.2 L1088.0,701.3 L1089.0,701.1 L1090.0,701.2 L1091.0,701.1 L1092.0,701.5 L1093.0,701.1 L1094.0,701.1 L1095.0,701.2 L1096.0,703.0 L1097.0,701.2 L1098.0,701.1 L1099.0,701.1 L1100.0,701.2 L1101.0,701.2 L1102.0,701.0 L1103.0,701.0 L1104.0,701.1 L1105.0,701.2 L1106.0,701.0 L1107.0,700.9 L1108.0,701.0 L1109.0,701.0 L1110.0,701.2 L1111.0,701.0 L1112.0,701.0 L1113.0,701.5 L1114.0,701.2 L1115.0,700.9 L1116.0,701.3 L1117.0,701.0 L1118.0,700.9 L1119.0,701.2 L1120.0,700.8 L1121.0,701.1 L1122.0,701.2 L1123.0,701.3 L1124.0,701.0 L1125.0,701.0 L1126.0,701.1 L1127.0,701.4 L1128.0,700.7 L1129.0,701.3 L1130.0,701.2 L1131.0,701.4 L1132.0,700.9 L1133.0,701.3 L1134.0,700.9 L1135.0,701.2 L1136.0,701.0 L1137.0,700.6 L1138.0,701.1 L1139.0,701.2 L1140.0,701.3 L1141.0,701.0 L1142.0,700.9 L1143.0,701.2 L1144.0,701.0 L1145.0,701.3 L1146.0,701.4 L1147.0,701.1 L1148.0,701.1 L1149.0,701.0 L1150.0,700.7 L1151.0,701.1 L1152.0,701.3 L1153.0,701.3 L1154.0,701.1 L1155.0,701.5 L1156.0,701.0 L1157.0,701.1 L1158.0,701.0 L1159.0,701.0 L1160.0,701.0 L1161.0,701.0 L1162.0,701.0 L1163.0,701.2 L1164.0,703.3 L1165.0,700.9 L1166.0,701.2 L1167.0,700.9 L1168.0,701.2 L1169.0,701.1 L1170.0,700.7 L1171.0,700.9 L1172.0,701.3 L1173.0,701.0 L1174.0,701.0 L1175.0,701.0 L1176.0,701.1 L1177.0,701.2 L1178.0,701.0 L1179.0,701.5 L1180.0,701.0 L1181.0,701.0 L1182.0,701.1 L1183.0,701.1 L1184.0,701.4 L1185.0,701.6 L1186.0,701.0 L1187.0,701.1 L1188.0,701.2 L1189.0,701.1 L1190.0,701.3 L1191.0,700.9 L1192.0,701.3 L1193.0,700.7 L1194.0,701.2 L1195.0,701.2 L1196.0,701.6 L1197.0,700.9 L1198.0,701.1 L1199.0,700.8 L1200.0,700.2 L1201.0,700.2 L1202.0,699.7 L1203.0,699.5 L1204.0,699.4 L1205.0,699.7 L1206.0,699.5 L1207.0,699.3 L1208.0,699.8 L1209.0,699.4 L1210.0,699.9 L1211.0,699.8 L1212.0,701.2 L1213.0,699.4 L1214.0,699.5 L1215.0,699.4 L1216.0,699.6 L1217.0,699.6 L1218.0,700.2 L1219.0,699.2 L1220.0,699.5 L1221.0,699.8 L1222.0,699.9 L1223.0,699.9 L1224.0,699.4 L1225.0,699.8 L1226.0,699.0 L1227.0,699.6 L1228.0,699.8 L1229.0,699.8 L1230.0,699.3 L1231.0,699.4 L1232.0,699.1 L1233.0,699.4 L1234.0,699.3 L1235.0,699.6 L1236.0,699.4 L1237.0,699.7 L1238.0,699.6 L1239.0,699.5 L1240.0,699.9 L1241.0,699.8 L1242.0,699.3 L1243.0,699.8 L1244.0,699.7 L1245.0,699.8 L1246.0,699.6 L1247.0,699.2 L1248.0,699.5 L1249.0,699.0 L1250.0,699.2 L1251.0,699.4 L1252.0,699.8 L1253.0,699.5 L1254.0,699.6 L1255.0,699.7 L1256.0,699.3 L1257.0,699.8 L1258.0,699.6 L1259.0,699.3 L1260.0,699.4 L1261.0,699.5 L1262.0,699.6 L1263.0,699.8 L1264.0,699.4 L1265.0,699.5 L1266.0,699.9 L1267.0,700.2 L1268.0,699.9 L1269.0,699.5 L1270.0,699.4 L1271.0,699.7 L1272.0,699.6 L1273.0,699.3 L1274.0,699.8 L1275.0,700.0 L1276.0,699.3 L1277.0,699.3 L1278.0,699.4 L1279.0,699.2 L1280.0,699.7 L1281.0,699.2 L1282.0,699.6 L1283.0,699.6 L1284.0,699.7 L1285.0,699.2 L1286.0,699.5 L1287.0,699.6 L1288.0,699.7 L1289.0,699.6 L1290.0,699.4 L1291.0,699.7 L1292.0,699.8 L1293.0,699.8 L1294.0,699.3 L1295.0,699.6 L1296.0,699.3 L1297.0,699.5 L1298.0,699.7 L1299.0,699.2 L1300.0,700.1 L1301.0,699.8 L1302.0,699.3 L1303.0,699.4 L1304.0,699.5 L1305.0,699.5 L1306.0,699.2 L1307.0,699.5 L1308.0,699.2 L1309.0,699.4 L1310.0,699.9 L1311.0,699.5 L1312.0,699.4 L1313.0,699.8 L1314.0,699.6 L1315.0,699.6 L1316.0,699.4 L1317.0,699.7 L1318.0,699.4 L1319.0,699.7 L1320.0,699.6 L1321.0,699.9 L1322.0,699.7 L1323.0,699.5 L1324.0,699.3 L1325.0,699.4 L1326.0,699.3 L1327.0,699.8 L1328.0,699.4 L1329.0,699.0 L1330.0,699.6 L1331.0,699.9 L1332.0,699.1 L1333.0,699.8 L1334.0,698.9 L1335.0,699.6 L1336.0,699.4 L1337.0,699.6 L1338.0,699.7 L1339.0,699.2 L1340.0,699.9 L1341.0,699.5 L1342.0,700.6 L1343.0,702.5 L1344.0,702.7 L1345.0,704.2 L1346.0,705.4 L1347.0,705.2 L1348.0,704.0 L1349.0,703.6 L1350.0,703.7 L1351.0,702.6 L1352.0,702.5 L1353.0,701.4 L1354.0,702.0 L1355.0,700.8 L1356.0,703.6 L1357.0,701.5 L1358.0,700.7 L1359.0,700.2 L1360.0,700.2 L1361.0,699.7 L1362.0,701.3 L1363.0,699.4 L1364.0,699.5 L1365.0,700.1 L1366.0,699.7 L1367.0,700.0 L1368.0,699.9 L1369.0,699.3 L1370.0,698.9 L1371.0,698.7 L1372.0,698.9 L1373.0,699.8 L1374.0,700.2 L1375.0,700.8 L1376.0,700.5 L1377.0,701.7 L1378.0,702.5 L1379.0,701.5 L1380.0,703.8 L1381.0,705.2 L1382.0,705.9 L1383.0,706.7 L1384.0,706.1 L1385.0,706.8 L1386.0,707.3 L1387.0,707.7 L1388.0,707.8 L1389.0,709.1 L1390.0,708.3 L1391.0,709.5 L1392.0,709.5 L1393.0,711.3 L1394.0,711.3 L1395.0,712.4 L1396.0,713.9 L1397.0,714.3 L1398.0,715.7 L1399.0,715.9 L1400.0,717.1 L1401.0,715.6 L1402.0,715.8 L1403.0,716.5 L1404.0,716.2 L1405.0,716.4 L1406.0,716.0 L1407.0,716.6 L1408.0,716.3 L1409.0,716.6 L1410.0,715.0 L1411.0,715.4 L1412.0,714.6 L1413.0,712.8 L1414.0,713.0 L1415.0,713.2 L1416.0,711.5 L1417.0,711.9 L1418.0,711.2 L1419.0,709.6 L1420.0,710.2 L1421.0,708.6 L1422.0,707.1 L1423.0,707.9 L1424.0,708.1 L1425.0,707.6 L1426.0,706.5 L1427.0,706.0 L1428.0,706.7 L1429.0,705.9 L1430.0,706.3 L1431.0,705.5 L1432.0,706.4 L1433.0,704.9 L1434.0,705.3 L1435.0,704.3 L1436.0,703.8 L1437.0,703.7 L1438.0,702.8 L1439.0,702.6 L1440.0,703.4 L1441.0,702.3 L1442.0,701.6 L1443.0,702.3 L1444.0,701.5 L1445.0,701.9 L1446.0,702.3 L1447.0,702.5 L1448.0,702.9 L1449.0,702.9 L1450.0,703.0 L1451.0,703.3 L1452.0,703.5 L1453.0,703.7 L1454.0,703.1 L1455.0,704.3 L1456.0,705.4 L1457.0,704.6 L1458.0,705.2 L1459.0,701.8 L1460.0,704.5 L1461.0,704.0 L1462.0,704.8 L1463.0,704.5 L1464.0,701.8 L1465.0,704.8 L1466.0,703.4 L1467.0,702.8 L1468.0,702.5 L1469.0,702.6 L1470.0,701.3 L1471.0,702.4 L1472.0,701.5 L1473.0,699.6 L1474.0,698.5 L1475.0,700.4 L1476.0,701.3 L1477.0,700.0 L1478.0,699.2 L1479.0,700.6 L1480.0,700.1 L1481.0,699.9 L1482.0,700.4 L1483.0,699.8 L1484.0,699.9 L1485.0,700.5 L1486.0,700.3 L1487.0,700.5 L1488.0,700.0 L1489.0,701.0 L1490.0,697.5 L1491.0,699.6 L1492.0,700.6 L1493.0,700.3 L1494.0,700.9 L1495.0,701.3 L1496.0,701.7 L1497.0,701.8 L1498.0,702.9 L1499.0,703.8 L1500.0,703.2 L1501.0,704.6 L1502.0,704.5 L1503.0,703.1 L1504.0,703.6 L1505.0,702.2 L1506.0,702.1 L1507.0,701.2 L1508.0,700.9 L1509.0,699.9 L1510.0,700.4 L1511.0,699.8 L1512.0,699.9 L1513.0,699.6 L1514.0,700.7 L1515.0,701.9 L1516.0,701.1 L1517.0,701.6 L1518.0,701.4 L1519.0,702.0 L1520.0,702.1 L1521.0,704.3 L1522.0,702.4 L1523.0,702.6 L1524.0,703.0 L1525.0,702.6 L1526.0,702.9 L1527.0,703.4 L1528.0,703.2 L1529.0,702.6 L1530.0,701.9 L1531.0,702.6 L1532.0,702.7 L1533.0,703.1 L1534.0,702.7 L1535.0,703.9 L1536.0,702.4 L1537.0,702.8 L1538.0,702.0 L1539.0,701.9 L1540.0,702.2 L1541.0,702.4 L1542.0,702.5 L1543.0,700.5 L1544.0,702.2 L1545.0,702.0 L1546.0,701.5 L1547.0,700.8 L1548.0,700.1 L1549.0,700.2 L1550.0,700.5 L1551.0,699.5 L1552.0,700.3 L1553.0,700.2 L1554.0,699.9 L1555.0,700.9 L1556.0,699.7 L1557.0,699.6 L1558.0,700.1 L1559.0,699.9 L1560.0,700.8 L1561.0,699.5 L1562.0,699.7 L1563.0,700.4 L1564.0,700.6 L1565.0,699.7 L1566.0,700.7 L1567.0,698.6 L1568.0,699.4 L1569.0,698.0 L1570.0,697.8 L1571.0,697.4 L1572.0,698.2 L1573.0,698.3 L1574.0,699.1 L1575.0,700.2 L1576.0,699.5 L1577.0,699.2 L1578.0,699.7 L1579.0,699.0 L1580.0,699.3 L1581.0,699.4 L1582.0,700.0 L1583.0,699.5 L1584.0,699.9 L1585.0,700.2 L1586.0,702.4 L1587.0,698.9 L1588.0,699.7 L1589.0,699.2 L1590.0,700.0 L1591.0,699.9 L1592.0,699.8 L1593.0,699.6 L1594.0,699.4 L1595.0,699.1 L1596.0,700.4 L1597.0,698.6 L1598.0,698.9 L1599.0,701.6 L1600.0,701.8 L1601.0,700.0 L1602.0,701.4 L1603.0,701.7 L1604.0,700.7 L1605.0,701.3 L1606.0,701.1 L1607.0,701.1 L1608.0,702.0 L1609.0,701.5 L1610.0,701.5 L1611.0,701.5 L1612.0,701.3 L1613.0,701.3 L1614.0,701.1 L1615.0,701.2 L1616.0,701.2 L1617.0,701.4 L1618.0,700.6 L1619.0,701.5 L1620.0,701.4 L1621.0,701.6 L1622.0,700.9 L1623.0,701.0 L1624.0,701.8 L1625.0,701.1 L1626.0,701.7 L1627.0,699.4 L1628.0,700.0 L1629.0,699.2 L1630.0,699.2 L1631.0,699.3 L1632.0,698.9 L1633.0,700.2 L1634.0,699.5 L1635.0,699.1 L1636.0,700.2 L1637.0,699.9 L1638.0,699.2 L1639.0,699.0 L1640.0,699.4 L1641.0,699.9 L1642.0,698.9 L1643.0,700.1 L1644.0,699.3 L1645.0,699.9 L1646.0,699.5 L1647.0,699.7 L1648.0,699.8 L1649.0,700.1 L1650.0,699.2 L1651.0,700.4 L1652.0,698.9 L1653.0,699.7 L1654.0,699.8 L1655.0,699.5 L1656.0,699.9 L1657.0,698.8 L1658.0,697.6 L1659.0,700.0 L1660.0,699.5 L1661.0,699.0 L1662.0,699.6 L1663.0,699.6 L1664.0,699.1 L1665.0,700.1 L1666.0,699.3 L1667.0,699.0 L1668.0,699.6 L1669.0,699.2 L1670.0,699.4 L1671.0,699.6 L1672.0,699.3 L1673.0,699.8 L1674.0,699.7 L1675.0,700.1 L1676.0,699.1 L1677.0,699.6 L1678.0,699.6 L1679.0,699.7 L1680.0,698.6 L1681.0,699.3 L1682.0,700.4 L1683.0,701.0 L1684.0,700.9 L1685.0,701.0 L1686.0,701.4 L1687.0,700.7 L1688.0,700.5 L1689.0,701.6 L1690.0,701.2 L1691.0,700.8 L1692.0,700.5 L1693.0,701.6 L1694.0,700.7 L1695.0,700.5 L1696.0,701.5 L1697.0,700.2 L1698.0,700.8 L1699.0,701.2 L1700.0,700.7 L1701.0,701.5 L1702.0,702.4 L1703.0,702.1 L1704.0,702.9 L1705.0,703.6 L1706.0,703.1 L1707.0,704.5 L1708.0,704.0 L1709.0,704.3 L1710.0,704.3 L1711.0,704.9 L1712.0,704.6 L1713.0,705.1 L1714.0,705.8 L1715.0,705.9 L1716.0,704.8 L1717.0,706.3 L1718.0,705.7 L1719.0,706.2 L1720.0,706.3 L1721.0,706.5 L1722.0,706.3 L1723.0,706.9 L1724.0,707.3 L1725.0,706.7 L1726.0,707.0 L1727.0,707.5 L1728.0,709.6 L1729.0,707.3 L1730.0,707.3 L1731.0,707.4 L1732.0,707.0 L1733.0,707.2 L1734.0,706.8 L1735.0,706.7 L1736.0,705.6 L1737.0,705.7 L1738.0,706.6 L1739.0,706.7 L1740.0,706.4 L1741.0,706.1 L1742.0,705.9 L1743.0,706.2 L1744.0,705.7 L1745.0,705.8 L1746.0,706.4 L1747.0,705.0 L1748.0,705.3 L1749.0,705.3 L1750.0,704.5 L1751.0,704.8 L1752.0,705.7 L1753.0,705.4 L1754.0,705.1 L1755.0,705.7 L1756.0,704.5 L1757.0,705.8 L1758.0,704.8 L1759.0,704.5 L1760.0,705.2 L1761.0,704.9 L1762.0,704.7 L1763.0,706.8 L1764.0,703.7 L1765.0,705.6 L1766.0,704.4 L1767.0,704.8 L1768.0,703.9 L1769.0,704.3 L1770.0,703.5 L1771.0,703.5 L1772.0,704.1 L1773.0,704.4 L1774.0,704.3 L1775.0,704.5 L1776.0,703.5 L1777.0,703.8 L1778.0,704.2 L1779.0,703.3 L1780.0,703.6 L1781.0,703.7 L1782.0,703.6 L1783.0,704.0 L1784.0,703.7 L1785.0,703.3 L1786.0,702.4 L1787.0,703.7 L1788.0,703.8 L1789.0,703.5 L1790.0,703.4 L1791.0,703.4 L1792.0,703.7 L1793.0,702.8 L1794.0,703.0 L1795.0,702.5 L1796.0,702.8 L1797.0,702.4 L1798.0,702.4 L1799.0,701.8 L1800.0,702.6 L1801.0,703.0 L1802.0,701.1 L1803.0,703.0 L1804.0,704.7 L1805.0,702.1 L1806.0,702.5 L1807.0,702.2 L1808.0,702.2 L1809.0,702.9 L1810.0,702.3 L1811.0,702.3 L1812.0,702.0 L1813.0,702.1 L1814.0,701.7 L1815.0,702.0 L1816.0,701.7 L1817.0,702.6 L1818.0,701.9 L1819.0,702.4 L1820.0,702.6 L1821.0,702.5 L1822.0,701.7 L1823.0,702.7 L1824.0,701.1 L1825.0,702.6 L1826.0,700.8 L1827.0,701.5 L1828.0,701.9 L1829.0,701.6 L1830.0,700.9 L1831.0,701.2 L1832.0,702.0 L1833.0,701.1 L1834.0,702.1 L1835.0,702.4 L1836.0,702.5 L1837.0,700.6 L1838.0,701.8 L1839.0,701.6 L1840.0,703.1 L1841.0,702.4 L1842.0,702.1 L1843.0,702.0 L1844.0,702.3 L1845.0,700.9 L1846.0,702.2 L1847.0,701.6 L1848.0,700.8 L1849.0,700.8 L1850.0,701.5 L1851.0,702.1 L1852.0,701.6 L1853.0,701.8 L1854.0,702.8 L1855.0,702.3 L1856.0,702.3 L1857.0,701.5 L1858.0,702.7 L1859.0,702.0 L1860.0,702.6 L1861.0,701.9 L1862.0,702.6 L1863.0,702.8 L1864.0,701.9 L1865.0,702.7 L1866.0,704.5 L1867.0,703.3 L1868.0,702.9 L1869.0,702.8 L1870.0,704.2 L1871.0,703.1 L1872.0,702.6 L1873.0,701.0 L1874.0,702.9 L1875.0,703.4 L1876.0,702.3 L1877.0,703.7 L1878.0,702.5 L1879.0,702.6 L1880.0,702.4 L1881.0,702.6 L1882.0,703.6 L1883.0,700.7 L1884.0,702.3 L1885.0,702.7 L1886.0,702.9 L1887.0,703.2 L1888.0,702.6 L1889.0,702.9 L1890.0,701.9 L1891.0,702.7 L1892.0,702.8 L1893.0,702.2 L1894.0,703.2 L1895.0,702.5 L1896.0,703.5 L1897.0,703.1 L1898.0,702.9 L1899.0,702.2 L1900.0,702.2 L1901.0,702.1 L1902.0,702.3 L1903.0,702.0 L1904.0,701.8 L1905.0,702.1 L1906.0,703.3 L1907.0,701.7 L1908.0,702.3 L1909.0,703.7 L1910.0,701.6 L1911.0,704.9 L1912.0,702.0 L1913.0,702.3 L1914.0,702.6 L1915.0,701.1 L1916.0,701.9 L1917.0,702.1 L1918.0,702.2 L1919.0,702.0 L1920.0,702.1 L1921.0,700.9 L1922.0,701.2 L1923.0,701.9 L1924.0,698.6 L1925.0,701.3 L1926.0,701.5 L1927.0,701.7 L1928.0,702.0 L1929.0,701.6 L1930.0,701.1 L1931.0,701.1 L1932.0,701.7 L1933.0,701.8 L1934.0,703.8 L1935.0,701.5 L1936.0,701.5 L1937.0,700.8 L1938.0,701.4 L1939.0,701.8 L1940.0,700.9 L1941.0,701.6 L1942.0,701.8 L1943.0,702.5 L1944.0,701.4 L1945.0,701.3 L1946.0,700.9 L1947.0,700.9 L1948.0,700.7 L1949.0,700.6 L1950.0,701.7 L1951.0,701.4 L1952.0,701.6 L1953.0,700.7 L1954.0,700.5 L1955.0,700.6 L1956.0,702.2 L1957.0,701.9 L1958.0,700.8 L1959.0,701.5 L1960.0,701.5 L1961.0,701.0 L1962.0,701.1 L1963.0,701.9 L1964.0,701.8 L1965.0,701.8 L1966.0,701.6 L1967.0,701.5 L1968.0,701.7 L1969.0,701.4 L1970.0,702.2 L1971.0,701.5 L1972.0,701.7 L1973.0,701.4 L1974.0,701.1 L1975.0,701.4 L1976.0,701.3 L1977.0,701.1 L1978.0,701.8 L1979.0,702.1 L1980.0,701.0 L1981.0,700.4 L1982.0,699.5 L1983.0,698.6 L1984.0,696.9 L1985.0,698.3 L1986.0,697.1 L1987.0,697.1 L1988.0,696.2 L1989.0,696.8 L1990.0,695.7 L1991.0,695.4 L1992.0,695.6 L1993.0,691.1 L1994.0,694.2 L1995.0,693.8 L1996.0,693.2 L1997.0,693.1 L1998.0,693.4 L1999.0,692.3 L2000.0,692.1 L2001.0,693.0 L2002.0,692.4 L2003.0,692.0 L2004.0,691.9 L2005.0,691.4 L2006.0,688.9 L2007.0,690.9 L2008.0,691.0 L2009.0,690.5 L2010.0,689.9 L2011.0,690.4 L2012.0,690.5 L2013.0,690.3 L2014.0,690.6 L2015.0,690.5"/>
<path stroke="#00ffff" d="M143.9,520.8 L144.9,520.9 L145.9,521.4 L146.9,523.4 L147.9,520.5 L148.9,521.4 L149.9,521.0 L150.9,521.3 L151.9,520.8 L152.9,520.9 L153.9,521.3 L154.9,521.2 L155.9,521.2 L156.9,521.1 L157.9,521.6 L158.9,521.9 L159.9,521.1 L160.9,521.6 L161.9,521.3 L162.9,521.6 L163.9,522.0 L164.9,521.7 L165.9,521.5 L166.9,521.2 L167.9,522.0 L168.9,522.3 L169.9,520.8 L170.9,521.9 L171.9,521.6 L172.9,521.1 L173.9,522.4 L174.9,521.9 L175.9,522.5 L176.9,521.4 L177.9,521.5 L178.9,521.1 L179.9,521.7 L180.9,521.0 L181.9,521.6 L182.9,522.2 L183.9,522.0 L184.9,522.1 L185.9,521.8 L186.9,522.1 L187.9,521.7 L188.9,521.2 L189.9,520.6 L190.9,521.7 L191.9,521.4 L192.9,521.3 L193.9,522.2 L194.9,521.1 L195.9,521.4 L196.9,523.8 L197.9,522.0 L198.9,521.8 L199.9,521.1 L200.9,522.2 L201.9,521.7 L202.9,521.1 L203.9,522.2 L204.9,521.7 L205.9,521.0 L206.9,520.6 L207.9,521.6 L208.9,521.4 L209.9,521.8 L210.9,519.4 L211.9,521.3 L212.9,521.8 L213.9,521.7 L214.9,521.2 L215.9,521.9 L216.9,521.6 L217.9,521.5 L218.9,521.7 L219.9,521.2 L220.9,521.2 L221.9,521.4 L222.9,521.1 L223.9,522.0 L224.9,521.5 L225.9,523.1 L226.9,522.1 L227.9,521.9 L228.9,522.2 L229.9,521.0 L230.9,522.0 L231.9,521.1 L232.9,521.2 L233.9,521.3 L234.9,521.3 L235.9,521.2 L236.9,521.3 L237.9,521.8 L238.9,520.3 L239.9,520.5 L240.9,520.6 L241.9,521.2 L242.9,521.1 L243.9,521.2 L244.9,521.8 L245.9,521.0 L246.9,520.3 L247.9,521.1 L248.9,521.6 L249.9,521.6 L250.9,520.7 L251.9,520.8 L252.9,520.8 L253.9,520.9 L254.9,520.5 L255.9,520.3 L256.9,521.1 L257.9,521.1 L258.9,520.4 L259.9,520.1 L260.9,520.0 L261.9,519.8 L262.9,519.7 L263.9,520.0 L264.9,519.8 L265.9,520.1 L266.9,519.8 L267.9,519.6 L268.9,519.7 L269.9,518.8 L270.9,519.9 L271.9,519.7 L272.9,520.3 L273.9,519.5 L274.9,519.6 L275.9,519.2 L276.9,520.4 L277.9,519.6 L278.9,520.0 L279.9,519.3 L280.9,519.7 L281.9,519.0 L282.9,519.1 L283.9,517.9 L284.9,519.0 L285.9,519.6 L286.9,519.6 L287.9,519.7 L288.9,518.8 L289.9,518.9 L290.9,519.1 L291.9,519.4 L292.9,518.6 L293.9,519.0 L294.9,519.5 L295.9,519.1 L296.9,518.9 L297.9,518.5 L298.9,518.8 L299.9,517.2 L300.9,519.3 L301.9,518.2 L302.9,519.0 L303.9,518.7 L304.9,518.4 L305.9,521.3 L306.9,519.1 L307.9,518.3 L308.9,518.4 L309.9,518.8 L310.9,518.2 L311.9,518.7 L312.9,518.9 L313.9,518.2 L314.9,518.8 L315.9,518.9 L316.9,518.5 L317.9,519.0 L318.9,519.1 L319.9,519.1 L320.9,518.8 L321.9,519.5 L322.9,519.1 L323.9,519.4 L324.9,519.5 L325.9,519.6 L326.9,519.0 L327.9,520.4 L328.9,520.3 L329.9,520.4 L330.9,520.6 L331.9,520.6 L332.9,520.9 L333.9,521.2 L334.9,521.0 L335.9,521.4 L336.9,521.7 L337.9,522.0 L338.9,522.3 L339.9,522.6 L340.9,523.2 L341.9,523.9 L342.9,524.4 L343.9,525.2 L344.9,525.8 L345.9,526.8 L346.9,527.6 L347.9,528.1 L348.9,528.8 L349.9,529.7 L350.9,530.6 L351.9,531.7 L352.9,532.4 L353.9,533.2 L354.9,533.8 L355.9,534.6 L356.9,535.4 L357.9,536.3 L358.9,536.5 L359.9,538.0 L360.9,538.8 L361.9,539.5 L362.9,540.7 L363.9,541.5 L364.9,542.3 L365.9,542.7 L366.9,544.0 L367.9,544.7 L368.9,545.6 L369.9,545.9 L370.9,546.8 L371.9,547.8 L372.9,548.3 L373.9,549.5 L374.9,549.7 L375.9,550.7 L376.9,551.2 L377.9,552.3 L378.9,552.4 L379.9,553.2 L380.9,553.4 L381.9,553.9 L382.9,554.7 L383.9,555.4 L384.9,555.6 L385.9,556.4 L386.9,556.8 L387.9,557.2 L388.9,557.7 L389.9,558.2 L390.9,558.6 L391.9,559.2 L392.9,559.7 L393.9,560.0 L394.9,560.2 L395.9,561.2 L396.9,561.5 L397.9,562.2 L398.9,562.4 L399.9,563.2 L400.9,563.6 L401.9,564.0 L402.9,564.6 L403.9,565.2 L404.9,565.4 L405.9,566.5 L406.9,567.0 L407.9,567.4 L408.9,567.6 L409.9,568.6 L410.9,569.0 L411.9,569.9 L412.9,570.0 L413.9,570.6 L414.9,571.3 L415.9,571.2 L416.9,572.0 L417.9,572.5 L418.9,572.5 L419.9,573.2 L420.9,573.8 L421.9,574.2 L422.9,574.8 L423.9,575.0 L424.9,574.9 L425.9,575.7 L426.9,576.0 L427.9,576.3 L428.9,576.4 L429.9,577.2 L430.9,577.5 L431.9,577.5 L432.9,577.6 L433.9,577.7 L434.9,577.9 L435.9,578.5 L436.9,578.1 L437.9,578.7 L438.9,578.5 L439.9,578.6 L440.9,578.6 L441.9,577.5 L442.9,578.6 L443.9,578.4 L444.9,578.5 L445.9,578.4 L446.9,578.4 L447.9,578.4 L448.9,578.1 L449.9,578.3 L450.9,578.0 L451.9,578.4 L452.9,578.0 L453.9,577.8 L454.9,577.9 L455.9,577.6 L456.9,577.2 L457.9,576.5 L458.9,576.1 L459.9,576.0 L460.9,575.8 L461.9,574.9 L462.9,574.3 L463.9,573.8 L464.9,572.9 L465.9,572.7 L466.9,571.8 L467.9,571.4 L468.9,570.7 L469.9,570.0 L470.9,569.5 L471.9,568.9 L472.9,566.7 L473.9,568.0 L474.9,569.0 L475.9,566.2 L476.9,565.7 L477.9,564.7 L478.9,564.3 L479.9,563.5 L480.9,562.5 L481.9,561.8 L482.9,561.1 L483.9,560.2 L484.9,559.4 L485.9,558.9 L486.9,558.1 L487.9,557.5 L488.9,556.9 L489.9,555.9 L490.9,555.3 L491.9,554.8 L492.9,553.6 L493.9,553.2 L494.9,552.0 L495.9,551.3 L496.9,550.8 L497.9,550.0 L498.9,549.1 L499.9,549.0 L500.9,548.3 L501.9,547.4 L502.9,547.1 L503.9,546.6 L504.9,545.9 L505.9,545.8 L506.9,545.0 L507.9,544.5 L508.9,542.8 L509.9,543.9 L510.9,543.5 L511.9,543.3 L513.0,542.8 L514.0,543.0 L515.0,542.3 L516.0,542.0 L517.0,541.6 L518.0,541.5 L519.0,540.3 L520.0,540.5 L521.0,540.0 L522.0,539.6 L523.0,539.5 L524.0,539.0 L525.0,538.3 L526.0,538.3 L527.0,537.9 L528.0,537.8 L529.0,536.8 L530.0,537.0 L531.0,536.6 L532.0,536.3 L533.0,536.0 L534.0,535.1 L535.0,535.3 L536.0,534.8 L537.0,534.3 L538.0,534.3 L539.0,533.7 L540.0,533.7 L541.0,533.2 L542.0,532.4 L543.0,532.3 L544.0,531.7 L545.0,531.3 L546.0,530.7 L547.0,530.5 L548.0,529.6 L549.0,529.3 L550.0,528.4 L551.0,528.2 L552.0,527.3 L553.0,526.8 L554.0,526.5 L555.0,525.7 L556.0,525.6 L557.0,524.7 L558.0,524.7 L559.0,524.0 L560.0,523.4 L561.0,523.1 L562.0,522.6 L563.0,522.6 L564.0,521.9 L565.0,521.3 L566.0,521.0 L567.0,520.5 L568.0,520.1 L569.0,519.6 L570.0,519.3 L571.0,519.1 L572.0,518.6 L573.0,518.4 L574.0,517.9 L575.0,517.7 L576.0,517.4 L577.0,517.6 L578.0,517.5 L579.0,517.1 L580.0,517.2 L581.0,516.8 L582.0,516.8 L583.0,517.2 L584.0,516.7 L585.0,517.6 L586.0,517.3 L587.0,517.4 L588.0,517.1 L589.0,516.8 L590.0,516.9 L591.0,516.9 L592.0,517.2 L593.0,516.9 L594.0,516.9 L595.0,517.4 L596.0,516.8 L597.0,517.0 L598.0,517.3 L599.0,517.6 L600.0,516.8 L601.0,516.6 L602.0,516.9 L603.0,517.1 L604.0,517.1 L605.0,517.0 L606.0,516.8 L607.0,517.2 L608.0,517.0 L609.0,517.0 L610.0,517.1 L611.0,517.4 L612.0,517.1 L613.0,517.6 L614.0,517.0 L615.0,517.2 L616.0,516.7 L617.0,517.0 L618.0,517.1 L619.0,516.9 L620.0,516.9 L621.0,517.0 L622.0,516.9 L623.0,517.0 L624.0,517.1 L625.0,517.3 L626.0,517.2 L627.0,517.6 L628.0,517.8 L629.0,518.4 L630.0,519.0 L631.0,519.0 L632.0,519.4 L633.0,519.6 L634.0,520.1 L635.0,520.2 L636.0,520.1 L637.0,518.6 L638.0,520.9 L639.0,520.6 L640.0,520.5 L641.0,520.7 L642.0,520.9 L643.0,520.5 L644.0,520.8 L645.0,520.7 L646.0,520.2 L647.0,520.6 L648.0,520.8 L649.0,520.8 L650.0,520.7 L651.0,520.5 L652.0,520.8 L653.0,520.8 L654.0,520.8 L655.0,521.1 L656.0,520.8 L657.0,521.0 L658.0,520.9 L659.0,521.3 L660.0,520.9 L661.0,521.3 L662.0,520.6 L663.0,520.6 L664.0,520.9 L665.0,520.8 L666.0,521.1 L667.0,521.0 L668.0,521.0 L669.0,520.7 L670.0,520.9 L671.0,521.1 L672.0,520.8 L673.0,521.0 L674.0,521.2 L675.0,521.0 L676.0,521.1 L677.0,521.3 L678.0,521.3 L679.0,521.1 L680.0,521.6 L681.0,522.0 L682.0,522.5 L683.0,523.4 L684.0,523.7 L685.0,524.2 L686.0,524.7 L687.0,524.0 L688.0,526.4 L689.0,527.4 L690.0,528.5 L691.0,530.4 L692.0,532.4 L693.0,535.1 L694.0,537.8 L695.0,540.3 L696.0,543.0 L697.0,544.9 L698.0,546.4 L699.0,547.2 L700.0,547.6 L701.0,547.5 L702.0,548.1 L703.0,548.1 L704.0,548.3 L705.0,548.6 L706.0,548.6 L707.0,548.8 L708.0,550.0 L709.0,552.8 L710.0,557.8 L711.0,562.9 L712.0,568.6 L713.0,573.2 L714.0,578.4 L715.0,583.6 L716.0,588.5 L717.0,591.8 L718.0,593.5 L719.0,592.9 L720.0,590.0 L721.0,586.0 L722.0,581.3 L723.0,575.9 L724.0,571.4 L725.0,567.6 L726.0,562.8 L727.0,558.5 L728.0,554.2 L729.0,551.0 L730.0,549.4 L731.0,547.4 L732.0,545.8 L733.0,544.0 L734.0,542.5 L735.0,541.2 L736.0,540.0 L737.0,539.1 L738.0,538.1 L739.0,537.8 L740.0,537.5 L741.0,537.3 L742.0,537.2 L743.0,538.1 L744.0,538.3 L745.0,539.7 L746.0,540.9 L747.0,542.3 L748.0,543.5 L749.0,544.9 L750.0,546.9 L751.0,549.4 L752.0,552.1 L753.0,555.6 L754.0,558.8 L755.0,561.3 L756.0,564.1 L757.0,564.6 L758.0,562.5 L759.0,556.1 L760.0,547.7 L761.0,540.9 L762.0,536.7 L763.0,534.5 L764.0,533.0 L765.0,531.4 L766.0,529.9 L767.0,528.8 L768.0,528.1 L769.0,527.1 L770.0,526.2 L771.0,525.5 L772.0,525.4 L773.0,524.5 L774.0,523.7 L775.0,523.8 L776.0,523.1 L777.0,522.3 L778.0,522.1 L779.0,521.8 L780.0,521.3 L781.0,521.4 L782.0,521.2 L783.0,521.5 L784.0,521.1 L785.0,521.0 L786.0,521.1 L787.0,521.1 L788.0,521.3 L789.0,521.4 L790.0,520.7 L791.0,520.8 L792.0,521.1 L793.0,521.5 L794.0,521.0 L795.0,521.3 L796.0,521.0 L797.0,521.0 L798.0,521.1 L799.0,521.4 L800.0,521.0 L801.0,521.1 L802.0,521.2 L803.0,521.3 L804.0,521.1 L805.0,521.3 L806.0,521.4 L807.0,521.3 L808.0,521.0 L809.0,521.1 L810.0,521.2 L811.0,521.1 L812.0,520.9 L813.0,520.9 L814.0,521.0 L815.0,520.7 L816.0,521.7 L817.0,521.3 L818.0,521.0 L819.0,521.0 L820.0,521.3 L821.0,520.8 L822.0,520.9 L823.0,521.3 L824.0,521.1 L825.0,521.3 L826.0,521.1 L827.0,521.1 L828.0,521.0 L829.0,521.2 L830.0,521.2 L831.0,521.2 L832.0,521.0 L833.0,521.3 L834.0,521.1 L835.0,521.2 L836.0,520.9 L837.0,520.8 L838.0,521.2 L839.0,521.0 L840.0,520.9 L841.0,521.2 L842.0,521.4 L843.0,521.1 L844.0,521.1 L845.0,521.2 L846.0,521.2 L847.0,521.1 L848.0,520.8 L849.0,521.3 L850.0,521.0 L851.0,521.5 L852.0,521.0 L853.0,521.2 L854.0,521.1 L855.0,521.1 L856.0,521.6 L857.0,521.1 L858.0,521.3 L859.0,521.1 L860.0,521.0 L861.0,521.3 L862.0,521.2 L863.0,521.1 L864.0,520.9 L865.0,521.2 L866.0,521.8 L867.0,521.1 L868.0,521.2 L869.0,521.0 L870.0,521.8 L871.0,520.8 L872.0,521.0 L873.0,520.7 L874.0,521.2 L875.0,521.1 L876.0,521.2 L877.0,521.1 L878.0,521.4 L879.0,521.4 L880.0,521.3 L881.0,520.6 L882.0,520.9 L883.0,521.1 L884.0,521.3 L885.0,520.6 L886.0,521.4 L887.0,521.2 L888.0,521.4 L889.0,520.9 L890.0,521.0 L891.0,520.9 L892.0,521.0 L893.0,520.9 L894.0,520.5 L895.0,521.0 L896.0,520.6 L897.0,520.1 L898.0,519.6 L899.0,520.0 L900.0,519.0 L901.0,518.9 L902.0,518.6 L903.0,518.3 L904.0,518.3 L905.0,518.0 L906.0,517.6 L907.0,517.1 L908.0,517.3 L909.0,517.0 L910.0,516.7 L911.0,516.9 L912.0,516.1 L913.0,516.0 L914.0,515.9 L915.0,515.7 L916.0,515.8 L917.0,515.6 L918.0,515.4 L919.0,515.6 L920.0,515.2 L921.0,515.0 L922.0,514.9 L923.0,514.7 L924.0,514.8 L925.0,514.6 L926.0,514.7 L927.0,514.8 L928.0,514.8 L929.0,514.7 L930.0,515.2 L931.0,514.7 L932.0,515.2 L933.0,515.2 L934.0,515.4 L935.0,515.4 L936.0,515.6 L937.0,516.2 L938.0,516.0 L939.0,516.6 L940.0,516.5 L941.0,516.7 L942.0,517.4 L943.0,517.5 L944.0,518.2 L945.0,517.8 L946.0,518.4 L947.0,518.6 L948.0,518.8 L949.0,518.8 L950.0,518.8 L951.0,519.4 L952.0,519.6 L953.0,519.7 L954.0,519.9 L955.0,520.2 L956.0,520.4 L957.0,520.5 L958.0,520.4 L959.0,520.9 L960.0,520.7 L961.0,521.1 L962.0,521.0 L963.0,521.3 L964.0,521.6 L965.0,521.6 L966.0,522.0 L967.0,521.9 L968.0,520.6 L969.0,522.2 L970.0,522.9 L971.0,522.7 L972.0,522.7 L973.0,522.6 L974.0,522.9 L975.0,523.5 L976.0,523.1 L977.0,523.1 L978.0,523.6 L979.0,524.0 L980.0,523.8 L981.0,523.8 L982.0,524.1 L983.0,524.2 L984.0,524.5 L985.0,524.7 L986.0,524.4 L987.0,524.3 L988.0,524.2 L989.0,524.1 L990.0,524.4 L991.0,524.1 L992.0,524.4 L993.0,524.1 L994.0,523.9 L995.0,524.2 L996.0,523.4 L997.0,523.8 L998.0,523.4 L999.0,523.2 L1000.0,523.0 L1001.0,522.6 L1002.0,522.7 L1003.0,522.6 L1004.0,521.7 L1005.0,521.9 L1006.0,521.6 L1007.0,521.4 L1008.0,521.3 L1009.0,520.9 L1010.0,520.7 L1011.0,520.8 L1012.0,520.2 L1013.0,520.1 L1014.0,519.9 L1015.0,519.7 L1016.0,519.5 L1017.0,519.7 L1018.0,519.1 L1019.0,519.5 L1020.0,518.5 L1021.0,518.2 L1022.0,518.3 L1023.0,518.0 L1024.0,518.2 L1025.0,517.9 L1026.0,517.4 L1027.0,517.3 L1028.0,517.1 L1029.0,517.5 L1030.0,516.8 L1031.0,516.7 L1032.0,516.5 L1033.0,516.3 L1034.0,516.1 L1035.0,515.8 L1036.0,515.8 L1037.0,515.7 L1038.0,515.2 L1039.0,515.4 L1040.0,515.0 L1041.0,514.8 L1042.0,514.9 L1043.0,514.9 L1044.0,514.9 L1045.0,514.4 L1046.0,514.1 L1047.0,514.1 L1048.0,514.1 L1049.0,514.1 L1050.0,514.1 L1051.0,513.9 L1052.0,514.0 L1053.0,513.6 L1054.0,513.8 L1055.0,513.8 L1056.0,513.8 L1057.0,513.8 L1058.0,513.6 L1059.0,514.0 L1060.0,513.9 L1061.0,514.0 L1062.0,514.0 L1063.0,514.4 L1064.0,514.4 L1065.0,514.5 L1066.0,514.9 L1067.0,514.8 L1068.0,515.2 L1069.0,515.4 L1070.0,515.6 L1071.0,515.7 L1072.0,515.6 L1073.0,516.1 L1074.0,516.2 L1075.0,516.7 L1076.0,516.8 L1077.0,516.7 L1078.0,516.9 L1079.0,516.3 L1080.0,516.9 L1081.0,516.9 L1082.0,517.3 L1083.0,517.4 L1084.0,517.6 L1085.0,517.7 L1086.0,517.8 L1087.0,517.8 L1088.0,517.8 L1089.0,518.2 L1090.0,518.2 L1091.0,518.5 L1092.0,518.3 L1093.0,518.4 L1094.0,518.4 L1095.0,518.8 L1096.0,518.6 L1097.0,518.4 L1098.0,518.8 L1099.0,518.9 L1100.0,519.1 L1101.0,519.1 L1102.0,519.5 L1103.0,519.4 L1104.0,519.6 L1105.0,519.8 L1106.0,519.8 L1107.0,519.9 L1108.0,519.7 L1109.0,519.9 L1110.0,519.9 L1111.0,520.1 L1112.0,519.9 L1113.0,520.2 L1114.0,520.1 L1115.0,520.4 L1116.0,520.5 L1117.0,520.6 L1118.0,520.3 L1119.0,520.6 L1120.0,520.1 L1121.0,520.5 L1122.0,520.2 L1123.0,520.4 L1124.0,520.2 L1125.0,520.4 L1126.0,520.2 L1127.0,520.5 L1128.0,520.6 L1129.0,520.3 L1130.0,520.2 L1131.0,520.0 L1132.0,519.8 L1133.0,519.7 L1134.0,519.4 L1135.0,519.3 L1136.0,519.5 L1137.0,519.1 L1138.0,519.2 L1139.0,518.8 L1140.0,519.3 L1141.0,519.0 L1142.0,518.5 L1143.0,518.8 L1144.0,518.4 L1145.0,518.4 L1146.0,518.1 L1147.0,517.9 L1148.0,518.2 L1149.0,517.9 L1150.0,517.9 L1151.0,517.8 L1152.0,517.5 L1153.0,517.3 L1154.0,517.4 L1155.0,516.8 L1156.0,517.1 L1157.0,517.2 L1158.0,516.8 L1159.0,517.1 L1160.0,516.6 L1161.0,516.3 L1162.0,516.6 L1163.0,516.3 L1164.0,516.4 L1165.0,516.0 L1166.0,516.1 L1167.0,516.0 L1168.0,515.9 L1169.0,515.9 L1170.0,515.5 L1171.0,515.5 L1172.0,515.7 L1173.0,515.6 L1174.0,515.5 L1175.0,515.0 L1176.0,515.2 L1177.0,515.0 L1178.0,514.9 L1179.0,514.6 L1180.0,514.4 L1181.0,514.9 L1182.0,514.7 L1183.0,514.2 L1184.0,514.3 L1185.0,514.3 L1186.0,514.1 L1187.0,514.2 L1188.0,514.0 L1189.0,513.7 L1190.0,513.8 L1191.0,514.0 L1192.0,513.6 L1193.0,513.9 L1194.0,514.0 L1195.0,513.9 L1196.0,513.8 L1197.0,513.7 L1198.0,513.9 L1199.0,513.7 L1200.0,513.4 L1201.0,513.8 L1202.0,514.3 L1203.0,514.4 L1204.0,514.1 L1205.0,514.4 L1206.0,514.5 L1207.0,514.5 L1208.0,514.8 L1209.0,515.2 L1210.0,515.2 L1211.0,515.3 L1212.0,515.1 L1213.0,516.1 L1214.0,515.6 L1215.0,515.9 L1216.0,516.2 L1217.0,516.1 L1218.0,516.3 L1219.0,515.8 L1220.0,516.2 L1221.0,516.3 L1222.0,516.2 L1223.0,516.2 L1224.0,516.8 L1225.0,516.4 L1226.0,516.9 L1227.0,516.9 L1228.0,516.8 L1229.0,516.6 L1230.0,516.8 L1231.0,516.9 L1232.0,516.9 L1233.0,517.0 L1234.0,517.2 L1235.0,517.2 L1236.0,517.3 L1237.0,517.3 L1238.0,517.6 L1239.0,517.8 L1240.0,517.5 L1241.0,517.6 L1242.0,517.6 L1243.0,517.9 L1244.0,517.9 L1245.0,517.9 L1246.0,517.9 L1247.0,518.2 L1248.0,518.4 L1249.0,518.2 L1250.0,518.5 L1251.0,518.1 L1252.0,518.5 L1253.0,518.8 L1254.0,518.5 L1255.0,518.6 L1256.0,519.1 L1257.0,518.8 L1258.0,519.2 L1259.0,519.7 L1260.0,519.5 L1261.0,519.9 L1262.0,519.9 L1263.0,519.5 L1264.0,519.7 L1265.0,519.8 L1266.0,520.0 L1267.0,520.0 L1268.0,519.9 L1269.0,519.7 L1270.0,519.3 L1271.0,519.4 L1272.0,518.9 L1273.0,518.9 L1274.0,518.6 L1275.0,517.7 L1276.0,518.0 L1277.0,517.1 L1278.0,517.0 L1279.0,516.5 L1280.0,516.3 L1281.0,515.8 L1282.0,515.5 L1283.0,515.0 L1284.0,514.3 L1285.0,514.2 L1286.0,514.1 L1287.0,513.9 L1288.0,513.6 L1289.0,513.3 L1290.0,513.1 L1291.0,513.3 L1292.0,513.7 L1293.0,513.0 L1294.0,512.9 L1295.0,513.0 L1296.0,512.9 L1297.0,512.7 L1298.0,512.2 L1299.0,512.3 L1300.0,512.1 L1301.0,512.1 L1302.0,511.5 L1303.0,511.1 L1304.0,510.5 L1305.0,510.2 L1306.0,510.3 L1307.0,509.7 L1308.0,509.4 L1309.0,508.9 L1310.0,508.7 L1311.0,508.9 L1312.0,508.6 L1313.0,508.6 L1314.0,508.4 L1315.0,508.2 L1316.0,507.6 L1317.0,508.1 L1318.0,508.2 L1319.0,507.8 L1320.0,507.6 L1321.0,507.6 L1322.0,507.5 L1323.0,507.1 L1324.0,507.3 L1325.0,507.2 L1326.0,507.4 L1327.0,506.9 L1328.0,506.9 L1329.0,506.9 L1330.0,506.9 L1331.0,505.9 L1332.0,507.0 L1333.0,508.3 L1334.0,506.1 L1335.0,507.2 L1336.0,505.8 L1337.0,507.0 L1338.0,506.8 L1339.0,506.7 L1340.0,507.0 L1341.0,509.2 L1342.0,510.6 L1343.0,513.3 L1344.0,514.3 L1345.0,519.8 L1346.0,522.7 L1347.0,525.7 L1348.0,525.4 L1349.0,525.5 L1350.0,524.2 L1351.0,523.7 L1352.0,522.5 L1353.0,522.6 L1354.0,522.4 L1355.0,521.8 L1356.0,521.4 L1357.0,521.6 L1358.0,521.8 L1359.0,521.6 L1360.0,520.6 L1361.0,521.2 L1362.0,521.2 L1363.0,521.6 L1364.0,524.5 L1365.0,525.9 L1366.0,526.1 L1367.0,526.6 L1368.0,525.5 L1369.0,524.0 L1370.0,523.0 L1371.0,521.7 L1372.0,521.1 L1373.0,522.1 L1374.0,521.7 L1375.0,524.1 L1376.0,524.6 L1377.0,525.8 L1378.0,527.6 L1379.0,528.6 L1380.0,530.3 L1381.0,532.7 L1382.0,533.6 L1383.0,534.9 L1384.0,536.6 L1385.0,538.8 L1386.0,540.5 L1387.0,541.7 L1388.0,543.9 L1389.0,543.5 L1390.0,546.6 L1391.0,548.6 L1392.0,549.7 L1393.0,551.0 L1394.0,555.0 L1395.0,553.1 L1396.0,555.7 L1397.0,557.1 L1398.0,557.9 L1399.0,557.6 L1400.0,558.2 L1401.0,558.5 L1402.0,559.1 L1403.0,559.3 L1404.0,560.7 L1405.0,561.6 L1406.0,559.3 L1407.0,559.0 L1408.0,558.3 L1409.0,558.3 L1410.0,558.4 L1411.0,557.7 L1412.0,557.0 L1413.0,556.2 L1414.0,554.8 L1415.0,553.8 L1416.0,553.2 L1417.0,551.4 L1418.0,550.0 L1419.0,549.1 L1420.0,547.0 L1421.0,545.7 L1422.0,545.3 L1423.0,544.0 L1424.0,542.2 L1425.0,542.0 L1426.0,540.9 L1427.0,540.2 L1428.0,539.6 L1429.0,538.3 L1430.0,538.0 L1431.0,538.3 L1432.0,536.8 L1433.0,536.0 L1434.0,535.9 L1435.0,534.2 L1436.0,533.9 L1437.0,533.6 L1438.0,532.2 L1439.0,531.5 L1440.0,530.4 L1441.0,529.8 L1442.0,529.3 L1443.0,528.3 L1444.0,528.0 L1445.0,527.8 L1446.0,526.8 L1447.0,530.4 L1448.0,529.8 L1449.0,530.7 L1450.0,531.6 L1451.0,532.1 L1452.0,532.5 L1453.0,533.1 L1454.0,532.9 L1455.0,531.9 L1456.0,534.1 L1457.0,531.6 L1458.0,531.4 L1459.0,531.4 L1460.0,531.4 L1461.0,530.5 L1462.0,530.2 L1463.0,529.1 L1464.0,528.9 L1465.0,527.0 L1466.0,527.2 L1467.0,527.1 L1468.0,528.9 L1469.0,525.4 L1470.0,525.8 L1471.0,524.7 L1472.0,525.3 L1473.0,526.1 L1474.0,523.5 L1475.0,522.3 L1476.0,520.5 L1477.0,518.5 L1478.0,517.7 L1479.0,518.0 L1480.0,515.9 L1481.0,515.9 L1482.0,514.9 L1483.0,515.1 L1484.0,514.1 L1485.0,514.5 L1486.0,513.6 L1487.0,514.3 L1488.0,515.5 L1489.0,514.4 L1490.0,515.2 L1491.0,516.6 L1492.0,516.7 L1493.0,517.3 L1494.0,521.5 L1495.0,527.5 L1496.0,530.2 L1497.0,530.7 L1498.0,531.3 L1499.0,534.1 L1500.0,532.2 L1501.0,532.9 L1502.0,532.9 L1503.0,531.7 L1504.0,531.4 L1505.0,530.0 L1506.0,528.4 L1507.0,527.1 L1508.0,526.5 L1509.0,524.6 L1510.0,524.1 L1511.0,525.1 L1512.0,525.4 L1513.0,524.6 L1514.0,524.8 L1515.0,523.7 L1516.0,523.8 L1517.0,521.8 L1518.0,524.6 L1519.0,525.7 L1520.0,526.6 L1521.0,527.7 L1522.0,528.3 L1523.0,528.8 L1524.0,528.9 L1525.0,528.7 L1526.0,528.7 L1527.0,527.7 L1528.0,527.3 L1529.0,526.4 L1530.0,526.1 L1531.0,526.8 L1532.0,526.4 L1533.0,525.9 L1534.0,527.7 L1535.0,525.0 L1536.0,524.4 L1537.0,525.0 L1538.0,525.0 L1539.0,523.9 L1540.0,525.4 L1541.0,524.5 L1542.0,524.8 L1543.0,525.1 L1544.0,525.0 L1545.0,524.1 L1546.0,524.5 L1547.0,524.2 L1548.0,523.6 L1549.0,523.4 L1550.0,522.5 L1551.0,521.1 L1552.0,521.5 L1553.0,521.1 L1554.0,520.6 L1555.0,520.4 L1556.0,519.4 L1557.0,518.9 L1558.0,518.4 L1559.0,519.3 L1560.0,517.5 L1561.0,517.5 L1562.0,516.2 L1563.0,516.5 L1564.0,515.8 L1565.0,515.9 L1566.0,516.4 L1567.0,516.9 L1568.0,516.4 L1569.0,516.9 L1570.0,517.0 L1571.0,517.1 L1572.0,517.6 L1573.0,518.2 L1574.0,518.0 L1575.0,517.9 L1576.0,517.9 L1577.0,518.3 L1578.0,519.5 L1579.0,518.6 L1580.0,517.6 L1581.0,518.6 L1582.0,517.9 L1583.0,518.3 L1584.0,521.3 L1585.0,518.8 L1586.0,518.2 L1587.0,518.3 L1588.0,519.0 L1589.0,520.9 L1590.0,519.0 L1591.0,519.7 L1592.0,519.6 L1593.0,519.0 L1594.0,520.9 L1595.0,520.6 L1596.0,521.2 L1597.0,521.1 L1598.0,523.0 L1599.0,521.1 L1600.0,521.9 L1601.0,522.1 L1602.0,522.4 L1603.0,522.3 L1604.0,522.3 L1605.0,521.9 L1606.0,522.2 L1607.0,522.4 L1608.0,521.1 L1609.0,521.6 L1610.0,521.8 L1611.0,522.0 L1612.0,521.9 L1613.0,521.7 L1614.0,520.4 L1615.0,520.4 L1616.0,519.9 L1617.0,519.4 L1618.0,519.3 L1619.0,519.1 L1620.0,519.0 L1621.0,517.6 L1622.0,517.7 L1623.0,516.9 L1624.0,517.5 L1625.0,517.3 L1626.0,516.1 L1627.0,515.8 L1628.0,516.3 L1629.0,516.5 L1630.0,515.7 L1631.0,515.9 L1632.0,514.3 L1633.0,515.6 L1634.0,516.7 L1635.0,516.1 L1636.0,516.2 L1637.0,515.7 L1638.0,516.7 L1639.0,515.6 L1640.0,515.9 L1641.0,516.0 L1642.0,516.2 L1643.0,515.7 L1644.0,516.1 L1645.0,516.7 L1646.0,516.5 L1647.0,517.0 L1648.0,516.1 L1649.0,518.6 L1650.0,519.8 L1651.0,520.3 L1652.0,520.7 L1653.0,522.5 L1654.0,521.7 L1655.0,522.5 L1656.0,520.8 L1657.0,525.2 L1658.0,524.6 L1659.0,525.1 L1660.0,523.8 L1661.0,523.4 L1662.0,523.4 L1663.0,522.5 L1664.0,522.3 L1665.0,522.5 L1666.0,522.3 L1667.0,522.3 L1668.0,522.4 L1669.0,522.3 L1670.0,522.6 L1671.0,523.0 L1672.0,522.4 L1673.0,523.2 L1674.0,524.2 L1675.0,524.8 L1676.0,526.2 L1677.0,528.5 L1678.0,529.6 L1679.0,531.4 L1680.0,532.3 L1681.0,532.0 L1682.0,532.1 L1683.0,532.1 L1684.0,532.2 L1685.0,527.7 L1686.0,530.6 L1687.0,528.8 L1688.0,529.2 L1689.0,530.7 L1690.0,527.9 L1691.0,527.0 L1692.0,527.9 L1693.0,527.2 L1694.0,527.3 L1695.0,527.0 L1696.0,527.7 L1697.0,527.0 L1698.0,526.9 L1699.0,526.6 L1700.0,526.3 L1701.0,526.9 L1702.0,527.6 L1703.0,527.6 L1704.0,527.2 L1705.0,528.2 L1706.0,529.7 L1707.0,526.9 L1708.0,529.7 L1709.0,529.2 L1710.0,530.2 L1711.0,530.4 L1712.0,531.5 L1713.0,531.7 L1714.0,533.7 L1715.0,532.4 L1716.0,532.0 L1717.0,533.0 L1718.0,533.8 L1719.0,532.8 L1720.0,533.2 L1721.0,532.1 L1722.0,532.5 L1723.0,532.3 L1724.0,532.3 L1725.0,532.4 L1726.0,532.2 L1727.0,532.1 L1728.0,532.4 L1729.0,531.5 L1730.0,531.6 L1731.0,531.7 L1732.0,531.2 L1733.0,533.9 L1734.0,531.1 L1735.0,530.4 L1736.0,529.6 L1737.0,529.2 L1738.0,529.1 L1739.0,527.6 L1740.0,527.9 L1741.0,527.1 L1742.0,526.4 L1743.0,525.1 L1744.0,525.1 L1745.0,525.5 L1746.0,524.6 L1747.0,524.1 L1748.0,523.8 L1749.0,523.9 L1750.0,522.7 L1751.0,523.6 L1752.0,523.0 L1753.0,522.2 L1754.0,522.7 L1755.0,521.0 L1756.0,521.4 L1757.0,521.8 L1758.0,522.1 L1759.0,520.7 L1760.0,520.4 L1761.0,520.7 L1762.0,520.6 L1763.0,520.0 L1764.0,519.8 L1765.0,520.6 L1766.0,519.3 L1767.0,518.8 L1768.0,519.1 L1769.0,519.6 L1770.0,519.2 L1771.0,518.7 L1772.0,518.0 L1773.0,518.4 L1774.0,519.4 L1775.0,518.4 L1776.0,518.4 L1777.0,517.2 L1778.0,517.5 L1779.0,517.3 L1780.0,518.2 L1781.0,517.2 L1782.0,517.1 L1783.0,516.8 L1784.0,515.7 L1785.0,517.3 L1786.0,515.9 L1787.0,514.4 L1788.0,515.9 L1789.0,516.2 L1790.0,516.3 L1791.0,516.2 L1792.0,517.0 L1793.0,515.9 L1794.0,514.9 L1795.0,516.7 L1796.0,516.3 L1797.0,516.3 L1798.0,517.3 L1799.0,516.9 L1800.0,516.2 L1801.0,516.7 L1802.0,516.3 L1803.0,516.9 L1804.0,516.1 L1805.0,517.1 L1806.0,516.9 L1807.0,517.0 L1808.0,516.9 L1809.0,517.0 L1810.0,516.6 L1811.0,517.1 L1812.0,517.4 L1813.0,517.5 L1814.0,515.5 L1815.0,517.9 L1816.0,517.4 L1817.0,517.8 L1818.0,518.0 L1819.0,520.0 L1820.0,518.8 L1821.0,519.4 L1822.0,519.8 L1823.0,519.7 L1824.0,519.4 L1825.0,520.1 L1826.0,520.3 L1827.0,519.6 L1828.0,519.5 L1829.0,520.0 L1830.0,520.9 L1831.0,520.1 L1832.0,520.2 L1833.0,520.6 L1834.0,519.9 L1835.0,519.9 L1836.0,521.9 L1837.0,520.8 L1838.0,520.4 L1839.0,520.3 L1840.0,519.9 L1841.0,521.3 L1842.0,520.1 L1843.0,521.2 L1844.0,520.4 L1845.0,521.2 L1846.0,521.5 L1847.0,520.4 L1848.0,521.1 L1849.0,521.1 L1850.0,521.4 L1851.0,520.7 L1852.0,521.4 L1853.0,520.9 L1854.0,520.4 L1855.0,521.3 L1856.0,519.8 L1857.0,520.8 L1858.0,520.7 L1859.0,521.1 L1860.0,521.4 L1861.0,520.2 L1862.0,521.1 L1863.0,521.5 L1864.0,520.3 L1865.0,520.8 L1866.0,520.6 L1867.0,520.7 L1868.0,521.0 L1869.0,519.8 L1870.0,520.2 L1871.0,519.8 L1872.0,520.2 L1873.0,521.1 L1874.0,519.9 L1875.0,520.1 L1876.0,520.0 L1877.0,520.4 L1878.0,520.1 L1879.0,519.9 L1880.0,520.0 L1881.0,520.3 L1882.0,520.1 L1883.0,519.9 L1884.0,521.8 L1885.0,521.9 L1886.0,522.1 L1887.0,522.8 L1888.0,523.7 L1889.0,523.5 L1890.0,524.3 L1891.0,524.5 L1892.0,525.6 L1893.0,524.4 L1894.0,525.0 L1895.0,528.3 L1896.0,525.1 L1897.0,525.1 L1898.0,524.6 L1899.0,523.8 L1900.0,524.4 L1901.0,524.4 L1902.0,523.8 L1903.0,522.9 L1904.0,522.9 L1905.0,523.6 L1906.0,522.7 L1907.0,522.4 L1908.0,523.1 L1909.0,522.7 L1910.0,522.1 L1911.0,522.5 L1912.0,523.3 L1913.0,523.0 L1914.0,523.1 L1915.0,523.5 L1916.0,523.0 L1917.0,522.8 L1918.0,523.5 L1919.0,523.4 L1920.0,523.7 L1921.0,523.6 L1922.0,523.7 L1923.0,523.5 L1924.0,524.4 L1925.0,525.2 L1926.0,524.0 L1927.0,525.1 L1928.0,525.0 L1929.0,524.6 L1930.0,524.6 L1931.0,525.4 L1932.0,525.2 L1933.0,525.3 L1934.0,525.4 L1935.0,526.6 L1936.0,525.3 L1937.0,526.3 L1938.0,527.1 L1939.0,526.6 L1940.0,527.6 L1941.0,525.1 L1942.0,527.1 L1943.0,527.6 L1944.0,527.1 L1945.0,527.6 L1946.0,528.0 L1947.0,527.7 L1948.0,528.3 L1949.0,528.8 L1950.0,528.0 L1951.0,528.6 L1952.0,529.0 L1953.0,528.7 L1954.0,529.6 L1955.0,529.9 L1956.0,529.3 L1957.0,529.8 L1958.0,529.6 L1959.0,529.9 L1960.0,530.3 L1961.0,530.2 L1962.0,530.5 L1963.0,530.4 L1964.0,531.2 L1965.0,531.3 L1966.0,530.7 L1967.0,531.4 L1968.0,532.3 L1969.0,531.1 L1970.0,534.1 L1971.0,532.5 L1972.0,531.3 L1973.0,531.7 L1974.0,530.3 L1975.0,531.7 L1976.0,531.2 L1977.0,531.0 L1978.0,530.5 L1979.0,530.5 L1980.0,530.3 L1981.0,529.8 L1982.0,529.0 L1983.0,528.8 L1984.0,528.5 L1985.0,528.1 L1986.0,527.5 L1987.0,527.0 L1988.0,527.2 L1989.0,525.3 L1990.0,526.5 L1991.0,525.8 L1992.0,525.4 L1993.0,525.4 L1994.0,525.2 L1995.0,525.8 L1996.0,524.5 L1997.0,524.7 L1998.0,524.1 L1999.0,523.7 L2000.0,523.2 L2001.0,523.4 L2002.0,523.1 L2003.0,522.1 L2004.0,522.7 L2005.0,522.2 L2006.0,521.4 L2007.0,521.6 L2008.0,522.0 L2009.0,522.0 L2010.0,521.4 L2011.0,521.8 L2012.0,521.5 L2013.0,520.4 L2014.0,520.5 L2015.0,521.0"/>
<path stroke="#0000ff" d="M143.9,331.5 L144.9,331.5 L145.9,331.3 L146.9,330.8 L147.9,330.7 L148.9,331.0 L149.9,331.3 L150.9,331.9 L151.9,331.0 L152.9,331.6 L153.9,332.3 L154.9,332.3 L155.9,333.7 L156.9,331.8 L157.9,330.2 L158.9,331.2 L159.9,331.5 L160.9,331.4 L161.9,331.8 L162.9,331.9 L163.9,331.6 L164.9,330.9 L165.9,331.2 L166.9,330.9 L167.9,331.9 L168.9,331.6 L169.9,332.0 L170.9,331.5 L171.9,330.9 L172.9,331.3 L173.9,332.9 L174.9,330.7 L175.9,330.6 L176.9,331.8 L177.9,331.2 L178.9,330.9 L179.9,331.1 L180.9,331.4 L181.9,331.3 L182.9,331.2 L183.9,331.1 L184.9,331.7 L185.9,331.2 L186.9,332.2 L187.9,331.0 L188.9,330.1 L189.9,331.0 L190.9,331.6 L191.9,333.0 L192.9,331.7 L193.9,331.7 L194.9,332.1 L195.9,330.9 L196.9,331.5 L197.9,330.8 L198.9,330.2 L199.9,330.7 L200.9,330.3 L201.9,328.4 L202.9,329.1 L203.9,328.7 L204.9,328.8 L205.9,327.1 L206.9,327.0 L207.9,326.6 L208.9,326.9 L209.9,326.8 L210.9,325.5 L211.9,324.7 L212.9,325.6 L213.9,326.2 L214.9,326.2 L215.9,326.7 L216.9,326.6 L217.9,326.6 L218.9,325.5 L219.9,326.7 L220.9,325.6 L221.9,326.8 L222.9,326.5 L223.9,326.3 L224.9,326.4 L225.9,326.4 L226.9,326.0 L227.9,325.5 L228.9,326.5 L229.9,326.4 L230.9,326.4 L231.9,326.0 L232.9,326.6 L233.9,325.9 L234.9,325.5 L235.9,326.7 L236.9,326.1 L237.9,325.9 L238.9,326.0 L239.9,327.0 L240.9,326.4 L241.9,326.0 L242.9,325.8 L243.9,325.9 L244.9,326.2 L245.9,325.6 L246.9,326.1 L247.9,326.2 L248.9,325.8 L249.9,326.1 L250.9,325.9 L251.9,326.4 L252.9,327.1 L253.9,327.3 L254.9,325.9 L255.9,326.4 L256.9,326.7 L257.9,326.3 L258.9,325.8 L259.9,326.2 L260.9,326.1 L261.9,326.1 L262.9,326.7 L263.9,326.7 L264.9,326.3 L265.9,327.5 L266.9,326.7 L267.9,327.6 L268.9,326.7 L269.9,327.0 L270.9,324.5 L271.9,326.9 L272.9,326.6 L273.9,326.5 L274.9,326.7 L275.9,327.5 L276.9,327.6 L277.9,327.7 L278.9,326.7 L279.9,328.0 L280.9,327.6 L281.9,327.0 L282.9,327.4 L283.9,327.5 L284.9,327.7 L285.9,326.7 L286.9,326.9 L287.9,328.0 L288.9,328.0 L289.9,327.3 L290.9,326.2 L291.9,328.2 L292.9,327.8 L293.9,327.7 L294.9,327.1 L295.9,327.4 L296.9,328.1 L297.9,328.0 L298.9,328.2 L299.9,327.5 L300.9,326.9 L301.9,327.8 L302.9,327.9 L303.9,328.0 L304.9,328.8 L305.9,328.8 L306.9,328.4 L307.9,328.3 L308.9,328.5 L309.9,328.3 L310.9,327.4 L311.9,327.7 L312.9,328.9 L313.9,328.8 L314.9,328.6 L315.9,328.1 L316.9,331.2 L317.9,329.0 L318.9,329.4 L319.9,330.4 L320.9,330.9 L321.9,331.5 L322.9,331.8 L323.9,332.8 L324.9,334.3 L325.9,334.1 L326.9,334.3 L327.9,335.0 L328.9,335.6 L329.9,337.2 L330.9,337.3 L331.9,338.2 L332.9,338.6 L333.9,339.6 L334.9,339.5 L335.9,340.3 L336.9,341.4 L337.9,342.2 L338.9,342.6 L339.9,343.5 L340.9,344.2 L341.9,345.2 L342.9,345.7 L343.9,346.4 L344.9,347.3 L345.9,348.0 L346.9,348.9 L347.9,349.7 L348.9,350.6 L349.9,351.1 L350.9,349.9 L351.9,352.5 L352.9,353.9 L353.9,354.1 L354.9,355.2 L355.9,356.0 L356.9,356.4 L357.9,357.6 L358.9,358.3 L359.9,358.9 L360.9,359.5 L361.9,360.5 L362.9,361.3 L363.9,362.0 L364.9,362.9 L365.9,364.0 L366.9,364.5 L367.9,365.3 L368.9,366.3 L369.9,367.4 L370.9,367.7 L371.9,368.5 L372.9,369.9 L373.9,368.5 L374.9,371.2 L375.9,372.4 L376.9,372.9 L377.9,373.6 L378.9,374.6 L379.9,375.6 L380.9,376.2 L381.9,375.2 L382.9,377.9 L383.9,379.0 L384.9,379.8 L385.9,380.5 L386.9,381.5 L387.9,382.4 L388.9,383.5 L389.9,384.1 L390.9,384.8 L391.9,385.9 L392.9,387.2 L393.9,387.9 L394.9,388.7 L395.9,389.0 L396.9,390.6 L397.9,391.1 L398.9,391.9 L399.9,392.6 L400.9,393.5 L401.9,393.8 L402.9,395.2 L403.9,395.5 L404.9,397.0 L405.9,397.6 L406.9,398.2 L407.9,399.0 L408.9,400.0 L409.9,401.2 L410.9,401.7 L411.9,402.6 L412.9,403.2 L413.9,404.5 L414.9,404.8 L415.9,405.5 L416.9,406.4 L417.9,406.8 L418.9,407.6 L419.9,407.8 L420.9,408.4 L421.9,409.3 L422.9,409.5 L423.9,410.3 L424.9,410.7 L425.9,411.3 L426.9,411.7 L427.9,412.3 L428.9,412.4 L429.9,412.8 L430.9,413.5 L431.9,413.4 L432.9,413.8 L433.9,414.0 L434.9,414.3 L435.9,415.0 L436.9,415.1 L437.9,414.8 L438.9,414.6 L439.9,414.8 L440.9,415.0 L441.9,415.3 L442.9,414.9 L443.9,415.2 L444.9,415.1 L445.9,414.6 L446.9,415.2 L447.9,415.2 L448.9,415.1 L449.9,414.9 L450.9,415.1 L451.9,414.8 L452.9,414.6 L453.9,414.4 L454.9,414.4 L455.9,413.5 L456.9,413.4 L457.9,413.0 L458.9,412.8 L459.9,414.1 L460.9,412.0 L461.9,411.8 L462.9,411.3 L463.9,411.3 L464.9,410.8 L465.9,410.1 L466.9,409.6 L467.9,409.0 L468.9,408.3 L469.9,408.0 L470.9,407.5 L471.9,406.2 L472.9,405.8 L473.9,405.6 L474.9,405.0 L475.9,403.9 L476.9,403.2 L477.9,402.4 L478.9,402.1 L479.9,401.1 L480.9,400.3 L481.9,399.3 L482.9,398.7 L483.9,397.6 L484.9,397.1 L485.9,395.9 L486.9,395.3 L487.9,394.4 L488.9,393.5 L489.9,392.6 L490.9,392.3 L491.9,391.5 L492.9,390.3 L493.9,390.2 L494.9,388.9 L495.9,388.7 L496.9,388.1 L497.9,387.3 L498.9,386.5 L499.9,385.9 L500.9,385.7 L501.9,384.7 L502.9,384.3 L503.9,383.8 L504.9,383.0 L505.9,382.4 L506.9,381.8 L507.9,381.4 L508.9,381.2 L509.9,380.4 L510.9,379.9 L511.9,379.8 L513.0,379.2 L514.0,378.6 L515.0,378.0 L516.0,377.5 L517.0,377.1 L518.0,376.5 L519.0,376.2 L520.0,375.5 L521.0,375.2 L522.0,374.3 L523.0,373.9 L524.0,374.0 L525.0,373.5 L526.0,372.6 L527.0,372.2 L528.0,372.2 L529.0,371.5 L530.0,371.1 L531.0,371.0 L532.0,370.4 L533.0,369.9 L534.0,369.7 L535.0,368.7 L536.0,368.5 L537.0,368.8 L538.0,367.9 L539.0,367.7 L540.0,366.7 L541.0,366.9 L542.0,365.8 L543.0,365.7 L544.0,365.2 L545.0,364.5 L546.0,364.4 L547.0,363.1 L548.0,363.5 L549.0,362.9 L550.0,362.3 L551.0,361.7 L552.0,361.3 L553.0,360.9 L554.0,360.4 L555.0,360.2 L556.0,359.4 L557.0,359.1 L558.0,358.4 L559.0,358.8 L560.0,358.0 L561.0,356.9 L562.0,357.1 L563.0,357.1 L564.0,356.1 L565.0,355.6 L566.0,355.2 L567.0,355.0 L568.0,354.6 L569.0,353.6 L570.0,352.6 L571.0,352.5 L572.0,351.7 L573.0,351.2 L574.0,351.2 L575.0,350.3 L576.0,349.7 L577.0,349.4 L578.0,348.9 L579.0,347.9 L580.0,347.9 L581.0,346.8 L582.0,346.5 L583.0,345.8 L584.0,345.2 L585.0,344.6 L586.0,344.4 L587.0,343.8 L588.0,343.1 L589.0,342.8 L590.0,341.8 L591.0,341.7 L592.0,340.8 L593.0,339.9 L594.0,339.6 L595.0,339.6 L596.0,338.8 L597.0,338.2 L598.0,337.4 L599.0,336.9 L600.0,336.2 L601.0,335.9 L602.0,335.4 L603.0,334.8 L604.0,334.2 L605.0,333.7 L606.0,333.3 L607.0,332.9 L608.0,332.2 L609.0,332.1 L610.0,331.8 L611.0,331.0 L612.0,330.8 L613.0,330.7 L614.0,330.4 L615.0,330.3 L616.0,330.2 L617.0,330.7 L618.0,330.4 L619.0,330.7 L620.0,330.4 L621.0,330.4 L622.0,330.4 L623.0,330.4 L624.0,331.1 L625.0,330.8 L626.0,330.6 L627.0,330.2 L628.0,330.6 L629.0,331.0 L630.0,330.9 L631.0,330.8 L632.0,331.1 L633.0,331.1 L634.0,330.9 L635.0,331.2 L636.0,331.4 L637.0,331.6 L638.0,331.5 L639.0,331.5 L640.0,331.8 L641.0,332.0 L642.0,332.0 L643.0,332.3 L644.0,332.0 L645.0,331.9 L646.0,331.7 L647.0,331.5 L648.0,330.9 L649.0,331.0 L650.0,330.4 L651.0,330.4 L652.0,330.2 L653.0,329.4 L654.0,329.7 L655.0,329.8 L656.0,329.7 L657.0,329.8 L658.0,329.5 L659.0,329.9 L660.0,329.7 L661.0,329.6 L662.0,329.1 L663.0,329.9 L664.0,329.4 L665.0,330.0 L666.0,329.9 L667.0,329.4 L668.0,329.4 L669.0,329.8 L670.0,330.0 L671.0,329.7 L672.0,329.8 L673.0,329.7 L674.0,330.1 L675.0,329.8 L676.0,329.4 L677.0,330.0 L678.0,329.9 L679.0,329.7 L680.0,329.7 L681.0,330.0 L682.0,329.8 L683.0,329.6 L684.0,330.0 L685.0,329.7 L686.0,330.0 L687.0,330.0 L688.0,330.8 L689.0,332.1 L690.0,331.8 L691.0,332.5 L692.0,333.8 L693.0,334.1 L694.0,335.2 L695.0,336.1 L696.0,336.3 L697.0,336.8 L698.0,337.6 L699.0,337.9 L700.0,338.5 L701.0,338.4 L702.0,338.9 L703.0,339.0 L704.0,339.2 L705.0,339.6 L706.0,340.1 L707.0,341.1 L708.0,341.6 L709.0,342.1 L710.0,343.2 L711.0,345.3 L712.0,348.4 L713.0,351.2 L714.0,353.9 L715.0,357.0 L716.0,358.8 L717.0,360.3 L718.0,360.3 L719.0,357.7 L720.0,357.7 L721.0,356.0 L722.0,353.8 L723.0,351.3 L724.0,348.7 L725.0,346.7 L726.0,345.4 L727.0,344.2 L728.0,342.8 L729.0,341.3 L730.0,339.7 L731.0,338.9 L732.0,337.7 L733.0,336.6 L734.0,335.8 L735.0,335.4 L736.0,335.6 L737.0,335.7 L738.0,335.3 L739.0,335.4 L740.0,335.7 L741.0,335.1 L742.0,335.3 L743.0,335.3 L744.0,335.5 L745.0,335.0 L746.0,335.5 L747.0,335.1 L748.0,335.6 L749.0,336.1 L750.0,337.4 L751.0,339.6 L752.0,341.4 L753.0,343.3 L754.0,345.5 L755.0,346.5 L756.0,347.2 L757.0,346.8 L758.0,344.3 L759.0,342.2 L760.0,339.6 L761.0,337.8 L762.0,335.4 L763.0,334.5 L764.0,333.3 L765.0,331.6 L766.0,330.6 L767.0,329.8 L768.0,329.3 L769.0,330.0 L770.0,329.4 L771.0,329.3 L772.0,329.9 L773.0,329.9 L774.0,329.9 L775.0,329.9 L776.0,329.5 L777.0,329.7 L778.0,329.6 L779.0,329.5 L780.0,329.8 L781.0,329.5 L782.0,329.7 L783.0,328.5 L784.0,329.8 L785.0,329.8 L786.0,330.0 L787.0,329.6 L788.0,329.9 L789.0,330.1 L790.0,330.0 L791.0,329.7 L792.0,330.1 L793.0,329.8 L794.0,330.1 L795.0,329.7 L796.0,329.7 L797.0,330.3 L798.0,330.0 L799.0,330.0 L800.0,329.8 L801.0,330.0 L802.0,330.4 L803.0,330.2 L804.0,330.1 L805.0,329.8 L806.0,330.4 L807.0,330.3 L808.0,330.5 L809.0,330.2 L810.0,330.4 L811.0,330.2 L812.0,330.0 L813.0,330.0 L814.0,330.6 L815.0,330.4 L816.0,330.5 L817.0,330.3 L818.0,331.1 L819.0,330.7 L820.0,330.5 L821.0,330.7 L822.0,330.9 L823.0,331.4 L824.0,331.4 L825.0,331.5 L826.0,331.4 L827.0,331.8 L828.0,331.7 L829.0,332.1 L830.0,331.8 L831.0,331.9 L832.0,332.0 L833.0,332.2 L834.0,332.2 L835.0,332.6 L836.0,332.5 L837.0,332.4 L838.0,332.7 L839.0,332.7 L840.0,332.6 L841.0,333.1 L842.0,333.2 L843.0,333.2 L844.0,333.6 L845.0,333.0 L846.0,333.6 L847.0,333.6 L848.0,333.4 L849.0,334.0 L850.0,333.5 L851.0,333.9 L852.0,334.1 L853.0,334.0 L854.0,334.0 L855.0,334.4 L856.0,334.6 L857.0,334.3 L858.0,334.8 L859.0,334.6 L860.0,334.4 L861.0,334.9 L862.0,334.7 L863.0,334.7 L864.0,335.0 L865.0,335.0 L866.0,334.9 L867.0,335.0 L868.0,335.3 L869.0,335.3 L870.0,335.6 L871.0,335.3 L872.0,335.3 L873.0,335.2 L874.0,335.8 L875.0,335.4 L876.0,335.5 L877.0,333.6 L878.0,335.5 L879.0,335.2 L880.0,335.3 L881.0,335.6 L882.0,335.4 L883.0,335.1 L884.0,335.1 L885.0,335.4 L886.0,334.8 L887.0,335.0 L888.0,335.2 L889.0,335.1 L890.0,334.5 L891.0,334.6 L892.0,334.6 L893.0,334.5 L894.0,334.3 L895.0,334.1 L896.0,334.0 L897.0,334.0 L898.0,333.9 L899.0,334.1 L900.0,333.7 L901.0,333.7 L902.0,333.5 L903.0,333.2 L904.0,333.3 L905.0,332.9 L906.0,333.1 L907.0,332.9 L908.0,332.6 L909.0,332.7 L910.0,332.4 L911.0,332.5 L912.0,332.0 L913.0,332.1 L914.0,332.2 L915.0,331.7 L916.0,331.2 L917.0,331.3 L918.0,331.5 L919.0,331.2 L920.0,330.7 L921.0,330.8 L922.0,330.6 L923.0,330.1 L924.0,330.3 L925.0,330.2 L926.0,330.0 L927.0,329.8 L928.0,330.0 L929.0,329.3 L930.0,329.3 L931.0,329.5 L932.0,329.1 L933.0,328.7 L934.0,328.9 L935.0,328.1 L936.0,328.4 L937.0,328.4 L938.0,327.9 L939.0,328.2 L940.0,327.9 L941.0,327.7 L942.0,328.1 L943.0,327.6 L944.0,327.3 L945.0,326.7 L946.0,326.6 L947.0,326.7 L948.0,326.6 L949.0,328.3 L950.0,326.0 L951.0,325.9 L952.0,325.9 L953.0,325.3 L954.0,325.4 L955.0,325.5 L956.0,325.0 L957.0,324.9 L958.0,324.8 L959.0,324.7 L960.0,324.5 L961.0,324.2 L962.0,324.0 L963.0,323.9 L964.0,323.9 L965.0,323.5 L966.0,323.8 L967.0,322.9 L968.0,323.4 L969.0,323.6 L970.0,323.2 L971.0,321.4 L972.0,323.1 L973.0,323.6 L974.0,323.2 L975.0,323.3 L976.0,322.9 L977.0,323.0 L978.0,322.9 L979.0,323.0 L980.0,323.0 L981.0,323.2 L982.0,323.0 L983.0,323.4 L984.0,323.4 L985.0,323.5 L986.0,323.3 L987.0,323.6 L988.0,324.2 L989.0,323.9 L990.0,323.9 L991.0,324.1 L992.0,324.4 L993.0,324.5 L994.0,324.3 L995.0,324.5 L996.0,324.9 L997.0,325.4 L998.0,325.5 L999.0,325.4 L1000.0,325.9 L1001.0,326.2 L1002.0,326.2 L1003.0,326.4 L1004.0,326.4 L1005.0,326.8 L1006.0,327.2 L1007.0,328.0 L1008.0,328.0 L1009.0,328.4 L1010.0,328.5 L1011.0,326.5 L1012.0,329.3 L1013.0,329.2 L1014.0,329.6 L1015.0,329.7 L1016.0,329.7 L1017.0,330.0 L1018.0,330.4 L1019.0,330.5 L1020.0,331.0 L1021.0,330.9 L1022.0,331.4 L1023.0,331.5 L1024.0,331.7 L1025.0,332.1 L1026.0,332.2 L1027.0,332.4 L1028.0,332.6 L1029.0,333.1 L1030.0,333.3 L1031.0,333.7 L1032.0,333.8 L1033.0,334.1 L1034.0,334.3 L1035.0,334.3 L1036.0,334.7 L1037.0,334.5 L1038.0,334.4 L1039.0,334.3 L1040.0,335.0 L1041.0,335.4 L1042.0,335.2 L1043.0,334.4 L1044.0,335.7 L1045.0,335.7 L1046.0,335.2 L1047.0,335.5 L1048.0,335.7 L1049.0,335.2 L1050.0,335.2 L1051.0,335.5 L1052.0,335.6 L1053.0,335.4 L1054.0,335.5 L1055.0,335.5 L1056.0,335.5 L1057.0,335.5 L1058.0,335.2 L1059.0,335.0 L1060.0,335.3 L1061.0,335.2 L1062.0,334.9 L1063.0,335.7 L1064.0,335.2 L1065.0,335.6 L1066.0,335.2 L1067.0,335.5 L1068.0,335.5 L1069.0,335.5 L1070.0,335.4 L1071.0,335.3 L1072.0,335.4 L1073.0,336.0 L1074.0,335.7 L1075.0,335.2 L1076.0,335.4 L1077.0,335.1 L1078.0,335.8 L1079.0,335.6 L1080.0,335.3 L1081.0,335.1 L1082.0,335.1 L1083.0,335.2 L1084.0,335.2 L1085.0,335.2 L1086.0,335.2 L1087.0,334.9 L1088.0,335.2 L1089.0,335.0 L1090.0,335.1 L1091.0,334.6 L1092.0,335.0 L1093.0,335.0 L1094.0,334.8 L1095.0,334.4 L1096.0,334.3 L1097.0,334.4 L1098.0,334.4 L1099.0,334.3 L1100.0,334.1 L1101.0,333.7 L1102.0,333.9 L1103.0,333.8 L1104.0,333.6 L1105.0,333.7 L1106.0,333.8 L1107.0,333.2 L1108.0,333.4 L1109.0,333.1 L1110.0,332.9 L1111.0,333.0 L1112.0,333.4 L1113.0,333.0 L1114.0,332.7 L1115.0,332.9 L1116.0,332.6 L1117.0,332.6 L1118.0,332.2 L1119.0,332.2 L1120.0,332.0 L1121.0,332.5 L1122.0,331.9 L1123.0,332.5 L1124.0,331.8 L1125.0,332.1 L1126.0,332.1 L1127.0,331.8 L1128.0,331.6 L1129.0,331.9 L1130.0,332.4 L1131.0,332.3 L1132.0,331.7 L1133.0,332.0 L1134.0,332.0 L1135.0,332.3 L1136.0,332.1 L1137.0,331.8 L1138.0,332.5 L1139.0,332.2 L1140.0,331.9 L1141.0,332.3 L1142.0,332.2 L1143.0,332.3 L1144.0,331.8 L1145.0,332.1 L1146.0,331.9 L1147.0,332.0 L1148.0,333.9 L1149.0,332.1 L1150.0,331.8 L1151.0,332.3 L1152.0,331.9 L1153.0,332.1 L1154.0,332.0 L1155.0,332.1 L1156.0,332.2 L1157.0,332.0 L1158.0,332.2 L1159.0,332.0 L1160.0,332.2 L1161.0,332.1 L1162.0,332.1 L1163.0,331.8 L1164.0,332.2 L1165.0,332.3 L1166.0,332.4 L1167.0,332.9 L1168.0,332.5 L1169.0,333.0 L1170.0,333.5 L1171.0,332.9 L1172.0,333.3 L1173.0,333.5 L1174.0,333.4 L1175.0,333.6 L1176.0,333.8 L1177.0,334.3 L1178.0,333.8 L1179.0,334.2 L1180.0,334.2 L1181.0,334.7 L1182.0,334.7 L1183.0,334.9 L1184.0,334.8 L1185.0,334.8 L1186.0,334.8 L1187.0,334.8 L1188.0,334.8 L1189.0,335.2 L1190.0,335.3 L1191.0,335.3 L1192.0,334.9 L1193.0,335.4 L1194.0,336.0 L1195.0,335.4 L1196.0,335.2 L1197.0,335.7 L1198.0,335.2 L1199.0,335.4 L1200.0,335.5 L1201.0,335.3 L1202.0,335.2 L1203.0,335.5 L1204.0,335.1 L1205.0,335.5 L1206.0,335.5 L1207.0,335.2 L1208.0,335.6 L1209.0,335.1 L1210.0,335.4 L1211.0,335.2 L1212.0,335.1 L1213.0,335.3 L1214.0,335.4 L1215.0,335.6 L1216.0,335.5 L1217.0,335.2 L1218.0,335.4 L1219.0,334.8 L1220.0,335.6 L1221.0,335.4 L1222.0,335.4 L1223.0,335.3 L1224.0,335.0 L1225.0,335.5 L1226.0,335.4 L1227.0,335.4 L1228.0,335.6 L1229.0,335.4 L1230.0,335.3 L1231.0,335.6 L1232.0,335.3 L1233.0,335.2 L1234.0,334.9 L1235.0,335.3 L1236.0,335.3 L1237.0,335.2 L1238.0,335.5 L1239.0,335.0 L1240.0,335.4 L1241.0,335.4 L1242.0,333.7 L1243.0,335.4 L1244.0,335.3 L1245.0,335.6 L1246.0,335.7 L1247.0,335.4 L1248.0,335.2 L1249.0,335.5 L1250.0,335.1 L1251.0,335.7 L1252.0,335.4 L1253.0,335.2 L1254.0,335.8 L1255.0,335.1 L1256.0,335.6 L1257.0,335.3 L1258.0,335.2 L1259.0,335.0 L1260.0,334.8 L1261.0,335.3 L1262.0,335.0 L1263.0,335.3 L1264.0,335.0 L1265.0,335.1 L1266.0,335.3 L1267.0,334.5 L1268.0,334.8 L1269.0,334.6 L1270.0,334.8 L1271.0,334.5 L1272.0,334.4 L1273.0,334.2 L1274.0,334.3 L1275.0,333.9 L1276.0,334.3 L1277.0,333.5 L1278.0,334.1 L1279.0,334.0 L1280.0,333.9 L1281.0,333.7 L1282.0,333.9 L1283.0,333.8 L1284.0,333.7 L1285.0,333.4 L1286.0,333.5 L1287.0,333.3 L1288.0,333.2 L1289.0,333.5 L1290.0,332.9 L1291.0,333.1 L1292.0,332.9 L1293.0,332.7 L1294.0,333.3 L1295.0,333.2 L1296.0,333.1 L1297.0,332.8 L1298.0,333.1 L1299.0,333.3 L1300.0,332.7 L1301.0,333.2 L1302.0,332.9 L1303.0,332.8 L1304.0,331.7 L1305.0,331.7 L1306.0,330.7 L1307.0,330.1 L1308.0,329.5 L1309.0,329.2 L1310.0,328.3 L1311.0,328.0 L1312.0,327.3 L1313.0,327.1 L1314.0,326.8 L1315.0,326.0 L1316.0,326.0 L1317.0,325.7 L1318.0,325.5 L1319.0,325.5 L1320.0,325.0 L1321.0,324.7 L1322.0,324.4 L1323.0,324.1 L1324.0,323.5 L1325.0,323.5 L1326.0,323.1 L1327.0,322.7 L1328.0,322.9 L1329.0,322.1 L1330.0,321.8 L1331.0,320.9 L1332.0,321.9 L1333.0,321.8 L1334.0,321.1 L1335.0,320.6 L1336.0,320.9 L1337.0,321.0 L1338.0,321.2 L1339.0,323.4 L1340.0,321.8 L1341.0,323.4 L1342.0,323.9 L1343.0,325.1 L1344.0,326.2 L1345.0,326.8 L1346.0,328.5 L1347.0,329.4 L1348.0,328.3 L1349.0,328.5 L1350.0,329.4 L1351.0,327.5 L1352.0,327.8 L1353.0,327.1 L1354.0,326.8 L1355.0,325.2 L1356.0,324.2 L1357.0,323.5 L1358.0,322.6 L1359.0,321.4 L1360.0,321.0 L1361.0,320.7 L1362.0,320.5 L1363.0,321.0 L1364.0,321.1 L1365.0,320.9 L1366.0,320.1 L1367.0,321.4 L1368.0,321.3 L1369.0,320.8 L1370.0,321.7 L1371.0,321.9 L1372.0,322.6 L1373.0,323.3 L1374.0,324.8 L1375.0,325.0 L1376.0,326.8 L1377.0,327.8 L1378.0,329.7 L1379.0,331.1 L1380.0,333.9 L1381.0,336.7 L1382.0,339.0 L1383.0,342.5 L1384.0,344.5 L1385.0,347.3 L1386.0,349.1 L1387.0,351.6 L1388.0,354.6 L1389.0,355.5 L1390.0,358.0 L1391.0,358.5 L1392.0,360.7 L1393.0,362.6 L1394.0,364.5 L1395.0,365.1 L1396.0,367.9 L1397.0,366.7 L1398.0,369.6 L1399.0,368.7 L1400.0,369.6 L1401.0,371.0 L1402.0,370.8 L1403.0,371.5 L1404.0,373.1 L1405.0,373.5 L1406.0,373.4 L1407.0,374.0 L1408.0,374.8 L1409.0,374.8 L1410.0,374.9 L1411.0,375.4 L1412.0,375.6 L1413.0,374.6 L1414.0,374.5 L1415.0,374.5 L1416.0,372.9 L1417.0,371.2 L1418.0,373.4 L1419.0,372.5 L1420.0,373.2 L1421.0,374.3 L1422.0,373.8 L1423.0,373.4 L1424.0,375.3 L1425.0,372.9 L1426.0,375.2 L1427.0,375.0 L1428.0,374.4 L1429.0,374.7 L1430.0,374.6 L1431.0,375.5 L1432.0,375.1 L1433.0,372.7 L1434.0,374.4 L1435.0,374.0 L1436.0,373.5 L1437.0,372.3 L1438.0,369.9 L1439.0,369.4 L1440.0,363.9 L1441.0,361.1 L1442.0,356.5 L1443.0,354.2 L1444.0,352.2 L1445.0,349.6 L1446.0,348.3 L1447.0,346.8 L1448.0,345.2 L1449.0,344.1 L1450.0,344.1 L1451.0,343.1 L1452.0,342.5 L1453.0,341.9 L1454.0,338.2 L1455.0,339.2 L1456.0,338.7 L1457.0,337.4 L1458.0,336.3 L1459.0,335.3 L1460.0,334.7 L1461.0,333.7 L1462.0,333.3 L1463.0,332.6 L1464.0,332.2 L1465.0,331.0 L1466.0,330.3 L1467.0,329.7 L1468.0,328.9 L1469.0,328.4 L1470.0,327.4 L1471.0,327.3 L1472.0,326.1 L1473.0,326.8 L1474.0,326.0 L1475.0,325.8 L1476.0,324.5 L1477.0,324.4 L1478.0,324.4 L1479.0,323.6 L1480.0,325.0 L1481.0,325.0 L1482.0,324.9 L1483.0,325.7 L1484.0,324.8 L1485.0,325.6 L1486.0,328.9 L1487.0,327.6 L1488.0,327.9 L1489.0,328.8 L1490.0,329.4 L1491.0,330.2 L1492.0,331.8 L1493.0,333.4 L1494.0,335.7 L1495.0,337.1 L1496.0,338.6 L1497.0,338.1 L1498.0,339.5 L1499.0,339.9 L1500.0,340.2 L1501.0,340.6 L1502.0,341.4 L1503.0,340.7 L1504.0,337.6 L1505.0,337.7 L1506.0,335.5 L1507.0,335.1 L1508.0,334.6 L1509.0,334.0 L1510.0,334.8 L1511.0,332.9 L1512.0,333.4 L1513.0,335.0 L1514.0,335.7 L1515.0,336.2 L1516.0,337.3 L1517.0,338.4 L1518.0,339.2 L1519.0,339.7 L1520.0,340.6 L1521.0,340.9 L1522.0,341.0 L1523.0,340.5 L1524.0,341.5 L1525.0,340.6 L1526.0,340.9 L1527.0,339.1 L1528.0,340.5 L1529.0,341.4 L1530.0,342.8 L1531.0,341.9 L1532.0,341.0 L1533.0,341.3 L1534.0,338.1 L1535.0,340.0 L1536.0,340.5 L1537.0,341.2 L1538.0,345.5 L1539.0,347.2 L1540.0,349.7 L1541.0,349.4 L1542.0,348.1 L1543.0,348.3 L1544.0,344.0 L1545.0,341.4 L1546.0,340.5 L1547.0,336.9 L1548.0,338.4 L1549.0,338.5 L1550.0,335.6 L1551.0,335.9 L1552.0,335.5 L1553.0,334.5 L1554.0,335.7 L1555.0,333.8 L1556.0,332.8 L1557.0,333.5 L1558.0,332.2 L1559.0,331.1 L1560.0,330.6 L1561.0,330.0 L1562.0,330.1 L1563.0,329.8 L1564.0,329.9 L1565.0,329.3 L1566.0,329.5 L1567.0,330.1 L1568.0,330.7 L1569.0,331.2 L1570.0,331.1 L1571.0,330.2 L1572.0,330.8 L1573.0,331.4 L1574.0,330.8 L1575.0,330.6 L1576.0,330.3 L1577.0,330.8 L1578.0,330.3 L1579.0,330.1 L1580.0,329.4 L1581.0,329.9 L1582.0,329.1 L1583.0,328.8 L1584.0,328.8 L1585.0,328.7 L1586.0,329.5 L1587.0,329.7 L1588.0,329.0 L1589.0,329.0 L1590.0,330.3 L1591.0,329.8 L1592.0,330.1 L1593.0,329.7 L1594.0,331.4 L1595.0,329.7 L1596.0,330.3 L1597.0,330.7 L1598.0,329.9 L1599.0,330.0 L1600.0,330.7 L1601.0,331.0 L1602.0,330.9 L1603.0,331.0 L1604.0,331.2 L1605.0,332.4 L1606.0,331.4 L1607.0,331.2 L1608.0,330.9 L1609.0,330.2 L1610.0,330.6 L1611.0,329.9 L1612.0,329.6 L1613.0,328.1 L1614.0,328.5 L1615.0,330.0 L1616.0,327.6 L1617.0,328.0 L1618.0,327.4 L1619.0,327.3 L1620.0,327.2 L1621.0,325.5 L1622.0,326.5 L1623.0,324.9 L1624.0,324.8 L1625.0,324.3 L1626.0,325.8 L1627.0,324.9 L1628.0,325.4 L1629.0,324.8 L1630.0,326.0 L1631.0,324.6 L1632.0,325.2 L1633.0,324.8 L1634.0,325.2 L1635.0,326.1 L1636.0,325.6 L1637.0,325.8 L1638.0,326.1 L1639.0,325.7 L1640.0,325.5 L1641.0,325.8 L1642.0,326.4 L1643.0,327.4 L1644.0,327.1 L1645.0,327.1 L1646.0,327.6 L1647.0,327.5 L1648.0,328.5 L1649.0,328.7 L1650.0,328.3 L1651.0,329.7 L1652.0,328.7 L1653.0,329.7 L1654.0,329.6 L1655.0,330.4 L1656.0,330.6 L1657.0,330.3 L1658.0,330.5 L1659.0,329.8 L1660.0,329.9 L1661.0,330.6 L1662.0,330.8 L1663.0,330.5 L1664.0,331.1 L1665.0,331.4 L1666.0,330.1 L1667.0,331.2 L1668.0,332.1 L1669.0,331.4 L1670.0,331.9 L1671.0,330.9 L1672.0,333.9 L1673.0,333.6 L1674.0,336.1 L1675.0,337.2 L1676.0,340.0 L1677.0,342.1 L1678.0,345.0 L1679.0,347.5 L1680.0,350.8 L1681.0,349.4 L1682.0,349.0 L1683.0,347.0 L1684.0,345.7 L1685.0,344.0 L1686.0,343.1 L1687.0,340.7 L1688.0,340.8 L1689.0,340.4 L1690.0,340.8 L1691.0,340.1 L1692.0,340.8 L1693.0,339.8 L1694.0,341.1 L1695.0,340.3 L1696.0,340.1 L1697.0,340.2 L1698.0,340.2 L1699.0,340.2 L1700.0,340.4 L1701.0,338.3 L1702.0,339.3 L1703.0,338.7 L1704.0,338.9 L1705.0,338.5 L1706.0,339.1 L1707.0,337.9 L1708.0,338.0 L1709.0,338.2 L1710.0,338.6 L1711.0,337.1 L1712.0,337.7 L1713.0,338.2 L1714.0,337.3 L1715.0,338.7 L1716.0,337.9 L1717.0,339.5 L1718.0,339.8 L1719.0,342.2 L1720.0,339.4 L1721.0,342.9 L1722.0,342.2 L1723.0,343.7 L1724.0,343.9 L1725.0,342.3 L1726.0,342.7 L1727.0,342.3 L1728.0,341.9 L1729.0,340.6 L1730.0,337.8 L1731.0,338.0 L1732.0,337.5 L1733.0,335.7 L1734.0,335.3 L1735.0,334.3 L1736.0,333.3 L1737.0,334.2 L1738.0,332.7 L1739.0,333.0 L1740.0,332.0 L1741.0,331.5 L1742.0,330.2 L1743.0,329.7 L1744.0,329.5 L1745.0,329.0 L1746.0,328.1 L1747.0,329.3 L1748.0,329.0 L1749.0,327.9 L1750.0,327.5 L1751.0,327.1 L1752.0,326.6 L1753.0,327.2 L1754.0,326.9 L1755.0,327.1 L1756.0,327.3 L1757.0,327.8 L1758.0,326.7 L1759.0,324.6 L1760.0,326.5 L1761.0,326.7 L1762.0,326.1 L1763.0,327.3 L1764.0,326.7 L1765.0,325.8 L1766.0,326.4 L1767.0,327.0 L1768.0,326.7 L1769.0,326.1 L1770.0,326.6 L1771.0,326.5 L1772.0,326.1 L1773.0,326.5 L1774.0,325.8 L1775.0,326.2 L1776.0,325.8 L1777.0,326.9 L1778.0,327.0 L1779.0,326.4 L1780.0,326.7 L1781.0,327.4 L1782.0,326.1 L1783.0,326.9 L1784.0,327.3 L1785.0,327.4 L1786.0,327.0 L1787.0,326.4 L1788.0,327.2 L1789.0,330.1 L1790.0,327.5 L1791.0,328.0 L1792.0,328.0 L1793.0,328.6 L1794.0,328.0 L1795.0,328.6 L1796.0,328.7 L1797.0,328.3 L1798.0,329.1 L1799.0,329.6 L1800.0,329.6 L1801.0,329.4 L1802.0,329.7 L1803.0,329.7 L1804.0,330.2 L1805.0,331.6 L1806.0,331.6 L1807.0,331.8 L1808.0,332.1 L1809.0,333.7 L1810.0,332.9 L1811.0,333.6 L1812.0,332.9 L1813.0,333.7 L1814.0,333.9 L1815.0,334.5 L1816.0,334.2 L1817.0,334.6 L1818.0,334.8 L1819.0,335.3 L1820.0,334.7 L1821.0,335.5 L1822.0,335.6 L1823.0,337.5 L1824.0,335.3 L1825.0,334.2 L1826.0,336.0 L1827.0,333.1 L1828.0,333.0 L1829.0,332.4 L1830.0,332.0 L1831.0,332.3 L1832.0,331.6 L1833.0,332.3 L1834.0,331.3 L1835.0,332.4 L1836.0,331.5 L1837.0,331.6 L1838.0,331.6 L1839.0,331.9 L1840.0,328.3 L1841.0,331.3 L1842.0,331.8 L1843.0,331.7 L1844.0,332.5 L1845.0,332.0 L1846.0,332.3 L1847.0,331.0 L1848.0,331.1 L1849.0,330.8 L1850.0,331.0 L1851.0,331.2 L1852.0,332.2 L1853.0,330.6 L1854.0,332.1 L1855.0,331.2 L1856.0,331.0 L1857.0,330.9 L1858.0,333.2 L1859.0,331.0 L1860.0,331.0 L1861.0,331.0 L1862.0,331.1 L1863.0,331.2 L1864.0,330.9 L1865.0,330.7 L1866.0,331.4 L1867.0,331.1 L1868.0,331.1 L1869.0,330.1 L1870.0,331.0 L1871.0,330.7 L1872.0,330.5 L1873.0,330.8 L1874.0,330.6 L1875.0,330.1 L1876.0,330.4 L1877.0,331.4 L1878.0,330.9 L1879.0,330.7 L1880.0,331.2 L1881.0,330.4 L1882.0,332.2 L1883.0,332.2 L1884.0,331.9 L1885.0,332.3 L1886.0,332.1 L1887.0,332.4 L1888.0,332.7 L1889.0,332.8 L1890.0,333.5 L1891.0,332.9 L1892.0,333.8 L1893.0,333.2 L1894.0,333.8 L1895.0,334.4 L1896.0,334.6 L1897.0,334.7 L1898.0,335.9 L1899.0,334.7 L1900.0,334.1 L1901.0,334.7 L1902.0,333.8 L1903.0,334.2 L1904.0,335.3 L1905.0,334.7 L1906.0,334.8 L1907.0,334.3 L1908.0,334.4 L1909.0,334.9 L1910.0,334.6 L1911.0,335.4 L1912.0,334.3 L1913.0,334.3 L1914.0,334.9 L1915.0,334.1 L1916.0,335.1 L1917.0,335.5 L1918.0,335.7 L1919.0,334.3 L1920.0,334.7 L1921.0,335.3 L1922.0,334.8 L1923.0,335.2 L1924.0,334.3 L1925.0,335.0 L1926.0,335.4 L1927.0,334.8 L1928.0,335.4 L1929.0,335.2 L1930.0,335.1 L1931.0,334.8 L1932.0,335.1 L1933.0,335.4 L1934.0,335.2 L1935.0,335.6 L1936.0,335.5 L1937.0,334.8 L1938.0,337.3 L1939.0,335.8 L1940.0,335.6 L1941.0,335.2 L1942.0,334.8 L1943.0,335.4 L1944.0,335.5 L1945.0,335.9 L1946.0,335.4 L1947.0,335.4 L1948.0,337.8 L1949.0,336.0 L1950.0,335.8 L1951.0,336.1 L1952.0,334.9 L1953.0,335.5 L1954.0,335.0 L1955.0,335.4 L1956.0,334.4 L1957.0,334.7 L1958.0,334.5 L1959.0,333.6 L1960.0,333.8 L1961.0,333.5 L1962.0,333.2 L1963.0,332.8 L1964.0,332.3 L1965.0,332.9 L1966.0,332.5 L1967.0,332.3 L1968.0,332.0 L1969.0,332.0 L1970.0,331.3 L1971.0,331.0 L1972.0,331.4 L1973.0,329.4 L1974.0,331.2 L1975.0,331.0 L1976.0,330.1 L1977.0,330.0 L1978.0,330.1 L1979.0,331.3 L1980.0,330.6 L1981.0,328.5 L1982.0,330.8 L1983.0,330.7 L1984.0,330.1 L1985.0,330.7 L1986.0,330.4 L1987.0,330.4 L1988.0,330.5 L1989.0,330.9 L1990.0,330.7 L1991.0,329.6 L1992.0,330.1 L1993.0,331.0 L1994.0,331.4 L1995.0,329.9 L1996.0,330.9 L1997.0,329.7 L1998.0,330.9 L1999.0,330.3 L2000.0,330.9 L2001.0,330.6 L2002.0,330.0 L2003.0,329.9 L2004.0,329.8 L2005.0,329.5 L2006.0,328.9 L2007.0,329.9 L2008.0,330.4 L2009.0,330.2 L2010.0,330.6 L2011.0,330.1 L2012.0,330.7 L2013.0,330.6 L2014.0,330.2 L2015.0,331.9"/>
</g>
<g stroke="#000" stroke-width="4.3" stroke-dasharray="17.9 16.333" fill="none">
<line x1="446.1" y1="295.9" x2="446.1" y2="1339.6"/>
<line x1="718.3" y1="296.0" x2="718.3" y2="1305.8"/>
<line x1="757.7" y1="299.6" x2="757.7" y2="1310.2"/>
<line x1="1410.8" y1="299.8" x2="1410.8" y2="1309.3"/>
</g>
<rect x="143.95" y="52.03" width="1870.8" height="1373.6" fill="none" stroke="#000" stroke-width="5.95"/>
<g stroke="#000" stroke-width="6.2" stroke-linecap="butt">
<line x1="409.9" y1="1425.65" x2="409.9" y2="1457.5"/>
<line x1="677.9" y1="1425.65" x2="677.9" y2="1457.5"/>
<line x1="943.8" y1="1425.65" x2="943.8" y2="1457.5"/>
<line x1="1212.4" y1="1425.65" x2="1212.4" y2="1457.5"/>
<line x1="1480.1" y1="1425.65" x2="1480.1" y2="1457.5"/>
<line x1="1746.4" y1="1425.65" x2="1746.4" y2="1457.5"/>
<line x1="2014.7" y1="1425.65" x2="2014.7" y2="1457.5"/>
<line x1="277.0" y1="1425.65" x2="277.0" y2="1442.5"/>
<line x1="545.0" y1="1425.65" x2="545.0" y2="1442.5"/>
<line x1="810.5" y1="1425.65" x2="810.5" y2="1442.5"/>
<line x1="1078.8" y1="1425.65" x2="1078.8" y2="1442.5"/>
<line x1="1344.9" y1="1425.65" x2="1344.9" y2="1442.5"/>
<line x1="1613.1" y1="1425.65" x2="1613.1" y2="1442.5"/>
<line x1="1879.6" y1="1425.65" x2="1879.6" y2="1442.5"/>
</g>
<text x="349.8" y="1511.7" font-size="57.8" textLength="118.4" lengthAdjust="spacingAndGlyphs">3500</text>
<text x="615.7" y="1511.7" font-size="57.8" textLength="119.5" lengthAdjust="spacingAndGlyphs">3000</text>
<text x="884.6" y="1511.7" font-size="57.8" textLength="117.5" lengthAdjust="spacingAndGlyphs">2500</text>
<text x="1150.7" y="1511.7" font-size="57.8" textLength="119.3" lengthAdjust="spacingAndGlyphs">2000</text>
<text x="1418.4" y="1511.7" font-size="57.8" textLength="117.4" lengthAdjust="spacingAndGlyphs">1500</text>
<text x="1687.0" y="1511.7" font-size="57.8" textLength="117.3" lengthAdjust="spacingAndGlyphs">1000</text>
<text x="1966.4" y="1511.7" font-size="57.8" textLength="89.6" lengthAdjust="spacingAndGlyphs">500</text>
<text><tspan x="279.8" y="260.4" font-size="46.5" textLength="93.4" lengthAdjust="spacingAndGlyphs">3436</tspan> <tspan x="385.6" y="260.4" font-size="46.5" textLength="63.6" lengthAdjust="spacingAndGlyphs">cm</tspan><tspan x="444.8" y="233.8" font-size="40.3" textLength="32.9" lengthAdjust="spacingAndGlyphs">-1</tspan></text>
<text><tspan x="547.9" y="264.4" font-size="46.5" textLength="94.6" lengthAdjust="spacingAndGlyphs">2924</tspan> <tspan x="651.3" y="264.4" font-size="46.5" textLength="64.2" lengthAdjust="spacingAndGlyphs">cm</tspan><tspan x="712.7" y="238.0" font-size="40.3" textLength="33.5" lengthAdjust="spacingAndGlyphs">-1</tspan></text>
<text><tspan x="776.9" y="272.9" font-size="46.5" textLength="94.0" lengthAdjust="spacingAndGlyphs">2854</tspan> <tspan x="882.4" y="272.9" font-size="46.5" textLength="63.7" lengthAdjust="spacingAndGlyphs">cm</tspan><tspan x="941.4" y="244.3" font-size="40.3" textLength="37.2" lengthAdjust="spacingAndGlyphs">-1</tspan></text>
<text><tspan x="1335.7" y="256.5" font-size="46.5" textLength="95.9" lengthAdjust="spacingAndGlyphs">1630</tspan> <tspan x="1441.4" y="256.5" font-size="46.5" textLength="61.5" lengthAdjust="spacingAndGlyphs">cm</tspan><tspan x="1500.6" y="229.6" font-size="40.3" textLength="32.9" lengthAdjust="spacingAndGlyphs">-1</tspan></text>
<text x="1783.9" y="310.4" font-size="46.5" textLength="196.8" lengthAdjust="spacingAndGlyphs">CCGA 80</text>
<text x="1783.9" y="495.0" font-size="46.5" textLength="196.8" lengthAdjust="spacingAndGlyphs">CCGA 60</text>
<text x="1786.3" y="676.1" font-size="46.5" textLength="198.1" lengthAdjust="spacingAndGlyphs">CCGA 40</text>
<text x="1824.3" y="860.8" font-size="46.5" textLength="68.8" lengthAdjust="spacingAndGlyphs">GP</text>
<text x="1766.8" y="1058.5" font-size="46.5" textLength="212.1" lengthAdjust="spacingAndGlyphs">MWCNTs</text>
<text x="1818.4" y="1203.8" font-size="46.5" textLength="101.4" lengthAdjust="spacingAndGlyphs">NFC</text>
<text transform="translate(82.8,893.2) rotate(-90)" font-size="54.5" textLength="325.0" lengthAdjust="spacingAndGlyphs">Transmittance</text>
<text><tspan x="863.7" y="1594.3" font-size="53" textLength="335.0" lengthAdjust="spacingAndGlyphs">Wavenumbers</tspan> <tspan x="1208.5" y="1594.3" font-size="53" textLength="19.2" lengthAdjust="spacingAndGlyphs">(</tspan><tspan x="1227.6" y="1594.3" font-size="53" textLength="69.4" lengthAdjust="spacingAndGlyphs">cm</tspan><tspan x="1292.7" y="1561.9" font-size="31.4" textLength="31.3" lengthAdjust="spacingAndGlyphs">-1</tspan><tspan x="1320.0" y="1594.3" font-size="53" textLength="17.7" lengthAdjust="spacingAndGlyphs">)</tspan></text>
</svg></body></html>
